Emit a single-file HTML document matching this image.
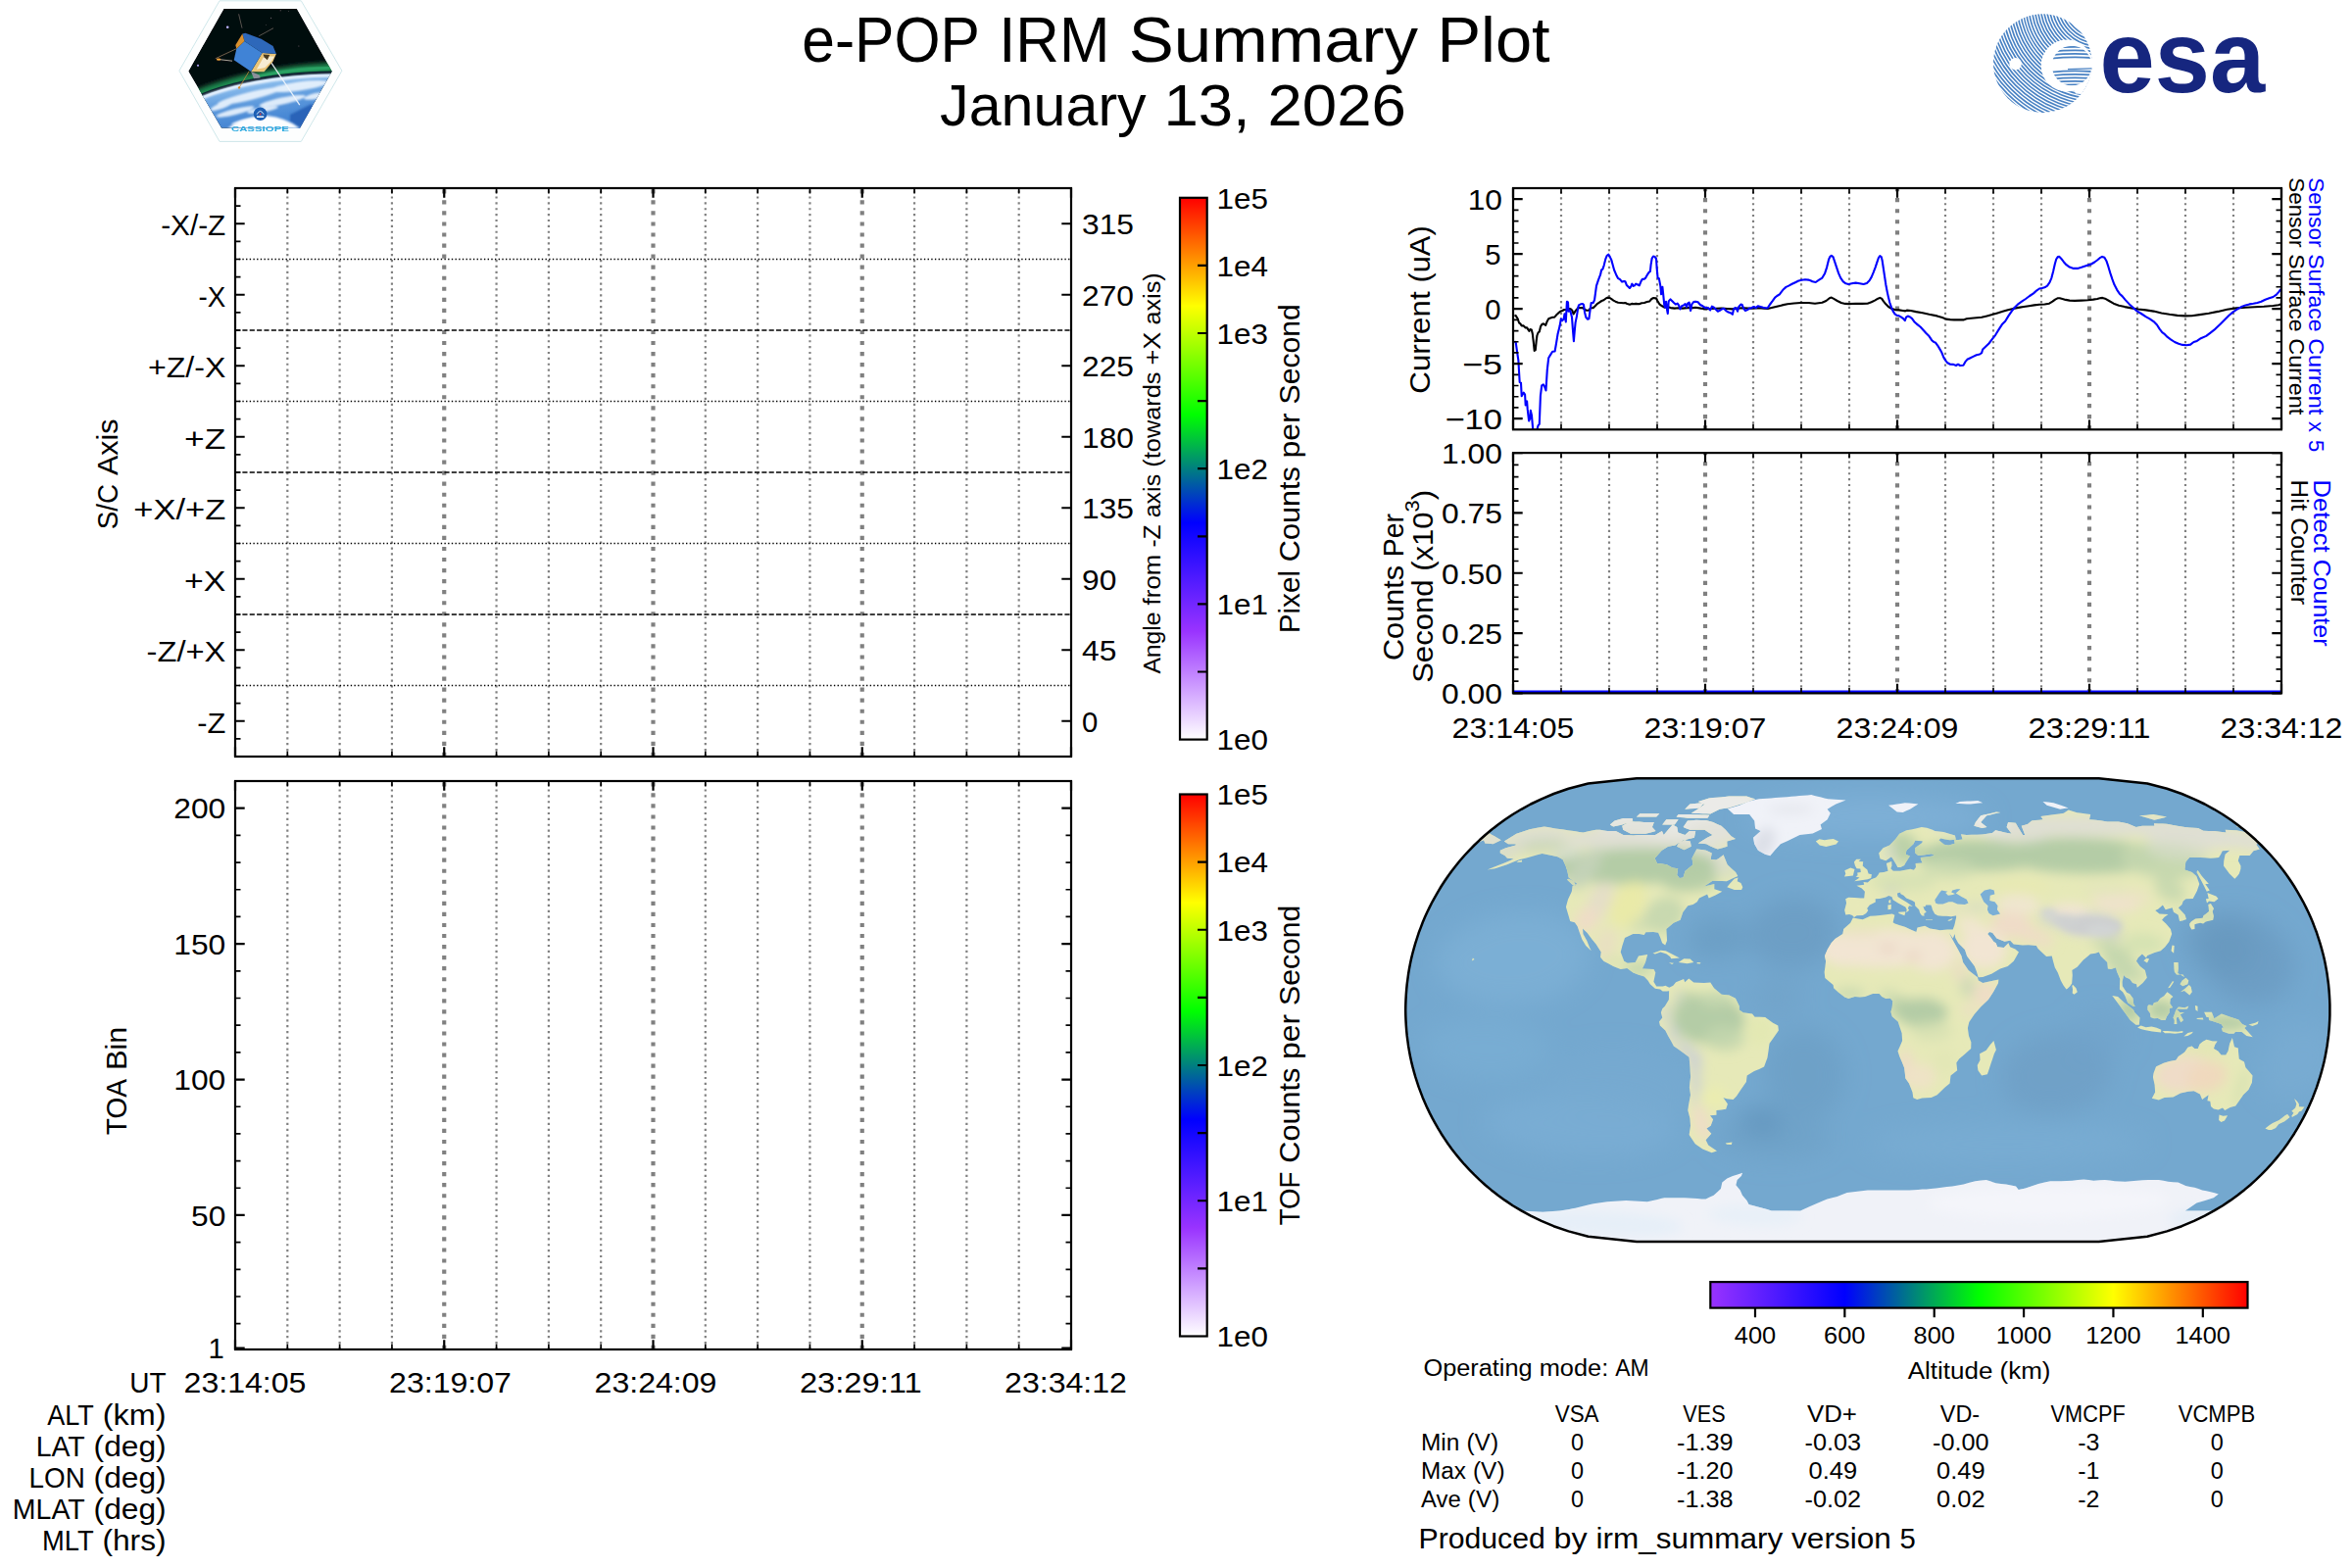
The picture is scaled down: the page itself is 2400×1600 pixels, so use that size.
<!DOCTYPE html>
<html><head><meta charset="utf-8"><title>e-POP IRM Summary Plot</title>
<style>html,body{margin:0;padding:0;background:#fff}svg{display:block}</style></head>
<body>
<svg width="2400" height="1600" viewBox="0 0 2400 1600" font-family="'Liberation Sans', sans-serif">
<rect width="2400" height="1600" fill="#fff"/>
<defs>
<linearGradient id="cm1" x1="0" y1="0" x2="0" y2="1">
<stop offset="0" stop-color="#ff0000"/><stop offset="0.2" stop-color="#ffff00"/><stop offset="0.4" stop-color="#00ff00"/><stop offset="0.6" stop-color="#0000ff"/><stop offset="0.8" stop-color="#9933ff"/><stop offset="1" stop-color="#ffffff"/>
</linearGradient>
<linearGradient id="cm2" x1="0" y1="0" x2="1" y2="0">
<stop offset="0" stop-color="#9933ff"/><stop offset="0.25" stop-color="#0000ff"/><stop offset="0.5" stop-color="#00ff00"/><stop offset="0.75" stop-color="#ffff00"/><stop offset="1" stop-color="#ff0000"/>
</linearGradient>
<clipPath id="mapclip"><path d="M2141.7 1266.9L2191.1 1261.7L2211.2 1256.4L2226.3 1251.2L2238.8 1245.9L2249.7 1240.7L2259.3 1235.4L2268.0 1230.2L2275.9 1224.9L2283.1 1219.7L2289.9 1214.4L2296.1 1209.2L2302.0 1203.9L2307.4 1198.7L2312.6 1193.4L2317.4 1188.2L2322.0 1182.9L2326.2 1177.7L2330.3 1172.4L2334.1 1167.2L2337.7 1161.9L2341.1 1156.7L2344.3 1151.4L2347.3 1146.1L2350.2 1140.9L2352.9 1135.6L2355.4 1130.4L2357.8 1125.1L2360.0 1119.9L2362.0 1114.6L2364.0 1109.4L2365.7 1104.1L2367.4 1098.9L2368.9 1093.6L2370.3 1088.4L2371.6 1083.1L2372.7 1077.9L2373.7 1072.6L2374.6 1067.4L2375.3 1062.1L2376.0 1056.9L2376.5 1051.6L2376.9 1046.4L2377.2 1041.1L2377.4 1035.9L2377.4 1030.6L2377.4 1025.3L2377.2 1020.1L2376.9 1014.8L2376.5 1009.6L2376.0 1004.3L2375.3 999.1L2374.6 993.8L2373.7 988.6L2372.7 983.3L2371.6 978.1L2370.3 972.8L2368.9 967.6L2367.4 962.3L2365.7 957.1L2364.0 951.8L2362.0 946.6L2360.0 941.3L2357.8 936.1L2355.4 930.8L2352.9 925.6L2350.2 920.3L2347.3 915.1L2344.3 909.8L2341.1 904.5L2337.7 899.3L2334.1 894.0L2330.3 888.8L2326.2 883.5L2322.0 878.3L2317.4 873.0L2312.6 867.8L2307.4 862.5L2302.0 857.3L2296.1 852.0L2289.9 846.8L2283.1 841.5L2275.9 836.3L2268.0 831.0L2259.3 825.8L2249.7 820.5L2238.8 815.3L2226.3 810.0L2211.2 804.8L2191.1 799.5L2141.7 794.2L1670.0 794.2L1620.6 799.5L1600.5 804.8L1585.4 810.0L1572.9 815.3L1562.0 820.5L1552.4 825.8L1543.7 831.0L1535.8 836.3L1528.6 841.5L1521.8 846.8L1515.6 852.0L1509.7 857.3L1504.3 862.5L1499.1 867.8L1494.3 873.0L1489.7 878.3L1485.5 883.5L1481.4 888.8L1477.6 894.0L1474.0 899.3L1470.6 904.5L1467.4 909.8L1464.4 915.1L1461.5 920.3L1458.8 925.6L1456.3 930.8L1453.9 936.1L1451.7 941.3L1449.7 946.6L1447.7 951.8L1446.0 957.1L1444.3 962.3L1442.8 967.6L1441.4 972.8L1440.1 978.1L1439.0 983.3L1438.0 988.6L1437.1 993.8L1436.4 999.1L1435.7 1004.3L1435.2 1009.6L1434.8 1014.8L1434.5 1020.1L1434.3 1025.3L1434.2 1030.6L1434.3 1035.9L1434.5 1041.1L1434.8 1046.4L1435.2 1051.6L1435.7 1056.9L1436.4 1062.1L1437.1 1067.4L1438.0 1072.6L1439.0 1077.9L1440.1 1083.1L1441.4 1088.4L1442.8 1093.6L1444.3 1098.9L1446.0 1104.1L1447.7 1109.4L1449.7 1114.6L1451.7 1119.9L1453.9 1125.1L1456.3 1130.4L1458.8 1135.6L1461.5 1140.9L1464.4 1146.1L1467.4 1151.4L1470.6 1156.7L1474.0 1161.9L1477.6 1167.2L1481.4 1172.4L1485.5 1177.7L1489.7 1182.9L1494.3 1188.2L1499.1 1193.4L1504.3 1198.7L1509.7 1203.9L1515.6 1209.2L1521.8 1214.4L1528.6 1219.7L1535.8 1224.9L1543.7 1230.2L1552.4 1235.4L1562.0 1240.7L1572.9 1245.9L1585.4 1251.2L1600.5 1256.4L1620.6 1261.7L1670.0 1266.9Z"/></clipPath>
<clipPath id="landclip"><path d="M1534.8 858.6L1547.3 850.7L1554.1 848.5L1560.8 846.2L1568.3 844.8L1575.7 843.4L1579.5 844.1L1583.4 844.8L1587.2 845.5L1591.4 846.1L1595.6 846.6L1599.8 847.2L1604.0 847.8L1607.8 848.3L1611.6 848.9L1615.5 849.4L1622.0 848.1L1628.5 846.8L1632.8 846.8L1636.5 847.4L1640.2 848.1L1644.5 848.1L1648.8 848.1L1652.6 850.1L1656.5 852.0L1661.7 852.3L1667.0 852.5L1671.7 852.0L1677.1 852.0L1682.5 852.0L1689.0 852.0L1695.9 848.1L1697.7 852.0L1702.1 846.8L1706.7 841.5L1711.3 844.1L1712.3 849.4L1715.8 850.7L1719.4 852.0L1723.8 848.1L1730.2 848.1L1728.9 854.7L1721.4 856.5L1713.1 859.9L1709.5 862.5L1702.2 863.8L1695.7 867.8L1688.6 875.7L1690.9 880.9L1695.9 881.6L1700.8 882.2L1706.6 885.4L1712.2 886.2L1711.2 892.7L1713.7 895.9L1717.5 895.4L1719.6 888.8L1727.6 882.2L1726.5 875.7L1731.3 866.5L1736.1 867.1L1740.9 867.8L1746.7 870.4L1745.6 877.0L1751.2 877.5L1754.1 875.7L1758.6 872.2L1762.6 882.2L1766.8 886.2L1771.1 890.1L1773.3 894.0L1768.6 895.9L1761.9 899.3L1757.1 899.1L1752.4 898.9L1747.6 898.8L1739.0 904.5L1744.1 903.2L1749.3 901.9L1749.3 907.2L1757.3 909.8L1750.4 913.5L1743.7 916.4L1742.1 912.4L1733.9 916.4L1731.8 920.3L1727.6 922.9L1722.3 924.2L1717.3 930.8L1714.6 938.7L1707.7 941.8L1700.3 947.9L1700.7 953.8L1701.1 959.7L1699.2 964.4L1696.1 962.3L1694.3 957.1L1692.1 951.8L1687.1 951.0L1679.4 951.3L1677.7 953.9L1672.7 953.1L1666.4 952.9L1658.0 957.1L1655.4 964.9L1653.7 971.5L1657.2 980.7L1660.8 982.8L1668.7 982.0L1672.0 975.5L1681.2 974.1L1679.0 982.0L1675.8 988.6L1681.7 988.8L1687.5 989.1L1689.3 992.5L1687.4 1001.7L1690.3 1006.4L1696.8 1006.4L1699.4 1005.7L1703.3 1007.8L1703.7 1010.9L1701.0 1011.4L1696.6 1011.4L1694.1 1009.6L1688.9 1008.8L1683.8 1004.3L1681.5 1000.4L1677.8 996.5L1671.4 994.4L1666.4 992.5L1660.3 988.1L1653.7 989.1L1646.2 986.0L1641.3 983.3L1636.4 980.7L1633.1 976.8L1633.8 971.5L1628.7 963.6L1624.5 958.4L1619.5 951.8L1615.0 947.4L1615.4 953.1L1619.2 959.7L1621.8 966.3L1623.7 970.2L1618.2 964.9L1614.3 958.4L1611.9 951.8L1609.7 945.3L1606.9 941.3L1602.2 940.0L1600.3 933.4L1597.9 925.6L1600.0 917.7L1603.8 909.8L1604.7 903.8L1609.6 901.9L1605.9 899.3L1600.7 895.4L1599.3 888.8L1597.6 883.5L1594.6 877.0L1589.4 874.3L1583.5 873.0L1578.5 872.0L1573.6 870.9L1567.8 872.6L1561.9 874.3L1556.4 875.7L1550.8 877.0L1544.3 879.6L1537.8 882.2L1531.7 884.2L1525.6 886.2L1517.7 887.5L1527.5 883.5L1534.0 880.9L1540.6 878.3L1544.5 876.2L1538.0 875.7L1535.5 873.0L1530.8 870.4L1530.8 867.8L1536.5 865.2L1546.7 862.5L1546.7 861.2L1539.0 861.2ZM1740.9 837.1L1744.5 838.0L1748.1 838.9L1752.2 840.9L1756.4 842.8L1760.8 846.8L1763.6 850.1L1766.6 853.3L1771.0 856.0L1762.3 858.6L1762.6 863.8L1757.6 865.2L1752.7 866.5L1748.8 864.9L1744.9 863.3L1741.3 861.2L1737.0 860.8L1732.8 860.4L1742.0 854.7L1747.6 852.0L1743.4 849.4L1739.4 846.8L1734.5 846.8L1729.5 846.8L1724.5 846.8L1721.0 845.5L1717.6 844.1L1722.0 837.6L1726.4 837.2L1730.8 836.8L1735.8 836.9ZM1656.2 846.8L1660.1 848.7L1664.0 850.7L1669.0 850.7L1674.0 850.7L1679.1 850.7L1684.3 849.4L1689.5 848.1L1685.9 844.1L1687.8 838.9L1682.7 838.9L1677.5 838.9L1672.8 838.6L1668.2 838.4L1663.6 838.1L1655.3 842.8ZM1642.8 841.5L1646.2 843.6L1655.4 841.5L1666.2 837.6L1665.6 835.0L1661.0 835.0L1656.4 835.0L1647.6 837.6ZM1725.8 829.7L1729.7 829.9L1733.6 830.0L1737.5 830.2L1741.4 830.3L1745.3 830.5L1754.7 825.8L1759.1 825.1L1763.4 824.5L1769.2 822.7L1775.0 820.9L1780.7 819.2L1785.9 817.2L1791.2 815.3L1788.1 814.4L1785.2 813.5L1782.3 812.6L1778.7 812.6L1775.1 812.6L1771.4 812.6L1767.8 812.6L1764.2 812.6L1760.1 813.0L1756.1 813.4L1752.1 813.7L1748.0 814.1L1743.9 814.5L1738.4 816.2L1732.8 817.9L1736.2 819.2L1739.7 820.5L1734.2 824.5ZM1710.6 833.6L1714.4 834.0L1718.2 834.3L1722.0 834.7L1726.1 834.7L1730.2 834.7L1734.3 834.7L1738.3 834.7L1742.4 834.7L1744.4 831.8L1740.4 831.6L1736.5 831.5L1732.6 831.3L1728.7 831.2L1724.8 831.0L1720.8 831.0L1716.8 831.0L1712.7 831.0ZM1669.9 833.6L1674.0 833.6L1678.0 833.6L1682.1 833.6L1686.2 833.6L1690.2 833.6L1693.3 830.2L1689.3 830.2L1685.3 830.2L1681.3 830.2L1677.3 830.2L1673.3 830.2ZM1696.2 841.5L1700.4 841.5L1704.6 841.5L1708.8 841.5L1712.6 836.3L1708.5 836.3L1704.4 836.3L1700.3 836.3ZM1719.3 825.8L1724.3 825.3L1729.2 824.9L1734.2 824.5L1739.0 819.2L1734.2 819.6L1729.3 820.1L1724.4 820.5ZM1711.1 863.8L1714.8 865.5L1718.5 867.3L1725.7 863.8L1724.8 858.6L1717.7 857.3L1712.4 861.2ZM1762.3 905.3L1769.8 908.0L1777.1 908.0L1778.3 905.3L1776.4 901.1L1772.7 899.3L1773.5 895.4L1769.7 896.7L1764.9 901.9ZM1598.9 897.5L1604.4 902.7L1608.1 903.5L1605.9 899.3L1600.7 896.7ZM1852.8 858.6L1856.8 862.5L1863.3 864.1L1868.5 862.8L1873.6 861.5L1876.0 858.6L1870.8 856.0L1866.3 856.6L1861.8 857.3L1856.5 856.2ZM1703.3 1007.8L1707.3 1005.7L1710.1 1002.2L1718.1 999.1L1719.2 1002.2L1723.3 998.6L1728.3 1002.5L1733.5 1002.8L1738.7 1003.0L1745.3 1002.5L1749.0 1008.3L1756.7 1014.8L1764.5 1015.4L1771.0 1018.8L1774.9 1026.7L1774.8 1030.6L1778.8 1033.2L1788.0 1034.5L1790.6 1037.7L1795.8 1037.8L1801.1 1038.0L1809.0 1043.7L1814.3 1046.4L1814.9 1051.6L1809.3 1059.5L1805.5 1064.7L1804.5 1072.6L1803.5 1079.2L1800.1 1088.4L1795.1 1091.0L1790.0 1093.1L1782.7 1097.6L1781.9 1104.1L1776.3 1112.0L1772.0 1118.6L1768.6 1122.0L1762.2 1121.2L1758.3 1119.9L1762.9 1126.5L1761.2 1131.7L1756.3 1132.4L1751.4 1133.0L1751.5 1137.7L1744.9 1138.3L1748.1 1142.2L1745.7 1148.8L1741.4 1151.4L1746.3 1156.7L1740.6 1163.2L1743.2 1168.5L1752.0 1174.5L1746.6 1176.3L1737.3 1172.4L1729.8 1167.2L1723.6 1158.0L1725.0 1148.8L1724.4 1140.9L1722.3 1133.0L1723.0 1127.8L1724.0 1122.5L1725.0 1117.3L1723.9 1109.4L1724.4 1104.1L1725.1 1098.9L1724.7 1093.6L1724.5 1088.4L1723.6 1078.7L1718.9 1075.2L1713.4 1071.3L1707.9 1067.4L1705.0 1062.1L1702.1 1056.9L1699.3 1051.6L1693.9 1046.4L1693.0 1042.4L1696.3 1038.5L1694.9 1033.2L1696.3 1029.3L1698.9 1026.7L1702.9 1020.1L1703.1 1012.2ZM1861.6 992.0L1862.4 986.4L1863.1 980.7L1861.9 975.5L1864.7 968.9L1868.7 962.3L1872.6 957.9L1880.4 953.1L1881.2 947.9L1888.2 941.8L1890.8 936.6L1895.8 937.4L1900.8 938.2L1908.4 934.7L1913.4 934.4L1918.4 934.0L1924.6 933.3L1930.9 932.6L1933.4 933.7L1931.6 941.3L1933.6 942.6L1938.7 944.2L1943.8 945.8L1949.6 948.4L1955.4 951.0L1956.5 946.6L1964.1 944.7L1969.3 947.4L1974.4 948.3L1979.5 949.2L1987.1 948.4L1992.7 948.4L1994.5 953.1L1992.8 957.6L1988.8 951.8L1991.4 957.1L1994.3 962.3L1997.2 967.6L2001.5 975.5L2003.1 982.0L2008.6 989.9L2017.9 997.2L2018.8 1000.4L2023.3 1003.0L2031.1 1001.2L2039.4 999.6L2039.0 1003.3L2034.0 1012.2L2028.9 1020.1L2021.1 1027.4L2014.6 1035.1L2009.3 1042.9L2007.9 1049.0L2009.0 1056.9L2011.4 1063.4L2011.2 1070.0L2004.5 1076.0L1999.1 1080.5L1996.3 1084.4L1997.2 1092.3L1990.5 1097.6L1989.6 1105.4L1984.7 1109.4L1976.7 1117.3L1970.7 1119.9L1961.3 1120.4L1956.2 1122.0L1952.3 1120.2L1951.5 1114.6L1948.0 1105.4L1944.3 1100.2L1943.8 1094.9L1943.2 1089.7L1940.8 1083.8L1938.3 1077.9L1936.5 1072.6L1938.8 1067.4L1941.1 1062.1L1940.6 1054.2L1938.0 1046.4L1936.7 1042.4L1930.7 1037.2L1929.4 1032.4L1930.7 1028.0L1931.3 1021.4L1928.9 1018.8L1924.2 1019.0L1920.2 1016.9L1917.6 1014.1L1911.1 1014.1L1903.2 1016.9L1898.0 1017.5L1892.8 1016.9L1886.2 1019.0L1882.3 1017.5L1875.8 1012.5L1871.1 1008.3L1870.6 1004.9L1866.7 1001.7L1862.3 998.0ZM2034.4 1062.1L2036.9 1071.3L2034.9 1075.2L2033.2 1080.5L2031.4 1085.7L2029.7 1091.0L2027.9 1096.3L2022.1 1097.6L2018.4 1092.3L2017.7 1087.1L2020.5 1081.8L2020.1 1075.2L2026.7 1071.8L2030.9 1066.1ZM1883.3 933.4L1882.2 928.7L1884.1 921.6L1883.2 917.2L1886.2 915.8L1892.3 916.1L1898.5 916.4L1902.2 916.6L1902.9 909.8L1899.8 906.4L1894.5 903.8L1902.2 902.7L1901.5 900.1L1905.8 900.6L1909.4 897.2L1914.2 895.6L1916.5 892.7L1917.7 890.6L1922.4 890.1L1926.6 888.8L1925.8 884.9L1924.9 880.9L1930.2 879.1L1930.4 883.5L1929.3 886.2L1931.8 888.8L1938.9 888.8L1944.1 887.7L1949.3 886.7L1952.9 887.7L1955.0 884.9L1954.6 880.9L1961.6 880.4L1960.0 877.0L1959.8 874.9L1967.8 874.3L1974.4 873.0L1970.8 871.2L1962.9 872.5L1957.3 873.0L1954.3 870.4L1954.1 865.2L1961.3 859.9L1961.7 858.3L1954.3 857.8L1952.5 861.2L1945.4 867.8L1944.6 871.7L1948.9 873.6L1944.2 880.9L1943.2 883.0L1939.3 884.9L1936.3 885.1L1935.0 882.2L1931.1 875.7L1929.9 874.3L1924.3 878.3L1918.5 876.2L1917.2 870.4L1921.6 865.2L1928.2 862.5L1934.4 856.0L1938.2 850.7L1945.4 847.3L1950.1 846.4L1954.7 845.5L1960.8 844.1L1966.2 844.7L1972.0 846.8L1974.4 848.1L1978.8 848.5L1983.2 848.9L1989.0 850.7L1994.9 852.5L1995.9 856.8L1989.5 857.3L1984.9 856.4L1980.3 855.4L1978.5 857.3L1983.8 861.7L1988.4 862.5L1994.7 860.7L1993.9 857.3L1998.2 856.9L2002.5 856.5L2001.0 851.2L2006.7 852.0L2012.0 851.8L2017.4 851.7L2022.7 851.5L2027.9 850.7L2033.0 849.9L2036.2 847.3L2040.9 848.3L2045.7 849.4L2052.7 850.7L2047.6 844.1L2049.1 838.9L2056.8 839.7L2059.2 844.1L2064.1 852.0L2066.3 852.0L2062.7 842.8L2069.0 841.0L2073.2 837.6L2077.0 837.1L2080.9 836.7L2084.7 836.3L2082.4 833.1L2086.1 832.6L2089.7 832.1L2093.4 831.5L2097.0 831.0L2101.4 830.4L2105.9 829.7L2108.4 828.1L2110.8 826.6L2119.4 829.2L2123.9 829.8L2128.6 830.4L2133.2 831.0L2132.0 836.3L2138.6 836.8L2144.5 837.6L2150.4 838.4L2156.1 838.4L2161.8 838.4L2170.8 840.2L2179.7 844.1L2185.9 842.8L2190.1 842.8L2194.3 842.8L2198.5 842.8L2197.9 840.2L2202.3 840.4L2206.6 840.6L2211.0 840.7L2216.3 841.8L2221.7 842.8L2229.5 844.1L2234.0 844.4L2238.5 844.7L2243.0 844.9L2248.3 847.8L2253.8 848.0L2259.3 848.1L2265.4 848.7L2271.5 849.4L2270.7 846.8L2276.3 847.0L2282.0 847.3L2287.5 848.3L2293.0 849.4L2299.1 854.7L2304.7 859.9L2302.2 861.7L2305.7 866.5L2299.5 868.3L2295.7 873.0L2290.5 873.0L2285.4 873.0L2283.8 878.3L2286.5 883.5L2286.4 886.7L2284.9 891.4L2283.0 894.0L2280.3 896.7L2274.9 891.4L2269.0 883.5L2269.2 878.8L2270.6 871.7L2275.3 867.8L2267.8 868.3L2266.1 871.7L2264.1 875.1L2259.7 875.4L2255.3 875.7L2250.5 875.3L2245.6 874.9L2239.8 874.9L2234.1 874.9L2230.3 879.6L2229.3 887.5L2236.7 890.1L2241.3 894.0L2244.3 901.9L2241.8 909.3L2237.7 916.9L2230.5 917.2L2227.7 919.5L2226.5 922.9L2222.8 926.3L2229.6 933.4L2231.0 937.9L2227.0 939.5L2224.1 940.0L2222.6 933.4L2218.0 930.8L2216.6 926.3L2209.7 928.2L2206.9 923.5L2202.1 927.7L2199.2 929.0L2203.6 932.6L2212.5 932.9L2208.4 936.1L2206.1 938.7L2210.2 942.6L2214.9 947.9L2216.2 953.1L2213.3 961.0L2209.2 966.3L2204.7 970.2L2198.6 972.0L2191.3 974.9L2189.8 977.3L2185.9 973.6L2181.8 977.3L2179.9 980.7L2183.7 986.0L2188.8 989.9L2190.8 997.8L2186.5 1003.0L2180.8 1007.8L2180.1 1004.3L2176.1 1003.0L2173.2 999.1L2169.1 997.2L2167.1 995.1L2165.6 1001.7L2165.8 1006.2L2170.1 1012.7L2173.3 1014.3L2176.6 1018.8L2177.0 1024.0L2178.8 1026.9L2176.5 1026.7L2171.2 1023.2L2168.4 1016.2L2166.1 1012.2L2162.9 1009.6L2163.0 1003.0L2163.3 999.1L2160.0 991.2L2159.1 987.3L2154.1 989.1L2150.9 988.6L2150.3 982.0L2143.6 975.5L2141.8 971.5L2138.1 972.8L2133.0 973.6L2130.2 976.0L2125.9 979.4L2119.6 986.7L2114.4 989.9L2114.8 995.1L2114.2 1003.6L2112.3 1006.2L2109.8 1008.8L2108.5 1009.6L2105.7 1005.7L2102.8 1000.4L2099.8 992.5L2096.8 987.3L2095.0 980.7L2093.7 975.5L2088.1 976.0L2083.8 972.0L2079.6 968.1L2077.9 964.9L2070.1 964.2L2063.8 964.4L2054.7 963.4L2051.2 959.7L2045.5 960.7L2037.5 957.6L2033.1 951.8L2030.0 951.0L2028.1 953.1L2031.0 956.3L2034.5 961.0L2036.6 962.3L2038.2 966.3L2044.7 967.0L2049.4 962.3L2051.1 966.3L2056.4 968.4L2060.0 971.5L2057.1 976.8L2054.8 980.7L2048.7 986.0L2041.0 988.6L2032.1 993.8L2023.2 997.0L2018.7 997.2L2016.9 991.2L2014.9 986.0L2011.0 980.7L2007.1 975.5L2005.0 968.9L1998.2 962.3L1995.3 957.1L1994.5 953.1L1992.7 948.4L1994.4 943.9L1996.2 936.1L1996.1 934.2L1991.1 935.3L1986.1 934.7L1982.3 934.7L1977.3 934.2L1974.2 932.6L1971.9 928.2L1971.2 925.6L1970.3 923.5L1965.3 923.5L1964.2 925.6L1962.4 924.8L1963.6 928.2L1965.8 930.8L1963.4 932.1L1963.5 934.7L1961.0 934.2L1959.1 931.6L1958.2 928.2L1954.2 924.2L1954.0 920.8L1951.4 919.0L1945.2 916.4L1942.6 913.7L1939.3 911.9L1939.3 910.6L1935.9 911.6L1936.5 915.1L1939.5 916.9L1945.4 920.6L1951.8 925.0L1948.0 924.2L1946.9 926.9L1948.2 928.7L1945.8 930.8L1945.1 930.8L1945.7 928.2L1944.3 925.6L1940.5 923.5L1936.8 921.6L1931.7 918.2L1930.4 915.1L1927.2 914.0L1924.3 915.6L1918.1 916.9L1913.7 917.2L1913.8 920.6L1907.8 923.5L1905.1 926.9L1906.3 929.0L1904.1 931.9L1900.8 934.0L1894.6 934.2L1892.0 936.1L1890.1 934.0L1887.1 932.9ZM1518.7 849.4L1521.7 851.4L1525.0 853.3L1528.3 855.3L1531.7 857.3L1523.4 861.2L1519.3 860.8L1515.3 860.4L1514.1 857.3L1507.0 859.9L1512.6 854.7ZM1892.2 899.3L1897.5 898.5L1905.8 897.2L1909.2 896.1L1909.9 892.2L1906.6 891.4L1905.4 887.5L1902.3 884.9L1900.7 883.5L1901.2 879.3L1896.6 879.1L1898.9 876.7L1894.3 876.7L1891.9 879.6L1893.0 883.5L1894.6 886.2L1898.3 886.4L1898.8 890.1L1895.2 890.6L1895.6 893.3L1893.5 894.6L1897.5 895.6ZM1882.0 894.6L1890.9 893.5L1891.7 890.1L1892.5 887.0L1888.3 885.4L1882.3 888.3L1883.3 891.4ZM2236.3 948.4L2239.5 947.9L2239.4 943.2L2241.8 942.6L2245.3 941.8L2248.1 942.6L2250.7 940.5L2254.7 939.5L2258.2 938.7L2258.9 934.7L2257.7 930.0L2259.0 926.9L2255.9 922.1L2253.3 922.9L2253.7 926.1L2254.0 930.0L2249.7 933.4L2248.6 934.0L2247.6 936.8L2240.2 937.4L2236.0 940.3L2234.2 942.6L2234.3 944.7ZM2252.0 921.6L2254.1 919.5L2259.4 920.3L2263.6 916.9L2261.3 914.5L2252.4 911.1L2253.7 916.9L2250.9 917.2ZM2251.8 909.8L2254.8 908.5L2250.3 901.9L2253.9 901.9L2246.8 894.0L2242.6 888.0L2241.5 890.1L2246.5 899.3L2249.2 904.5ZM2215.5 970.2L2218.1 972.8L2218.7 964.9L2216.5 964.4ZM2187.4 980.2L2191.0 982.5L2193.1 978.6L2190.4 977.8ZM2114.3 1005.7L2115.0 1009.6L2114.7 1013.5L2116.5 1014.8L2119.8 1012.2L2118.4 1008.3L2115.3 1004.9ZM2218.5 988.6L2218.2 982.0L2222.6 982.0L2222.9 988.6L2222.2 993.0L2229.1 997.0L2227.5 994.4L2221.0 994.6L2218.9 991.7ZM2225.0 1012.2L2228.9 1010.9L2234.3 1015.6L2236.8 1012.2L2235.7 1007.0L2233.7 1004.9L2229.3 1009.1ZM2224.5 1004.3L2227.2 1006.2L2232.3 1004.3L2233.3 1000.4L2230.5 997.8L2226.8 1000.4ZM2212.2 1008.3L2214.3 1007.8L2218.3 1001.7L2216.9 1001.2ZM2191.4 1026.7L2192.7 1025.3L2196.6 1026.1L2197.9 1023.2L2201.8 1022.2L2204.3 1018.8L2208.2 1016.2L2211.4 1012.2L2213.8 1014.1L2217.4 1016.9L2214.8 1019.3L2214.2 1024.0L2217.1 1028.0L2213.7 1029.3L2213.7 1033.2L2211.0 1037.2L2209.6 1041.1L2205.7 1041.1L2201.8 1039.0L2197.9 1039.3L2194.5 1038.0L2194.0 1034.0L2191.4 1030.6ZM2155.3 1015.9L2161.1 1016.9L2167.8 1023.2L2170.4 1025.3L2177.0 1030.6L2178.3 1033.2L2183.5 1038.5L2182.8 1045.8L2179.4 1045.8L2173.7 1041.1L2169.1 1034.5L2165.2 1029.3L2160.4 1022.7ZM2181.1 1048.5L2184.6 1046.4L2189.7 1048.2L2195.5 1047.4L2200.7 1048.7L2205.3 1050.8L2205.1 1053.4L2196.1 1052.4L2188.3 1051.1L2184.4 1050.0ZM2206.5 1052.1L2211.8 1052.1L2217.0 1052.4L2222.2 1052.7L2227.4 1052.1L2227.3 1053.7L2219.4 1054.8L2214.2 1054.2L2209.0 1054.2ZM2228.4 1057.6L2232.5 1054.0L2237.9 1052.7L2236.4 1054.8L2232.3 1056.9ZM2218.6 1045.0L2221.3 1045.0L2220.9 1038.5L2222.8 1037.7L2225.3 1043.2L2228.0 1041.1L2224.7 1035.3L2228.9 1033.0L2224.2 1033.0L2221.0 1029.8L2222.9 1027.4L2229.4 1028.2L2233.3 1026.4L2232.0 1029.5L2228.1 1029.8L2222.9 1029.5L2220.2 1030.6L2219.5 1033.2L2217.5 1038.5L2218.8 1041.1ZM2239.9 1025.9L2242.5 1026.7L2242.5 1031.9L2240.4 1030.6ZM2241.1 1039.0L2247.7 1038.5L2248.4 1040.6L2242.4 1040.1ZM2249.1 1032.7L2256.9 1032.7L2259.4 1039.3L2266.9 1034.5L2275.2 1037.4L2284.3 1040.6L2288.0 1045.0L2292.6 1047.1L2290.4 1049.0L2298.8 1058.2L2292.4 1056.9L2287.5 1052.9L2281.0 1052.9L2279.5 1054.8L2274.3 1054.8L2267.9 1052.4L2266.9 1049.0L2269.0 1048.5L2266.5 1045.0L2259.3 1042.4L2254.1 1041.1L2253.7 1038.0L2251.6 1038.0ZM2294.5 1045.6L2301.2 1043.7L2304.6 1041.9L2303.7 1045.0L2298.4 1047.1ZM2200.0 1088.4L2197.6 1094.9L2196.9 1098.9L2198.6 1106.8L2199.1 1114.6L2195.8 1120.7L2202.8 1122.5L2208.6 1119.9L2217.5 1119.6L2225.0 1115.4L2233.0 1113.8L2238.7 1113.3L2244.9 1116.5L2247.1 1122.0L2253.6 1117.3L2252.4 1123.3L2255.3 1123.8L2256.0 1129.1L2258.9 1131.4L2263.5 1132.5L2268.0 1130.4L2270.2 1133.0L2275.7 1129.9L2281.2 1128.6L2285.4 1122.5L2289.0 1117.3L2294.4 1112.0L2297.9 1104.7L2298.5 1097.6L2294.5 1092.8L2291.4 1089.2L2290.0 1083.6L2284.8 1080.5L2284.0 1072.6L2283.9 1069.5L2280.0 1068.2L2277.9 1059.0L2275.2 1064.7L2273.6 1072.6L2271.2 1076.6L2266.6 1076.6L2263.2 1072.6L2258.9 1070.0L2260.2 1066.1L2262.6 1062.6L2257.9 1062.6L2251.6 1060.8L2247.5 1062.9L2244.6 1065.5L2242.8 1070.0L2239.4 1070.0L2236.6 1067.4L2232.5 1068.7L2229.3 1073.4L2225.9 1076.0L2222.8 1077.9L2220.4 1081.8L2213.7 1083.1L2207.8 1084.7L2201.4 1087.8ZM2264.5 1137.5L2268.4 1138.8L2273.1 1138.3L2270.0 1143.5L2266.4 1145.1L2264.1 1143.0ZM2341.1 1120.9L2344.0 1123.8L2345.9 1126.5L2345.9 1129.3L2351.5 1129.6L2348.3 1133.8L2346.1 1134.3L2344.3 1137.0L2339.1 1139.8L2338.3 1139.1L2340.5 1135.6L2338.4 1133.8L2342.2 1130.4L2343.4 1126.5ZM2334.1 1137.0L2336.5 1140.1L2331.2 1144.3L2325.3 1146.9L2322.1 1151.1L2317.9 1153.0L2314.9 1153.0L2311.4 1151.4L2315.6 1148.2L2319.1 1146.1L2325.7 1143.0L2331.8 1138.3ZM1686.5 972.8L1694.6 969.7L1699.7 970.2L1707.0 974.1L1713.9 977.6L1705.3 978.3L1704.2 976.2L1700.6 973.6L1694.4 971.5L1689.0 973.4ZM1712.7 982.0L1718.3 978.3L1724.7 978.6L1728.3 982.0L1721.7 983.3ZM1702.9 982.3L1708.0 982.8L1706.1 983.9ZM1731.7 982.0L1735.5 982.3L1734.7 983.6L1731.6 983.3ZM2014.3 842.8L2022.5 844.9L2027.5 844.1L2021.1 838.9L2024.3 835.6L2027.2 832.3L2030.8 831.5L2034.4 830.6L2037.9 829.8L2041.4 828.9L2037.1 828.4L2033.2 829.4L2029.2 830.4L2025.2 831.3L2021.2 832.3L2018.6 835.6L2015.9 838.9ZM2183.0 832.3L2190.7 834.6L2198.3 836.8L2201.6 836.0L2204.7 835.2L2207.9 834.4L2211.0 833.6L2204.2 832.3L2197.5 831.0L2193.9 831.3L2190.3 831.7L2186.7 832.0ZM2282.7 843.6L2286.6 844.1L2284.9 842.8L2281.7 842.8ZM1937.1 930.8L1944.5 930.3L1943.4 934.2L1937.6 932.1ZM1926.5 928.2L1929.7 927.7L1929.9 922.9L1926.4 923.5ZM1927.4 921.6L1929.3 921.6L1929.2 917.7L1927.3 919.0ZM1965.0 937.9L1972.0 938.2L1972.0 938.7L1965.0 938.4ZM1987.2 939.2L1992.6 937.1L1991.4 938.7L1989.0 939.7ZM1547.4 880.1L1553.1 879.6L1553.0 877.8L1549.8 878.3ZM1501.8 980.4L1504.6 979.1L1502.9 977.6ZM1760.6 1166.6L1767.5 1165.6L1766.8 1167.9L1762.0 1167.7Z"/></clipPath>
<clipPath id="iceclip"><path d="M1762.9 825.2L1765.9 828.1L1769.1 831.0L1773.1 831.0L1777.1 831.0L1781.1 831.0L1785.1 831.0L1787.6 834.3L1790.2 837.6L1791.1 845.5L1796.6 848.1L1789.0 854.7L1790.2 861.2L1794.0 867.8L1801.0 871.7L1806.3 873.3L1810.9 867.8L1816.9 861.2L1824.3 858.1L1830.4 855.0L1836.5 852.0L1840.9 851.5L1845.3 851.0L1849.7 850.4L1854.4 848.2L1859.0 846.0L1857.6 841.5L1864.7 836.3L1867.8 829.7L1864.6 825.8L1869.0 823.1L1873.4 820.5L1878.5 818.5L1883.5 816.6L1879.8 816.3L1876.1 816.0L1872.4 815.8L1868.8 815.5L1865.2 815.3L1861.7 814.4L1858.3 813.6L1854.9 812.7L1851.6 811.9L1848.4 811.1L1844.3 811.4L1840.3 811.8L1836.2 812.1L1832.1 812.5L1827.9 812.8L1823.8 813.2L1819.7 813.5L1815.6 813.8L1811.5 814.1L1807.3 814.4L1803.2 814.7L1799.0 815.0L1794.9 815.3L1789.2 816.6L1783.6 817.9L1775.0 821.8L1769.0 823.5ZM1552.4 1235.4L1556.8 1235.7L1561.2 1236.0L1565.5 1236.2L1569.9 1236.5L1574.2 1236.7L1577.7 1236.5L1581.2 1236.2L1584.7 1236.0L1588.2 1235.7L1591.7 1235.4L1594.8 1234.9L1598.0 1234.4L1601.2 1233.9L1604.4 1233.3L1607.6 1232.8L1610.5 1232.0L1613.5 1231.2L1616.5 1230.4L1619.5 1229.7L1622.6 1228.9L1626.1 1228.3L1629.5 1227.8L1633.0 1227.3L1636.5 1226.8L1640.0 1226.2L1643.8 1226.0L1647.6 1225.7L1651.5 1225.5L1655.3 1225.2L1659.2 1224.9L1663.5 1225.2L1667.9 1225.5L1672.2 1225.7L1676.6 1226.0L1680.9 1226.2L1684.3 1225.5L1687.7 1224.7L1691.2 1223.9L1694.7 1223.1L1698.2 1222.3L1702.4 1222.3L1706.5 1222.3L1710.7 1222.3L1714.8 1222.3L1719.0 1222.3L1723.3 1222.6L1727.6 1222.8L1732.0 1223.1L1736.3 1223.4L1740.6 1223.6L1744.6 1221.6L1748.6 1219.7L1752.2 1216.4L1755.9 1213.1L1757.3 1206.5L1762.3 1202.6L1768.0 1200.0L1773.0 1198.4L1778.1 1196.8L1776.9 1200.0L1772.7 1203.9L1771.4 1209.2L1775.7 1214.4L1778.0 1219.7L1782.5 1224.9L1784.5 1228.9L1789.2 1230.2L1793.8 1231.5L1798.5 1232.8L1803.1 1234.1L1807.7 1235.4L1811.6 1235.4L1815.5 1235.4L1819.5 1235.4L1823.4 1235.4L1827.3 1235.4L1832.2 1235.4L1837.1 1235.4L1841.4 1233.5L1845.8 1231.5L1850.4 1229.5L1855.0 1227.6L1859.7 1225.6L1864.5 1223.6L1869.5 1222.3L1874.6 1221.0L1879.6 1219.0L1884.7 1217.1L1888.9 1216.5L1893.1 1216.0L1897.3 1215.5L1901.6 1215.0L1905.8 1214.4L1910.1 1214.4L1914.4 1214.4L1918.7 1214.4L1922.9 1214.4L1927.2 1214.4L1931.5 1214.4L1935.7 1214.4L1940.0 1214.4L1944.3 1214.4L1948.5 1214.4L1952.8 1214.2L1957.1 1213.9L1961.5 1213.6L1965.8 1213.4L1970.1 1213.1L1975.6 1212.5L1981.1 1211.8L1986.7 1211.1L1992.2 1210.5L1997.9 1209.4L2003.6 1208.4L2009.5 1206.8L2015.5 1205.2L2021.2 1204.6L2026.9 1203.9L2031.8 1205.6L2036.6 1207.3L2041.9 1207.9L2047.1 1208.4L2052.1 1209.4L2057.0 1210.5L2059.7 1213.9L2066.8 1212.6L2073.4 1210.2L2080.0 1207.9L2086.1 1206.5L2092.2 1205.2L2097.7 1205.2L2103.2 1205.2L2108.8 1205.0L2114.5 1204.7L2120.3 1204.1L2126.2 1203.4L2131.3 1204.1L2136.4 1204.7L2142.2 1204.3L2147.9 1203.9L2153.0 1204.6L2158.0 1205.2L2163.3 1205.5L2168.6 1205.8L2174.5 1205.2L2180.3 1204.7L2186.1 1204.3L2191.9 1203.9L2197.4 1203.9L2202.9 1203.9L2207.7 1204.8L2212.4 1205.8L2217.5 1206.2L2222.6 1206.5L2226.5 1208.3L2230.3 1210.0L2234.8 1210.9L2239.3 1211.8L2243.3 1213.1L2247.2 1214.4L2251.5 1215.3L2255.8 1216.3L2259.8 1217.3L2263.8 1218.4L2258.8 1222.3L2250.2 1224.9L2241.5 1227.6L2229.8 1235.4L2234.7 1235.4L2239.7 1235.4L2243.6 1235.4L2247.5 1235.4L2251.4 1235.4L2255.4 1235.4L2259.3 1235.4L2249.7 1240.7L2238.8 1245.9L2226.3 1251.2L2211.2 1256.4L2191.1 1261.7L2141.7 1266.9L2139.0 1266.9L2136.4 1266.9L2133.8 1266.9L2131.2 1266.9L2128.5 1266.9L2125.9 1266.9L2123.3 1266.9L2120.7 1266.9L2118.1 1266.9L2115.4 1266.9L2112.8 1266.9L2110.2 1266.9L2107.6 1266.9L2105.0 1266.9L2102.3 1266.9L2099.7 1266.9L2097.1 1266.9L2094.5 1266.9L2091.9 1266.9L2089.2 1266.9L2086.6 1266.9L2084.0 1266.9L2081.4 1266.9L2078.8 1266.9L2076.2 1266.9L2073.5 1266.9L2070.9 1266.9L2068.3 1266.9L2065.7 1266.9L2063.0 1266.9L2060.4 1266.9L2057.8 1266.9L2055.2 1266.9L2052.6 1266.9L2049.9 1266.9L2047.3 1266.9L2044.7 1266.9L2042.1 1266.9L2039.5 1266.9L2036.8 1266.9L2034.2 1266.9L2031.6 1266.9L2029.0 1266.9L2026.4 1266.9L2023.8 1266.9L2021.1 1266.9L2018.5 1266.9L2015.9 1266.9L2013.3 1266.9L2010.6 1266.9L2008.0 1266.9L2005.4 1266.9L2002.8 1266.9L2000.2 1266.9L1997.5 1266.9L1994.9 1266.9L1992.3 1266.9L1989.7 1266.9L1987.1 1266.9L1984.4 1266.9L1981.8 1266.9L1979.2 1266.9L1976.6 1266.9L1974.0 1266.9L1971.3 1266.9L1968.7 1266.9L1966.1 1266.9L1963.5 1266.9L1960.9 1266.9L1958.2 1266.9L1955.6 1266.9L1953.0 1266.9L1950.4 1266.9L1947.8 1266.9L1945.1 1266.9L1942.5 1266.9L1939.9 1266.9L1937.3 1266.9L1934.7 1266.9L1932.0 1266.9L1929.4 1266.9L1926.8 1266.9L1924.2 1266.9L1921.6 1266.9L1918.9 1266.9L1916.3 1266.9L1913.7 1266.9L1911.1 1266.9L1908.5 1266.9L1905.8 1266.9L1903.2 1266.9L1900.6 1266.9L1898.0 1266.9L1895.4 1266.9L1892.8 1266.9L1890.1 1266.9L1887.5 1266.9L1884.9 1266.9L1882.3 1266.9L1879.6 1266.9L1877.0 1266.9L1874.4 1266.9L1871.8 1266.9L1869.2 1266.9L1866.5 1266.9L1863.9 1266.9L1861.3 1266.9L1858.7 1266.9L1856.1 1266.9L1853.4 1266.9L1850.8 1266.9L1848.2 1266.9L1845.6 1266.9L1843.0 1266.9L1840.3 1266.9L1837.7 1266.9L1835.1 1266.9L1832.5 1266.9L1829.9 1266.9L1827.2 1266.9L1824.6 1266.9L1822.0 1266.9L1819.4 1266.9L1816.8 1266.9L1814.1 1266.9L1811.5 1266.9L1808.9 1266.9L1806.3 1266.9L1803.7 1266.9L1801.0 1266.9L1798.4 1266.9L1795.8 1266.9L1793.2 1266.9L1790.6 1266.9L1787.9 1266.9L1785.3 1266.9L1782.7 1266.9L1780.1 1266.9L1777.5 1266.9L1774.8 1266.9L1772.2 1266.9L1769.6 1266.9L1767.0 1266.9L1764.4 1266.9L1761.8 1266.9L1759.1 1266.9L1756.5 1266.9L1753.9 1266.9L1751.3 1266.9L1748.6 1266.9L1746.0 1266.9L1743.4 1266.9L1740.8 1266.9L1738.2 1266.9L1735.5 1266.9L1732.9 1266.9L1730.3 1266.9L1727.7 1266.9L1725.1 1266.9L1722.4 1266.9L1719.8 1266.9L1717.2 1266.9L1714.6 1266.9L1712.0 1266.9L1709.3 1266.9L1706.7 1266.9L1704.1 1266.9L1701.5 1266.9L1698.9 1266.9L1696.2 1266.9L1693.6 1266.9L1691.0 1266.9L1688.4 1266.9L1685.8 1266.9L1683.1 1266.9L1680.5 1266.9L1677.9 1266.9L1675.3 1266.9L1672.7 1266.9L1670.0 1266.9L1620.6 1261.7L1600.5 1256.4L1585.4 1251.2L1572.9 1245.9L1562.0 1240.7ZM1927.0 821.8L1931.3 825.1L1935.7 828.4L1941.7 828.9L1945.4 827.3L1949.0 825.8L1953.3 823.1L1957.4 820.5L1952.9 820.1L1948.3 819.6L1943.8 819.2L1939.6 819.9L1935.5 820.5L1931.3 821.2ZM2088.6 821.8L2095.4 823.8L2102.2 825.8L2106.5 825.1L2110.7 824.5L2103.1 821.8L2095.4 819.2L2090.0 818.5L2084.5 817.9ZM1995.4 820.0L1999.2 820.1L2003.1 820.2L2007.0 820.4L2010.9 820.5L2015.1 820.1L2019.3 819.6L2023.4 819.2L2018.2 817.1L2014.5 817.3L2010.9 817.4L2007.2 817.6L2003.6 817.7L1999.9 817.9Z"/></clipPath>
<filter id="blur6" x="-20%" y="-20%" width="140%" height="140%"><feGaussianBlur stdDeviation="6"/></filter>
<filter id="blur3" x="-20%" y="-20%" width="140%" height="140%"><feGaussianBlur stdDeviation="3"/></filter>
<filter id="blur12" x="-20%" y="-20%" width="140%" height="140%"><feGaussianBlur stdDeviation="12"/></filter>
<clipPath id="hexclip"><polygon points="192.2,72.7 228.3,9.1 303,9.1 338.8,72.7 305.8,131 226,130.6"/></clipPath>
<filter id="lb1" x="-10%" y="-10%" width="120%" height="120%"><feGaussianBlur stdDeviation="1.2"/></filter>
<filter id="lb2" x="-10%" y="-10%" width="120%" height="120%"><feGaussianBlur stdDeviation="2.5"/></filter>
<filter id="lb0" x="-5%" y="-5%" width="110%" height="110%"><feGaussianBlur stdDeviation="0.45"/></filter>
<linearGradient id="earthg" x1="0" y1="0" x2="0.35" y2="1"><stop offset="0" stop-color="#dff0ff"/><stop offset="0.25" stop-color="#8fc0ee"/><stop offset="0.6" stop-color="#5b98dc"/><stop offset="1" stop-color="#3f7fd0"/></linearGradient>
<clipPath id="esadisk"><circle cx="2084.3" cy="64.6" r="50.3"/></clipPath>
<clipPath id="esaglobe"><circle cx="2114.1" cy="67" r="20.3"/></clipPath>
</defs>
<text y="62.5" font-size="64.47"><tspan x="818.3" textLength="181.5" lengthAdjust="spacingAndGlyphs">e-POP</tspan><tspan x="1019.2" textLength="113.2" lengthAdjust="spacingAndGlyphs">IRM</tspan><tspan x="1151.8" textLength="295.3" lengthAdjust="spacingAndGlyphs">Summary</tspan><tspan x="1466.5" textLength="115.2" lengthAdjust="spacingAndGlyphs">Plot</tspan></text>
<text y="127.9" font-size="58.62"><tspan x="959.1" textLength="210.6" lengthAdjust="spacingAndGlyphs">January</tspan><tspan x="1187.4" textLength="88.4" lengthAdjust="spacingAndGlyphs">13,</tspan><tspan x="1293.5" textLength="141.4" lengthAdjust="spacingAndGlyphs">2026</tspan></text>
<path d="M293.31 772V192M346.62 772V192M399.94 772V192M506.56 772V192M559.88 772V192M613.19 772V192M719.81 772V192M773.12 772V192M826.44 772V192M933.06 772V192M986.38 772V192M1039.69 772V192" stroke="#808080" stroke-width="2.2" stroke-dasharray="2.2 3.67" fill="none"/>
<path d="M453.25 772V192M666.50 772V192M879.75 772V192" stroke="#808080" stroke-width="4.17" stroke-dasharray="4.17 6.88" fill="none"/>
<path d="M240 699.50H1093M240 554.50H1093M240 409.50H1093M240 264.50H1093" stroke="#000" stroke-width="1.39" stroke-dasharray="1.39 2.29" fill="none"/>
<path d="M240 627.00H1093M240 482.00H1093M240 337.00H1093" stroke="#000" stroke-width="1.39" stroke-dasharray="5.14 2.22" fill="none"/>
<path d="M240.00 772v-9.7M240.00 192v9.7M453.25 772v-9.7M453.25 192v9.7M666.50 772v-9.7M666.50 192v9.7M879.75 772v-9.7M879.75 192v9.7M1093.00 772v-9.7M1093.00 192v9.7" stroke="#000" stroke-width="2.2" fill="none"/>
<path d="M293.31 772v-5.5M293.31 192v5.5M346.62 772v-5.5M346.62 192v5.5M399.94 772v-5.5M399.94 192v5.5M506.56 772v-5.5M506.56 192v5.5M559.88 772v-5.5M559.88 192v5.5M613.19 772v-5.5M613.19 192v5.5M719.81 772v-5.5M719.81 192v5.5M773.12 772v-5.5M773.12 192v5.5M826.44 772v-5.5M826.44 192v5.5M933.06 772v-5.5M933.06 192v5.5M986.38 772v-5.5M986.38 192v5.5M1039.69 772v-5.5M1039.69 192v5.5" stroke="#000" stroke-width="1.67" fill="none"/>
<path d="M240 735.75h9.7M1093 735.75h-9.7M240 663.25h9.7M1093 663.25h-9.7M240 590.75h9.7M1093 590.75h-9.7M240 518.25h9.7M1093 518.25h-9.7M240 445.75h9.7M1093 445.75h-9.7M240 373.25h9.7M1093 373.25h-9.7M240 300.75h9.7M1093 300.75h-9.7M240 228.25h9.7M1093 228.25h-9.7" stroke="#000" stroke-width="2.2" fill="none"/>
<path d="" stroke="#000" stroke-width="1.67" fill="none"/>
<path d="M240 753.88h5.5M240 717.62h5.5M240 699.50h5.5M240 681.38h5.5M240 645.12h5.5M240 627.00h5.5M240 608.88h5.5M240 572.62h5.5M240 554.50h5.5M240 536.38h5.5M240 500.12h5.5M240 482.00h5.5M240 463.88h5.5M240 427.62h5.5M240 409.50h5.5M240 391.38h5.5M240 355.12h5.5M240 337.00h5.5M240 318.88h5.5M240 282.62h5.5M240 264.50h5.5M240 246.38h5.5M240 210.12h5.5" stroke="#000" stroke-width="1.67" fill="none"/>
<rect x="240" y="192" width="853" height="580" fill="none" stroke="#000" stroke-width="2.2"/>
<text x="201.2" y="747.5" font-size="29.31" textLength="29.1" lengthAdjust="spacingAndGlyphs">-Z</text>
<text x="1104.0" y="746.7" font-size="29.31">0</text>
<text x="149.6" y="675.0" font-size="29.31" textLength="80.7" lengthAdjust="spacingAndGlyphs">-Z/+X</text>
<text x="1104.0" y="674.2" font-size="29.31" textLength="35.3" lengthAdjust="spacingAndGlyphs">45</text>
<text x="188.0" y="602.5" font-size="29.31" textLength="42.3" lengthAdjust="spacingAndGlyphs">+X</text>
<text x="1104.0" y="601.7" font-size="29.31" textLength="35.3" lengthAdjust="spacingAndGlyphs">90</text>
<text x="136.3" y="530.0" font-size="29.31" textLength="94.0" lengthAdjust="spacingAndGlyphs">+X/+Z</text>
<text x="1104.0" y="529.2" font-size="29.31" textLength="53.0" lengthAdjust="spacingAndGlyphs">135</text>
<text x="188.0" y="457.5" font-size="29.31" textLength="42.3" lengthAdjust="spacingAndGlyphs">+Z</text>
<text x="1104.0" y="456.7" font-size="29.31" textLength="53.0" lengthAdjust="spacingAndGlyphs">180</text>
<text x="151.0" y="385.0" font-size="29.31" textLength="79.3" lengthAdjust="spacingAndGlyphs">+Z/-X</text>
<text x="1104.0" y="384.2" font-size="29.31" textLength="53.0" lengthAdjust="spacingAndGlyphs">225</text>
<text x="202.6" y="312.5" font-size="29.31" textLength="27.7" lengthAdjust="spacingAndGlyphs">-X</text>
<text x="1104.0" y="311.7" font-size="29.31" textLength="53.0" lengthAdjust="spacingAndGlyphs">270</text>
<text x="164.2" y="240.0" font-size="29.31" textLength="66.1" lengthAdjust="spacingAndGlyphs">-X/-Z</text>
<text x="1104.0" y="239.2" font-size="29.31" textLength="53.0" lengthAdjust="spacingAndGlyphs">315</text>
<text y="483.8" font-size="29.31" transform="rotate(-90 119.6 483.8)"><tspan x="63.2" textLength="46.4" lengthAdjust="spacingAndGlyphs">S/C</tspan><tspan x="118.4" textLength="57.6" lengthAdjust="spacingAndGlyphs">Axis</tspan></text>
<text y="483.0" font-size="23.44" transform="rotate(-90 1184.0 483.0)"><tspan x="979.4" textLength="63.2" lengthAdjust="spacingAndGlyphs">Angle</tspan><tspan x="1049.6" textLength="51.7" lengthAdjust="spacingAndGlyphs">from</tspan><tspan x="1108.4" textLength="23.2" lengthAdjust="spacingAndGlyphs">-Z</tspan><tspan x="1138.7" textLength="44.5" lengthAdjust="spacingAndGlyphs">axis</tspan><tspan x="1190.3" textLength="97.2" lengthAdjust="spacingAndGlyphs">(towards</tspan><tspan x="1294.6" textLength="33.8" lengthAdjust="spacingAndGlyphs">+X</tspan><tspan x="1335.5" textLength="53.2" lengthAdjust="spacingAndGlyphs">axis)</tspan></text>
<path d="M293.31 1377V797M346.62 1377V797M399.94 1377V797M506.56 1377V797M559.88 1377V797M613.19 1377V797M719.81 1377V797M773.12 1377V797M826.44 1377V797M933.06 1377V797M986.38 1377V797M1039.69 1377V797" stroke="#808080" stroke-width="2.2" stroke-dasharray="2.2 3.67" fill="none"/>
<path d="M453.25 1377V797M666.50 1377V797M879.75 1377V797" stroke="#808080" stroke-width="4.17" stroke-dasharray="4.17 6.88" fill="none"/>
<path d="M240.00 1377v-9.7M240.00 797v9.7M453.25 1377v-9.7M453.25 797v9.7M666.50 1377v-9.7M666.50 797v9.7M879.75 1377v-9.7M879.75 797v9.7M1093.00 1377v-9.7M1093.00 797v9.7" stroke="#000" stroke-width="2.2" fill="none"/>
<path d="M293.31 1377v-5.5M293.31 797v5.5M346.62 1377v-5.5M346.62 797v5.5M399.94 1377v-5.5M399.94 797v5.5M506.56 1377v-5.5M506.56 797v5.5M559.88 1377v-5.5M559.88 797v5.5M613.19 1377v-5.5M613.19 797v5.5M719.81 1377v-5.5M719.81 797v5.5M773.12 1377v-5.5M773.12 797v5.5M826.44 1377v-5.5M826.44 797v5.5M933.06 1377v-5.5M933.06 797v5.5M986.38 1377v-5.5M986.38 797v5.5M1039.69 1377v-5.5M1039.69 797v5.5" stroke="#000" stroke-width="1.67" fill="none"/>
<path d="M240 1375.62h9.7M1093 1375.62h-9.7M240 1239.96h9.7M1093 1239.96h-9.7M240 1101.53h9.7M1093 1101.53h-9.7M240 963.11h9.7M1093 963.11h-9.7M240 824.68h9.7M1093 824.68h-9.7" stroke="#000" stroke-width="2.2" fill="none"/>
<path d="M240 1350.70h5.5M1093 1350.70h-5.5M240 1323.01h5.5M1093 1323.01h-5.5M240 1295.33h5.5M1093 1295.33h-5.5M240 1267.64h5.5M1093 1267.64h-5.5M240 1212.27h5.5M1093 1212.27h-5.5M240 1184.59h5.5M1093 1184.59h-5.5M240 1156.90h5.5M1093 1156.90h-5.5M240 1129.22h5.5M1093 1129.22h-5.5M240 1073.85h5.5M1093 1073.85h-5.5M240 1046.16h5.5M1093 1046.16h-5.5M240 1018.48h5.5M1093 1018.48h-5.5M240 990.79h5.5M1093 990.79h-5.5M240 935.42h5.5M1093 935.42h-5.5M240 907.74h5.5M1093 907.74h-5.5M240 880.05h5.5M1093 880.05h-5.5M240 852.37h5.5M1093 852.37h-5.5" stroke="#000" stroke-width="1.67" fill="none"/>
<rect x="240" y="797" width="853" height="580" fill="none" stroke="#000" stroke-width="2.2"/>
<text x="212.6" y="1386.2" font-size="29.31">1</text>
<text x="195.0" y="1250.6" font-size="29.31" textLength="35.3" lengthAdjust="spacingAndGlyphs">50</text>
<text x="177.3" y="1112.2" font-size="29.31" textLength="53.0" lengthAdjust="spacingAndGlyphs">100</text>
<text x="177.3" y="973.7" font-size="29.31" textLength="53.0" lengthAdjust="spacingAndGlyphs">150</text>
<text x="177.3" y="835.3" font-size="29.31" textLength="53.0" lengthAdjust="spacingAndGlyphs">200</text>
<text y="1103.0" font-size="29.31" transform="rotate(-90 129.1 1103.0)"><tspan x="73.8" textLength="57.4" lengthAdjust="spacingAndGlyphs">TOA</tspan><tspan x="140.0" textLength="44.4" lengthAdjust="spacingAndGlyphs">Bin</tspan></text>
<text x="187.6" y="1421.1" font-size="29.31" textLength="124.8" lengthAdjust="spacingAndGlyphs">23:14:05</text>
<text x="397.1" y="1421.1" font-size="29.31" textLength="124.8" lengthAdjust="spacingAndGlyphs">23:19:07</text>
<text x="606.6" y="1421.1" font-size="29.31" textLength="124.8" lengthAdjust="spacingAndGlyphs">23:24:09</text>
<text x="815.9" y="1421.1" font-size="29.31" textLength="124.8" lengthAdjust="spacingAndGlyphs">23:29:11</text>
<text x="1025.1" y="1421.1" font-size="29.31" textLength="124.8" lengthAdjust="spacingAndGlyphs">23:34:12</text>
<text x="132.3" y="1421.1" font-size="29.31" textLength="37.3" lengthAdjust="spacingAndGlyphs">UT</text>
<text y="1453.8" font-size="29.31"><tspan x="48.3" textLength="47.6" lengthAdjust="spacingAndGlyphs">ALT</tspan><tspan x="104.8" textLength="64.8" lengthAdjust="spacingAndGlyphs">(km)</tspan></text>
<text y="1485.8" font-size="29.31"><tspan x="36.8" textLength="49.9" lengthAdjust="spacingAndGlyphs">LAT</tspan><tspan x="95.6" textLength="74.0" lengthAdjust="spacingAndGlyphs">(deg)</tspan></text>
<text y="1517.7" font-size="29.31"><tspan x="29.6" textLength="57.1" lengthAdjust="spacingAndGlyphs">LON</tspan><tspan x="95.6" textLength="74.0" lengthAdjust="spacingAndGlyphs">(deg)</tspan></text>
<text y="1549.7" font-size="29.31"><tspan x="12.8" textLength="73.9" lengthAdjust="spacingAndGlyphs">MLAT</tspan><tspan x="95.6" textLength="74.0" lengthAdjust="spacingAndGlyphs">(deg)</tspan></text>
<text y="1581.5" font-size="29.31"><tspan x="43.0" textLength="52.6" lengthAdjust="spacingAndGlyphs">MLT</tspan><tspan x="104.4" textLength="65.2" lengthAdjust="spacingAndGlyphs">(hrs)</tspan></text>
<rect x="1204" y="201.8" width="27.700000000000045" height="552.8" fill="url(#cm1)"/>
<path d="M1231.7 270.90h-9.7M1231.7 340.00h-9.7M1231.7 409.10h-9.7M1231.7 478.20h-9.7M1231.7 547.30h-9.7M1231.7 616.40h-9.7M1231.7 685.50h-9.7" stroke="#000" stroke-width="2.2" fill="none"/>
<rect x="1204" y="201.8" width="27.700000000000045" height="552.8" fill="none" stroke="#000" stroke-width="2.2"/>
<text x="1241.5" y="212.5" font-size="29.31" textLength="52.4" lengthAdjust="spacingAndGlyphs">1e5</text>
<text x="1241.5" y="281.6" font-size="29.31" textLength="52.4" lengthAdjust="spacingAndGlyphs">1e4</text>
<text x="1241.5" y="350.7" font-size="29.31" textLength="52.4" lengthAdjust="spacingAndGlyphs">1e3</text>
<text x="1241.5" y="488.9" font-size="29.31" textLength="52.4" lengthAdjust="spacingAndGlyphs">1e2</text>
<text x="1241.5" y="627.1" font-size="29.31" textLength="52.4" lengthAdjust="spacingAndGlyphs">1e1</text>
<text x="1241.5" y="765.3" font-size="29.31" textLength="52.4" lengthAdjust="spacingAndGlyphs">1e0</text>
<text y="478.2" font-size="29.31" transform="rotate(-90 1326.0 478.2)"><tspan x="1157.9" textLength="64.3" lengthAdjust="spacingAndGlyphs">Pixel</tspan><tspan x="1231.0" textLength="97.0" lengthAdjust="spacingAndGlyphs">Counts</tspan><tspan x="1336.8" textLength="46.1" lengthAdjust="spacingAndGlyphs">per</tspan><tspan x="1391.8" textLength="102.2" lengthAdjust="spacingAndGlyphs">Second</tspan></text>
<rect x="1204" y="810.5" width="27.700000000000045" height="553.0" fill="url(#cm1)"/>
<path d="M1231.7 879.62h-9.7M1231.7 948.75h-9.7M1231.7 1017.88h-9.7M1231.7 1087.00h-9.7M1231.7 1156.12h-9.7M1231.7 1225.25h-9.7M1231.7 1294.38h-9.7" stroke="#000" stroke-width="2.2" fill="none"/>
<rect x="1204" y="810.5" width="27.700000000000045" height="553.0" fill="none" stroke="#000" stroke-width="2.2"/>
<text x="1241.5" y="821.2" font-size="29.31" textLength="52.4" lengthAdjust="spacingAndGlyphs">1e5</text>
<text x="1241.5" y="890.4" font-size="29.31" textLength="52.4" lengthAdjust="spacingAndGlyphs">1e4</text>
<text x="1241.5" y="959.5" font-size="29.31" textLength="52.4" lengthAdjust="spacingAndGlyphs">1e3</text>
<text x="1241.5" y="1097.7" font-size="29.31" textLength="52.4" lengthAdjust="spacingAndGlyphs">1e2</text>
<text x="1241.5" y="1236.0" font-size="29.31" textLength="52.4" lengthAdjust="spacingAndGlyphs">1e1</text>
<text x="1241.5" y="1374.2" font-size="29.31" textLength="52.4" lengthAdjust="spacingAndGlyphs">1e0</text>
<text y="1087.0" font-size="29.31" transform="rotate(-90 1326.0 1087.0)"><tspan x="1162.7" textLength="54.8" lengthAdjust="spacingAndGlyphs">TOF</tspan><tspan x="1226.3" textLength="97.0" lengthAdjust="spacingAndGlyphs">Counts</tspan><tspan x="1332.1" textLength="46.1" lengthAdjust="spacingAndGlyphs">per</tspan><tspan x="1387.1" textLength="102.2" lengthAdjust="spacingAndGlyphs">Second</tspan></text>
<path d="M1593.00 438.3V192M1642.00 438.3V192M1691.00 438.3V192M1789.00 438.3V192M1838.00 438.3V192M1887.00 438.3V192M1985.00 438.3V192M2034.00 438.3V192M2083.00 438.3V192M2181.00 438.3V192M2230.00 438.3V192M2279.00 438.3V192" stroke="#808080" stroke-width="2.2" stroke-dasharray="2.2 3.67" fill="none"/>
<path d="M1740.00 438.3V192M1936.00 438.3V192M2132.00 438.3V192" stroke="#808080" stroke-width="4.17" stroke-dasharray="4.17 6.88" fill="none"/>
<clipPath id="clipC"><rect x="1544" y="192" width="784" height="246.3"/></clipPath>
<g clip-path="url(#clipC)" fill="none" stroke-width="2.1" stroke-linejoin="round">
<path d="M1545.4 321.7L1546.7 322.1L1548.7 325.3L1550.0 329.3L1551.4 330.4L1552.7 332.4L1554.7 332.4L1556.7 334.4L1558.1 334.2L1559.4 336.4L1560.4 337.8L1561.4 336.0L1562.8 336.4L1563.8 340.5L1564.8 349.2L1565.7 357.9L1566.8 357.2L1567.7 347.8L1568.4 342.5L1569.5 339.5L1570.8 338.4L1572.1 333.1L1573.5 330.7L1575.1 330.4L1577.2 331.8L1578.8 327.7L1580.2 325.3L1582.2 324.4L1584.2 323.7L1586.2 323.7L1588.2 321.3L1590.2 319.4L1592.2 317.7L1594.2 317.0L1596.2 316.0L1598.9 315.7L1600.9 315.0L1602.9 315.4L1604.3 316.8L1605.6 320.4L1606.9 318.4L1608.3 316.4L1610.3 314.3L1613.0 314.1L1615.0 314.1L1617.0 315.7L1619.0 316.8L1621.0 316.8L1623.0 314.3L1625.7 314.1L1627.7 312.3L1629.7 310.1L1632.4 308.3L1634.4 307.0L1636.4 306.3L1638.4 304.7L1640.4 303.6L1642.4 303.9L1644.4 305.2L1646.4 306.6L1648.4 307.7L1651.1 308.7L1653.8 309.0L1656.5 309.3L1658.5 309.0L1660.5 310.1L1662.9 310.7L1665.2 309.9L1667.2 310.3L1669.2 309.9L1672.5 310.3L1675.2 309.3L1677.9 309.0L1680.6 308.1L1683.3 307.4L1685.3 305.0L1687.3 304.0L1689.3 304.4L1690.0 304.3L1691.3 307.0L1693.3 310.3L1696.0 312.3L1698.7 313.7L1702.0 313.3L1704.7 314.1L1708.7 314.6L1712.8 314.3L1716.8 314.6L1722.1 314.1L1727.5 314.1L1730.2 313.8L1735.5 314.6L1740.9 315.2L1746.2 315.0L1751.6 314.8L1756.9 314.6L1762.3 315.0L1767.7 315.4L1773.0 314.6L1778.4 314.3L1783.7 314.6L1789.1 314.8L1794.4 314.3L1799.8 314.8L1803.8 315.0L1807.8 314.1L1813.2 312.7L1818.5 311.4L1823.9 310.3L1830.6 309.5L1837.3 309.0L1844.0 309.0L1845.4 309.0L1852.0 309.7L1859.4 308.7L1863.4 307.0L1866.8 304.3L1868.8 303.6L1870.8 304.7L1874.8 307.0L1878.8 309.0L1882.8 309.9L1886.9 310.1L1893.6 309.7L1900.2 309.9L1905.6 309.7L1909.6 308.3L1913.0 306.6L1916.3 304.7L1918.3 303.9L1920.1 304.7L1921.9 307.4L1924.3 310.3L1927.0 313.0L1930.4 315.0L1933.7 316.1L1937.7 316.4L1941.8 317.0L1944.2 317.4L1945.8 316.6L1949.8 317.0L1955.1 318.1L1961.8 319.3L1968.5 320.8L1976.6 322.4L1981.9 324.0L1985.9 325.6L1990.0 326.1L1994.0 326.4L1998.0 326.4L2003.4 326.4L2006.7 325.3L2011.4 324.8L2016.8 324.3L2022.1 323.7L2027.5 322.4L2032.8 321.0L2038.2 319.4L2043.6 317.8L2048.9 316.2L2054.3 314.9L2059.6 313.9L2065.0 313.0L2070.3 312.2L2075.7 311.4L2081.0 310.7L2086.4 310.5L2091.1 309.7L2094.4 307.7L2097.1 305.6L2099.5 304.3L2101.8 304.2L2104.5 305.0L2107.8 305.9L2111.8 306.6L2117.2 306.9L2123.9 306.6L2130.6 306.2L2135.9 305.6L2140.0 305.0L2142.7 304.3L2145.4 303.9L2148.0 304.7L2152.1 307.0L2156.7 309.7L2162.1 311.7L2168.1 313.1L2174.8 314.4L2181.5 315.5L2189.6 316.4L2197.6 317.6L2205.6 319.5L2213.7 320.8L2221.7 321.9L2229.8 322.4L2236.5 322.2L2244.5 321.1L2253.9 319.8L2263.2 317.9L2272.6 315.7L2282.0 314.4L2291.4 313.7L2300.8 313.3L2310.1 312.8L2319.5 312.0L2324.9 311.2L2327.3 310.4" stroke="#000"/>
<path d="M1545.4 348.5L1546.7 349.2L1548.0 358.5L1549.4 367.9L1550.0 378.6L1550.7 390.0L1552.0 390.7L1552.7 404.1L1554.7 400.7L1556.1 402.7L1556.7 413.4L1558.1 409.4L1558.7 417.4L1560.1 429.5L1561.4 426.8L1561.8 418.8L1563.0 424.1L1564.1 436.9L1564.5 441.5M1568.1 441.5L1568.8 436.9L1569.5 434.2L1570.8 432.8L1571.9 404.1L1573.2 393.3L1574.8 392.3L1576.1 394.7L1577.5 398.4L1578.8 377.3L1580.2 365.2L1582.2 361.9L1584.2 358.8L1586.6 358.5L1588.2 349.2L1589.5 341.1L1591.5 333.1L1592.9 325.3L1594.2 327.1L1595.6 325.7L1596.5 320.4L1597.8 328.4L1598.9 307.7L1600.0 308.3L1600.5 317.7L1602.3 317.0L1604.0 323.7L1604.9 335.8L1605.9 348.1L1606.7 338.4L1607.6 329.1L1609.0 322.4L1610.3 313.7L1611.0 311.4L1613.0 310.3L1615.0 310.1L1616.0 311.0L1617.0 318.4L1618.3 323.7L1620.1 325.7L1621.4 325.3L1622.3 318.4L1623.7 309.0L1625.7 309.0L1627.0 306.3L1629.0 291.6L1631.0 285.6L1633.1 280.2L1634.1 275.5L1635.3 274.9L1636.7 270.8L1638.4 264.1L1639.7 260.8L1641.4 259.7L1642.8 262.1L1644.4 265.5L1645.8 270.8L1647.1 275.5L1649.1 280.2L1650.9 283.8L1653.1 285.2L1655.1 287.6L1657.2 286.9L1658.5 287.3L1659.8 290.9L1661.2 292.3L1662.9 294.0L1664.2 292.3L1665.3 289.6L1666.7 291.9L1668.0 291.3L1669.2 289.6L1671.2 290.5L1672.8 291.3L1674.6 286.9L1675.9 284.9L1677.9 284.6L1679.2 283.6L1681.3 279.8L1682.6 277.9L1683.9 276.9L1684.6 270.2L1685.7 263.5L1687.0 261.5L1688.6 261.9L1690.0 264.1L1690.0 263.5L1690.7 274.2L1691.6 283.6L1692.9 284.2L1694.3 291.6L1695.1 300.3L1696.4 292.9L1697.4 302.3L1698.3 311.7L1699.1 313.7L1700.0 307.7L1701.0 315.7L1701.8 320.0L1702.7 307.4L1704.5 305.4L1706.1 307.0L1708.1 309.0L1709.8 310.6L1711.7 309.7L1713.0 311.4L1714.4 315.4L1716.1 312.3L1718.1 311.4L1719.7 310.1L1721.1 313.3L1722.1 309.7L1723.7 308.7L1725.1 317.0L1726.4 310.3L1728.2 308.1L1730.2 307.7L1732.6 308.3L1734.9 311.0L1737.5 312.3L1740.2 314.3L1742.9 314.1L1745.2 316.4L1746.9 312.7L1748.9 313.7L1750.9 315.7L1752.9 317.7L1754.9 316.8L1756.9 315.4L1759.0 314.8L1761.0 316.8L1763.6 318.6L1766.3 319.4L1767.9 320.8L1769.0 315.7L1770.3 314.1L1771.7 314.6L1773.0 317.7L1774.3 313.0L1776.4 310.6L1777.7 311.0L1779.0 314.3L1781.0 317.0L1783.1 316.1L1785.1 314.6L1787.1 314.3L1789.7 313.0L1791.8 314.1L1793.8 312.3L1796.4 313.0L1799.1 313.7L1801.8 314.3L1803.8 314.1L1805.8 311.0L1808.5 307.4L1811.2 303.6L1813.2 302.0L1815.9 300.3L1817.9 297.6L1819.9 295.2L1822.5 292.9L1825.2 291.6L1828.6 289.8L1831.9 288.2L1835.3 286.5L1838.6 285.7L1842.0 285.3L1845.3 285.6L1848.0 286.5L1849.4 287.3L1852.7 288.0L1856.1 285.6L1859.4 283.6L1862.1 278.9L1864.1 272.8L1866.1 264.8L1867.4 261.9L1868.8 260.8L1870.5 262.1L1872.1 266.8L1874.1 272.8L1876.1 278.9L1878.2 283.6L1880.8 287.3L1883.5 289.3L1886.2 290.0L1889.5 289.3L1893.6 288.6L1897.6 289.2L1901.6 290.0L1904.9 288.9L1907.6 286.2L1909.6 282.9L1911.6 278.2L1913.6 272.8L1915.6 266.8L1917.0 262.8L1918.3 261.2L1919.7 262.1L1920.7 266.1L1921.9 274.2L1923.0 281.5L1924.3 290.2L1925.7 297.6L1927.0 303.6L1928.4 309.0L1930.0 313.7L1931.7 317.7L1933.5 320.4L1935.3 321.7L1937.5 322.1L1939.7 323.3L1941.8 324.8L1943.8 327.1L1945.1 323.7L1946.8 322.6L1949.1 323.5L1951.1 325.1L1953.8 328.8L1956.5 331.1L1959.8 333.8L1962.5 336.8L1965.2 339.8L1968.5 343.1L1971.2 347.2L1973.2 348.9L1975.2 349.8L1977.2 352.5L1979.2 355.9L1981.3 359.6L1983.3 364.6L1985.3 367.9L1987.3 370.3L1990.0 371.7L1993.3 371.9L1996.0 373.0L1998.0 371.7L2000.0 373.0L2003.4 372.7L2005.4 369.2L2007.4 366.8L2010.1 365.5L2013.4 363.9L2016.8 362.3L2020.1 361.5L2022.1 360.1L2023.2 356.5L2026.1 353.8L2029.5 350.5L2032.8 346.2L2036.2 341.8L2039.5 336.4L2042.9 331.1L2046.2 327.7L2049.6 322.1L2052.9 317.3L2056.3 313.3L2059.6 310.1L2063.0 307.7L2067.0 305.0L2071.0 302.0L2075.0 299.4L2078.4 296.3L2081.0 294.5L2083.7 294.0L2086.4 293.3L2089.1 291.6L2091.5 288.2L2093.4 283.6L2095.1 276.9L2096.8 269.5L2098.2 264.5L2099.8 262.1L2101.4 261.9L2103.1 263.7L2105.8 267.2L2108.5 270.2L2111.8 272.6L2115.9 273.9L2119.9 273.9L2123.9 272.8L2129.2 271.1L2133.9 269.5L2137.3 267.5L2140.0 265.5L2142.7 263.2L2145.1 261.9L2147.4 262.8L2149.4 266.2L2151.4 272.2L2153.4 278.9L2155.4 284.9L2157.4 290.3L2160.1 295.6L2162.8 299.7L2165.5 302.1L2168.8 306.1L2172.8 310.4L2176.8 314.1L2180.9 317.7L2184.9 320.0L2189.6 323.1L2193.6 325.4L2197.6 328.1L2201.0 331.5L2203.6 335.6L2206.3 339.2L2209.0 341.2L2211.7 343.9L2215.0 346.3L2219.0 349.0L2223.1 350.8L2227.1 351.9L2231.1 352.2L2235.1 351.6L2238.5 349.0L2241.8 347.9L2245.8 345.2L2251.2 342.9L2255.2 339.8L2260.6 335.6L2265.9 330.5L2270.6 325.8L2274.6 321.8L2278.6 318.4L2282.7 315.7L2286.7 313.3L2291.4 311.4L2295.4 310.4L2299.4 309.8L2303.4 309.0L2307.4 307.7L2311.5 305.7L2315.5 304.3L2319.5 303.0L2322.9 300.7L2325.5 297.6L2327.3 295.0" stroke="#0000ff"/>
</g>
<path d="M1544.00 438.3v-9.7M1544.00 192v9.7M1740.00 438.3v-9.7M1740.00 192v9.7M1936.00 438.3v-9.7M1936.00 192v9.7M2132.00 438.3v-9.7M2132.00 192v9.7M2328.00 438.3v-9.7M2328.00 192v9.7" stroke="#000" stroke-width="2.2" fill="none"/>
<path d="M1593.00 438.3v-5.5M1593.00 192v5.5M1642.00 438.3v-5.5M1642.00 192v5.5M1691.00 438.3v-5.5M1691.00 192v5.5M1789.00 438.3v-5.5M1789.00 192v5.5M1838.00 438.3v-5.5M1838.00 192v5.5M1887.00 438.3v-5.5M1887.00 192v5.5M1985.00 438.3v-5.5M1985.00 192v5.5M2034.00 438.3v-5.5M2034.00 192v5.5M2083.00 438.3v-5.5M2083.00 192v5.5M2181.00 438.3v-5.5M2181.00 192v5.5M2230.00 438.3v-5.5M2230.00 192v5.5M2279.00 438.3v-5.5M2279.00 192v5.5" stroke="#000" stroke-width="1.67" fill="none"/>
<path d="M1544 427.10h9.7M2328 427.10h-9.7M1544 371.13h9.7M2328 371.13h-9.7M1544 315.15h9.7M2328 315.15h-9.7M1544 259.17h9.7M2328 259.17h-9.7M1544 203.20h9.7M2328 203.20h-9.7" stroke="#000" stroke-width="2.2" fill="none"/>
<path d="M1544 415.91h5.5M2328 415.91h-5.5M1544 404.71h5.5M2328 404.71h-5.5M1544 393.52h5.5M2328 393.52h-5.5M1544 382.32h5.5M2328 382.32h-5.5M1544 359.93h5.5M2328 359.93h-5.5M1544 348.74h5.5M2328 348.74h-5.5M1544 337.54h5.5M2328 337.54h-5.5M1544 326.35h5.5M2328 326.35h-5.5M1544 303.95h5.5M2328 303.95h-5.5M1544 292.76h5.5M2328 292.76h-5.5M1544 281.56h5.5M2328 281.56h-5.5M1544 270.37h5.5M2328 270.37h-5.5M1544 247.98h5.5M2328 247.98h-5.5M1544 236.78h5.5M2328 236.78h-5.5M1544 225.59h5.5M2328 225.59h-5.5M1544 214.39h5.5M2328 214.39h-5.5" stroke="#000" stroke-width="1.67" fill="none"/>
<rect x="1544" y="192" width="784" height="246.3" fill="none" stroke="#000" stroke-width="2.2"/>
<text x="1474.4" y="437.8" font-size="29.31" textLength="58.6" lengthAdjust="spacingAndGlyphs">−10</text>
<text x="1492.0" y="381.9" font-size="29.31" textLength="41.0" lengthAdjust="spacingAndGlyphs">−5</text>
<text x="1515.3" y="325.9" font-size="29.31">0</text>
<text x="1515.3" y="269.9" font-size="29.31">5</text>
<text x="1497.7" y="213.9" font-size="29.31" textLength="35.3" lengthAdjust="spacingAndGlyphs">10</text>
<text y="316.0" font-size="29.31" transform="rotate(-90 1459.3 316.0)"><tspan x="1373.6" textLength="104.3" lengthAdjust="spacingAndGlyphs">Current</tspan><tspan x="1486.7" textLength="58.3" lengthAdjust="spacingAndGlyphs">(uA)</tspan></text>
<text y="181.2" font-size="21.98" transform="rotate(90 2336.3 181.2)"><tspan x="2336.3" textLength="71.4" lengthAdjust="spacingAndGlyphs">Sensor</tspan><tspan x="2414.3" textLength="79.4" lengthAdjust="spacingAndGlyphs">Surface</tspan><tspan x="2500.3" textLength="78.2" lengthAdjust="spacingAndGlyphs">Current</tspan></text>
<text y="181.2" font-size="21.98" fill="#0000ff" transform="rotate(90 2356.4 181.2)"><tspan x="2356.4" textLength="71.4" lengthAdjust="spacingAndGlyphs">Sensor</tspan><tspan x="2434.4" textLength="79.4" lengthAdjust="spacingAndGlyphs">Surface</tspan><tspan x="2520.4" textLength="78.2" lengthAdjust="spacingAndGlyphs">Current</tspan><tspan x="2605.3">x</tspan><tspan x="2624.2">5</tspan></text>
<path d="M1593.00 707.4V462.1M1642.00 707.4V462.1M1691.00 707.4V462.1M1789.00 707.4V462.1M1838.00 707.4V462.1M1887.00 707.4V462.1M1985.00 707.4V462.1M2034.00 707.4V462.1M2083.00 707.4V462.1M2181.00 707.4V462.1M2230.00 707.4V462.1M2279.00 707.4V462.1" stroke="#808080" stroke-width="2.2" stroke-dasharray="2.2 3.67" fill="none"/>
<path d="M1740.00 707.4V462.1M1936.00 707.4V462.1M2132.00 707.4V462.1" stroke="#808080" stroke-width="4.17" stroke-dasharray="4.17 6.88" fill="none"/>
<path d="M1544 705.8H2328" stroke="#0000ff" stroke-width="2.8" fill="none"/>
<path d="M1544.00 707.4v-9.7M1544.00 462.1v9.7M1740.00 707.4v-9.7M1740.00 462.1v9.7M1936.00 707.4v-9.7M1936.00 462.1v9.7M2132.00 707.4v-9.7M2132.00 462.1v9.7M2328.00 707.4v-9.7M2328.00 462.1v9.7" stroke="#000" stroke-width="2.2" fill="none"/>
<path d="M1593.00 707.4v-5.5M1593.00 462.1v5.5M1642.00 707.4v-5.5M1642.00 462.1v5.5M1691.00 707.4v-5.5M1691.00 462.1v5.5M1789.00 707.4v-5.5M1789.00 462.1v5.5M1838.00 707.4v-5.5M1838.00 462.1v5.5M1887.00 707.4v-5.5M1887.00 462.1v5.5M1985.00 707.4v-5.5M1985.00 462.1v5.5M2034.00 707.4v-5.5M2034.00 462.1v5.5M2083.00 707.4v-5.5M2083.00 462.1v5.5M2181.00 707.4v-5.5M2181.00 462.1v5.5M2230.00 707.4v-5.5M2230.00 462.1v5.5M2279.00 707.4v-5.5M2279.00 462.1v5.5" stroke="#000" stroke-width="1.67" fill="none"/>
<path d="M1544 707.40h9.7M2328 707.40h-9.7M1544 646.08h9.7M2328 646.08h-9.7M1544 584.75h9.7M2328 584.75h-9.7M1544 523.42h9.7M2328 523.42h-9.7M1544 462.10h9.7M2328 462.10h-9.7" stroke="#000" stroke-width="2.2" fill="none"/>
<path d="M1544 695.13h5.5M2328 695.13h-5.5M1544 682.87h5.5M2328 682.87h-5.5M1544 670.61h5.5M2328 670.61h-5.5M1544 658.34h5.5M2328 658.34h-5.5M1544 633.81h5.5M2328 633.81h-5.5M1544 621.54h5.5M2328 621.54h-5.5M1544 609.28h5.5M2328 609.28h-5.5M1544 597.01h5.5M2328 597.01h-5.5M1544 572.49h5.5M2328 572.49h-5.5M1544 560.22h5.5M2328 560.22h-5.5M1544 547.96h5.5M2328 547.96h-5.5M1544 535.69h5.5M2328 535.69h-5.5M1544 511.16h5.5M2328 511.16h-5.5M1544 498.89h5.5M2328 498.89h-5.5M1544 486.63h5.5M2328 486.63h-5.5M1544 474.37h5.5M2328 474.37h-5.5" stroke="#000" stroke-width="1.67" fill="none"/>
<rect x="1544" y="462.1" width="784" height="245.29999999999995" fill="none" stroke="#000" stroke-width="2.2"/>
<text x="1471.1" y="718.1" font-size="29.31" textLength="61.9" lengthAdjust="spacingAndGlyphs">0.00</text>
<text x="1471.1" y="656.8" font-size="29.31" textLength="61.9" lengthAdjust="spacingAndGlyphs">0.25</text>
<text x="1471.1" y="595.5" font-size="29.31" textLength="61.9" lengthAdjust="spacingAndGlyphs">0.50</text>
<text x="1471.1" y="534.2" font-size="29.31" textLength="61.9" lengthAdjust="spacingAndGlyphs">0.75</text>
<text x="1471.1" y="472.8" font-size="29.31" textLength="61.9" lengthAdjust="spacingAndGlyphs">1.00</text>
<text y="599.0" font-size="29.31" transform="rotate(-90 1431.6 599.0)"><tspan x="1356.6" textLength="97.0" lengthAdjust="spacingAndGlyphs">Counts</tspan><tspan x="1462.4" textLength="44.3" lengthAdjust="spacingAndGlyphs">Per</tspan></text>
<text x="1462" y="598.4" font-size="29.31" text-anchor="middle" transform="rotate(-90 1462 598.4)" textLength="196.9" lengthAdjust="spacingAndGlyphs">Second (x10<tspan font-size="20.52" dy="-13.5">3</tspan><tspan dy="13.5">)</tspan></text>
<text y="489.5" font-size="23.44" transform="rotate(90 2337.9 489.5)"><tspan x="2337.9" textLength="31.6" lengthAdjust="spacingAndGlyphs">Hit</tspan><tspan x="2376.6" textLength="88.8" lengthAdjust="spacingAndGlyphs">Counter</tspan></text>
<text y="489.5" font-size="23.44" fill="#0000ff" transform="rotate(90 2360.6 489.5)"><tspan x="2360.6" textLength="74.1" lengthAdjust="spacingAndGlyphs">Detect</tspan><tspan x="2441.8" textLength="88.8" lengthAdjust="spacingAndGlyphs">Counter</tspan></text>
<text x="1481.6" y="752.6" font-size="29.31" textLength="124.8" lengthAdjust="spacingAndGlyphs">23:14:05</text>
<text x="1677.6" y="752.6" font-size="29.31" textLength="124.8" lengthAdjust="spacingAndGlyphs">23:19:07</text>
<text x="1873.6" y="752.6" font-size="29.31" textLength="124.8" lengthAdjust="spacingAndGlyphs">23:24:09</text>
<text x="2069.6" y="752.6" font-size="29.31" textLength="124.8" lengthAdjust="spacingAndGlyphs">23:29:11</text>
<text x="2265.6" y="752.6" font-size="29.31" textLength="124.8" lengthAdjust="spacingAndGlyphs">23:34:12</text>
<g clip-path="url(#mapclip)">
<path d="M2141.7 1266.9L2191.1 1261.7L2211.2 1256.4L2226.3 1251.2L2238.8 1245.9L2249.7 1240.7L2259.3 1235.4L2268.0 1230.2L2275.9 1224.9L2283.1 1219.7L2289.9 1214.4L2296.1 1209.2L2302.0 1203.9L2307.4 1198.7L2312.6 1193.4L2317.4 1188.2L2322.0 1182.9L2326.2 1177.7L2330.3 1172.4L2334.1 1167.2L2337.7 1161.9L2341.1 1156.7L2344.3 1151.4L2347.3 1146.1L2350.2 1140.9L2352.9 1135.6L2355.4 1130.4L2357.8 1125.1L2360.0 1119.9L2362.0 1114.6L2364.0 1109.4L2365.7 1104.1L2367.4 1098.9L2368.9 1093.6L2370.3 1088.4L2371.6 1083.1L2372.7 1077.9L2373.7 1072.6L2374.6 1067.4L2375.3 1062.1L2376.0 1056.9L2376.5 1051.6L2376.9 1046.4L2377.2 1041.1L2377.4 1035.9L2377.4 1030.6L2377.4 1025.3L2377.2 1020.1L2376.9 1014.8L2376.5 1009.6L2376.0 1004.3L2375.3 999.1L2374.6 993.8L2373.7 988.6L2372.7 983.3L2371.6 978.1L2370.3 972.8L2368.9 967.6L2367.4 962.3L2365.7 957.1L2364.0 951.8L2362.0 946.6L2360.0 941.3L2357.8 936.1L2355.4 930.8L2352.9 925.6L2350.2 920.3L2347.3 915.1L2344.3 909.8L2341.1 904.5L2337.7 899.3L2334.1 894.0L2330.3 888.8L2326.2 883.5L2322.0 878.3L2317.4 873.0L2312.6 867.8L2307.4 862.5L2302.0 857.3L2296.1 852.0L2289.9 846.8L2283.1 841.5L2275.9 836.3L2268.0 831.0L2259.3 825.8L2249.7 820.5L2238.8 815.3L2226.3 810.0L2211.2 804.8L2191.1 799.5L2141.7 794.2L1670.0 794.2L1620.6 799.5L1600.5 804.8L1585.4 810.0L1572.9 815.3L1562.0 820.5L1552.4 825.8L1543.7 831.0L1535.8 836.3L1528.6 841.5L1521.8 846.8L1515.6 852.0L1509.7 857.3L1504.3 862.5L1499.1 867.8L1494.3 873.0L1489.7 878.3L1485.5 883.5L1481.4 888.8L1477.6 894.0L1474.0 899.3L1470.6 904.5L1467.4 909.8L1464.4 915.1L1461.5 920.3L1458.8 925.6L1456.3 930.8L1453.9 936.1L1451.7 941.3L1449.7 946.6L1447.7 951.8L1446.0 957.1L1444.3 962.3L1442.8 967.6L1441.4 972.8L1440.1 978.1L1439.0 983.3L1438.0 988.6L1437.1 993.8L1436.4 999.1L1435.7 1004.3L1435.2 1009.6L1434.8 1014.8L1434.5 1020.1L1434.3 1025.3L1434.2 1030.6L1434.3 1035.9L1434.5 1041.1L1434.8 1046.4L1435.2 1051.6L1435.7 1056.9L1436.4 1062.1L1437.1 1067.4L1438.0 1072.6L1439.0 1077.9L1440.1 1083.1L1441.4 1088.4L1442.8 1093.6L1444.3 1098.9L1446.0 1104.1L1447.7 1109.4L1449.7 1114.6L1451.7 1119.9L1453.9 1125.1L1456.3 1130.4L1458.8 1135.6L1461.5 1140.9L1464.4 1146.1L1467.4 1151.4L1470.6 1156.7L1474.0 1161.9L1477.6 1167.2L1481.4 1172.4L1485.5 1177.7L1489.7 1182.9L1494.3 1188.2L1499.1 1193.4L1504.3 1198.7L1509.7 1203.9L1515.6 1209.2L1521.8 1214.4L1528.6 1219.7L1535.8 1224.9L1543.7 1230.2L1552.4 1235.4L1562.0 1240.7L1572.9 1245.9L1585.4 1251.2L1600.5 1256.4L1620.6 1261.7L1670.0 1266.9Z" fill="#74a8cf"/>
<g filter="url(#blur12)">
<path d="M1621.3 978.1L1621.3 969.9L1619.2 961.9L1615.1 954.4L1609.0 947.7L1601.1 941.9L1591.7 937.1L1580.9 933.7L1569.0 931.5L1556.2 930.8L1542.9 931.5L1529.5 933.7L1516.3 937.1L1503.8 941.9L1492.4 947.7L1482.6 954.4L1474.7 961.9L1469.1 969.9L1466.0 978.1L1465.6 986.3L1467.8 994.2L1472.6 1001.7L1479.8 1008.5L1489.0 1014.3L1500.0 1019.0L1512.3 1022.5L1525.5 1024.6L1539.1 1025.3L1552.8 1024.6L1566.0 1022.5L1578.5 1019.0L1590.0 1014.3L1599.9 1008.5L1608.2 1001.7L1614.7 994.2L1619.0 986.3Z" fill="#7db0d6" fill-opacity="0.8"/>
<path d="M1875.3 951.8L1874.8 945.4L1872.9 939.2L1869.8 933.4L1865.5 928.2L1860.2 923.7L1854.0 920.0L1847.2 917.3L1839.9 915.6L1832.3 915.1L1824.5 915.6L1816.9 917.3L1809.6 920.0L1802.8 923.7L1796.8 928.2L1791.7 933.4L1787.7 939.2L1785.0 945.4L1783.7 951.8L1783.8 958.2L1785.4 964.4L1788.4 970.2L1792.7 975.4L1798.2 980.0L1804.7 983.7L1812.0 986.4L1819.8 988.0L1827.9 988.6L1836.0 988.0L1843.9 986.4L1851.4 983.7L1858.1 980.0L1864.0 975.4L1868.7 970.2L1872.3 964.4L1874.5 958.2Z" fill="#6b9cc3" fill-opacity="0.8"/>
<path d="M1882.7 1096.3L1882.0 1088.0L1880.0 1080.1L1876.9 1072.6L1872.6 1065.9L1867.4 1060.0L1861.4 1055.3L1854.8 1051.8L1847.7 1049.7L1840.4 1049.0L1833.2 1049.7L1826.2 1051.8L1819.6 1055.3L1813.8 1060.0L1808.8 1065.9L1804.9 1072.6L1802.1 1080.1L1800.7 1088.0L1800.5 1096.3L1801.7 1104.5L1804.2 1112.4L1807.8 1119.9L1812.4 1126.6L1817.9 1132.5L1824.0 1137.2L1830.6 1140.7L1837.4 1142.8L1844.3 1143.5L1851.1 1142.8L1857.6 1140.7L1863.7 1137.2L1869.2 1132.5L1873.9 1126.6L1877.7 1119.9L1880.5 1112.4L1882.2 1104.5Z" fill="#6b9cc3" fill-opacity="0.6"/>
<path d="M2155.0 1096.3L2155.2 1089.0L2153.5 1081.9L2150.0 1075.2L2144.9 1069.2L2138.2 1064.1L2130.3 1059.9L2121.4 1056.8L2111.8 1054.9L2101.9 1054.2L2091.8 1054.9L2082.1 1056.8L2072.9 1059.9L2064.5 1064.1L2057.2 1069.2L2051.1 1075.2L2046.5 1081.9L2043.4 1089.0L2042.0 1096.3L2042.2 1103.5L2044.0 1110.6L2047.3 1117.3L2052.1 1123.3L2058.1 1128.4L2065.3 1132.6L2073.4 1135.7L2082.2 1137.6L2091.6 1138.3L2101.2 1137.6L2110.8 1135.7L2120.1 1132.6L2128.9 1128.4L2136.9 1123.3L2143.7 1117.3L2149.1 1110.6L2152.9 1103.5Z" fill="#6d9ec5" fill-opacity="0.7"/>
<path d="M2340.5 978.1L2337.9 969.9L2333.7 961.9L2328.1 954.4L2321.3 947.7L2313.7 941.9L2305.5 937.1L2297.0 933.7L2288.6 931.5L2280.5 930.8L2272.9 931.5L2266.1 933.7L2260.2 937.1L2255.3 941.9L2251.4 947.7L2248.6 954.4L2247.0 961.9L2246.6 969.9L2247.4 978.1L2249.3 986.3L2252.5 994.2L2256.7 1001.7L2261.9 1008.5L2268.1 1014.3L2275.0 1019.0L2282.6 1022.5L2290.6 1024.6L2298.8 1025.3L2307.0 1024.6L2314.9 1022.5L2322.2 1019.0L2328.7 1014.3L2334.0 1008.5L2338.1 1001.7L2340.6 994.2L2341.4 986.3Z" fill="#6b9bc2" fill-opacity="0.8"/>
<path d="M1710.3 1148.8L1707.4 1143.3L1701.7 1138.0L1693.3 1133.0L1682.3 1128.5L1669.0 1124.6L1653.9 1121.5L1637.4 1119.2L1620.1 1117.7L1602.4 1117.3L1585.0 1117.7L1568.4 1119.2L1553.2 1121.5L1539.8 1124.6L1528.9 1128.5L1520.7 1133.0L1515.5 1138.0L1513.5 1143.3L1514.7 1148.8L1519.1 1154.2L1526.4 1159.6L1536.4 1164.5L1548.6 1169.0L1562.6 1172.9L1577.9 1176.1L1594.1 1178.4L1610.6 1179.8L1627.0 1180.3L1642.9 1179.8L1657.9 1178.4L1671.6 1176.1L1683.7 1172.9L1693.9 1169.0L1701.9 1164.5L1707.4 1159.6L1710.3 1154.2Z" fill="#7aaed4" fill-opacity="0.8"/>
<path d="M2191.4 1167.2L2190.9 1163.5L2185.9 1160.0L2176.6 1156.7L2163.2 1153.7L2146.1 1151.1L2125.8 1149.0L2103.0 1147.4L2078.5 1146.5L2053.0 1146.1L2027.4 1146.5L2002.5 1147.4L1979.2 1149.0L1958.1 1151.1L1939.9 1153.7L1925.3 1156.7L1914.6 1160.0L1908.0 1163.5L1905.8 1167.2L1908.0 1170.8L1914.4 1174.3L1924.6 1177.7L1938.4 1180.7L1955.4 1183.3L1974.9 1185.4L1996.4 1186.9L2019.3 1187.8L2043.0 1188.2L2067.0 1187.8L2090.5 1186.9L2112.9 1185.4L2133.6 1183.3L2151.9 1180.7L2167.3 1177.7L2179.3 1174.3L2187.4 1170.8Z" fill="#79add3" fill-opacity="0.8"/>
<path d="M1580.6 1070.0L1579.1 1064.5L1575.6 1059.2L1570.4 1054.2L1563.6 1049.7L1555.3 1045.9L1545.8 1042.7L1535.4 1040.4L1524.3 1039.0L1513.0 1038.5L1501.6 1039.0L1490.6 1040.4L1480.4 1042.7L1471.2 1045.9L1463.4 1049.7L1457.3 1054.2L1453.0 1059.2L1450.7 1064.5L1450.6 1070.0L1452.5 1075.5L1456.5 1080.8L1462.3 1085.7L1469.8 1090.2L1478.8 1094.1L1488.7 1097.3L1499.5 1099.6L1510.7 1101.0L1521.9 1101.5L1532.9 1101.0L1543.3 1099.6L1552.9 1097.3L1561.4 1094.1L1568.6 1090.2L1574.2 1085.7L1578.2 1080.8L1580.3 1075.5Z" fill="#7bafd5" fill-opacity="0.6"/>
<path d="M2384.5 1083.1L2385.4 1076.3L2384.9 1069.6L2383.0 1063.4L2379.8 1057.8L2375.5 1052.9L2370.2 1049.0L2364.2 1046.1L2357.7 1044.3L2350.9 1043.7L2344.1 1044.3L2337.3 1046.1L2331.0 1049.0L2325.0 1052.9L2319.8 1057.8L2315.2 1063.4L2311.5 1069.6L2308.7 1076.3L2306.9 1083.1L2306.0 1090.0L2306.2 1096.6L2307.4 1102.8L2309.6 1108.4L2312.7 1113.3L2316.8 1117.2L2321.7 1120.1L2327.4 1121.9L2333.7 1122.5L2340.5 1121.9L2347.6 1120.1L2354.7 1117.2L2361.6 1113.3L2368.1 1108.4L2373.8 1102.8L2378.6 1096.6L2382.2 1090.0Z" fill="#7aaed4" fill-opacity="0.6"/>
<path d="M2027.9 833.6L2024.2 830.0L2016.9 826.5L2006.5 823.1L1993.5 820.1L1978.2 817.5L1961.4 815.4L1943.5 813.9L1924.8 813.0L1905.8 812.6L1886.9 813.0L1868.2 813.9L1850.3 815.4L1833.5 817.5L1818.2 820.1L1805.2 823.1L1794.8 826.5L1787.5 830.0L1783.8 833.6L1783.9 837.3L1788.0 840.8L1795.9 844.1L1807.7 847.1L1822.8 849.7L1840.8 851.8L1861.2 853.4L1883.1 854.3L1905.8 854.7L1928.6 854.3L1950.5 853.4L1970.9 851.8L1988.9 849.7L2004.0 847.1L2015.8 844.1L2023.7 840.8L2027.8 837.3Z" fill="#7fb2d8" fill-opacity="0.8"/>
<path d="M1869.9 1161.9L1868.7 1158.3L1865.8 1154.7L1861.2 1151.4L1854.9 1148.4L1847.1 1145.8L1838.2 1143.7L1828.3 1142.2L1817.9 1141.2L1807.1 1140.9L1796.4 1141.2L1786.2 1142.2L1776.7 1143.7L1768.3 1145.8L1761.2 1148.4L1755.7 1151.4L1751.9 1154.7L1750.0 1158.3L1749.9 1161.9L1751.7 1165.6L1755.3 1169.1L1760.5 1172.4L1767.1 1175.4L1775.0 1178.0L1783.8 1180.1L1793.3 1181.6L1803.3 1182.6L1813.4 1182.9L1823.4 1182.6L1833.0 1181.6L1841.9 1180.1L1850.0 1178.0L1857.0 1175.4L1862.6 1172.4L1866.7 1169.1L1869.2 1165.6Z" fill="#6d9ec5" fill-opacity="0.6"/>
<path d="M1819.7 1143.5L1819.1 1141.2L1817.9 1139.0L1816.1 1137.0L1813.6 1135.1L1810.7 1133.5L1807.4 1132.2L1803.7 1131.2L1799.9 1130.6L1796.0 1130.4L1792.1 1130.6L1788.4 1131.2L1784.9 1132.2L1781.9 1133.5L1779.4 1135.1L1777.4 1137.0L1776.1 1139.0L1775.4 1141.2L1775.4 1143.5L1776.1 1145.8L1777.5 1148.0L1779.5 1150.1L1782.0 1152.0L1784.9 1153.6L1788.3 1154.9L1791.9 1155.9L1795.6 1156.5L1799.5 1156.7L1803.2 1156.5L1806.8 1155.9L1810.1 1154.9L1813.0 1153.6L1815.5 1152.0L1817.5 1150.1L1818.9 1148.0L1819.6 1145.8Z" fill="#6395bd" fill-opacity="0.9"/>
<path d="M1783.2 957.1L1783.1 953.4L1782.0 949.9L1780.1 946.6L1777.4 943.6L1774.0 941.0L1769.9 938.9L1765.3 937.3L1760.4 936.4L1755.2 936.1L1749.9 936.4L1744.7 937.3L1739.7 938.9L1735.1 941.0L1730.9 943.6L1727.4 946.6L1724.7 949.9L1722.8 953.4L1721.9 957.1L1721.9 960.7L1722.9 964.3L1724.8 967.6L1727.5 970.6L1731.1 973.2L1735.3 975.3L1740.1 976.8L1745.2 977.8L1750.6 978.1L1756.0 977.8L1761.3 976.8L1766.3 975.3L1770.9 973.2L1774.9 970.6L1778.2 967.6L1780.8 964.3L1782.4 960.7Z" fill="#6a9bc2" fill-opacity="0.7"/>
<path d="M1840.4 1017.5L1840.0 1013.8L1838.9 1010.3L1837.0 1007.0L1834.4 1004.0L1831.3 1001.4L1827.6 999.3L1823.5 997.7L1819.1 996.8L1814.6 996.5L1810.1 996.8L1805.7 997.7L1801.5 999.3L1797.7 1001.4L1794.4 1004.0L1791.7 1007.0L1789.7 1010.3L1788.5 1013.8L1788.0 1017.5L1788.4 1021.1L1789.5 1024.7L1791.5 1028.0L1794.1 1031.0L1797.3 1033.6L1801.1 1035.7L1805.2 1037.2L1809.6 1038.2L1814.2 1038.5L1818.7 1038.2L1823.1 1037.2L1827.3 1035.7L1831.0 1033.6L1834.2 1031.0L1836.8 1028.0L1838.8 1024.7L1840.0 1021.1Z" fill="#6fa1c8" fill-opacity="0.6"/>
<path d="M2301.4 964.9L2299.4 959.5L2296.3 954.2L2292.2 949.2L2287.2 944.7L2281.6 940.8L2275.5 937.7L2269.1 935.3L2262.7 933.9L2256.4 933.4L2250.5 933.9L2245.1 935.3L2240.3 937.7L2236.2 940.8L2233.0 944.7L2230.6 949.2L2229.3 954.2L2228.9 959.5L2229.5 964.9L2231.1 970.4L2233.6 975.7L2237.1 980.7L2241.4 985.2L2246.4 989.1L2252.0 992.2L2258.0 994.6L2264.3 996.0L2270.7 996.5L2277.0 996.0L2283.0 994.6L2288.4 992.2L2293.2 989.1L2297.1 985.2L2299.9 980.7L2301.6 975.7L2302.1 970.4Z" fill="#6898bf" fill-opacity="0.7"/>
<path d="M2172.3 1056.9L2172.0 1052.3L2170.8 1047.9L2168.7 1043.7L2165.6 1040.0L2161.8 1036.7L2157.4 1034.1L2152.4 1032.2L2147.1 1031.0L2141.7 1030.6L2136.2 1031.0L2130.9 1032.2L2125.9 1034.1L2121.4 1036.7L2117.5 1040.0L2114.3 1043.7L2111.8 1047.9L2110.3 1052.3L2109.6 1056.9L2109.8 1061.4L2111.0 1065.8L2113.0 1070.0L2115.8 1073.7L2119.3 1077.0L2123.5 1079.6L2128.3 1081.5L2133.4 1082.7L2138.7 1083.1L2144.1 1082.7L2149.5 1081.5L2154.6 1079.6L2159.4 1077.0L2163.6 1073.7L2167.0 1070.0L2169.7 1065.8L2171.5 1061.4Z" fill="#70a2c9" fill-opacity="0.5"/>
<path d="M1727.7 1109.4L1725.6 1102.5L1721.4 1095.9L1715.0 1089.7L1706.7 1084.1L1696.6 1079.2L1685.2 1075.3L1672.6 1072.4L1659.3 1070.6L1645.7 1070.0L1632.2 1070.6L1619.2 1072.4L1607.3 1075.3L1596.7 1079.2L1587.8 1084.1L1581.0 1089.7L1576.5 1095.9L1574.5 1102.5L1575.0 1109.4L1578.0 1116.2L1583.3 1122.9L1590.8 1129.1L1600.1 1134.7L1610.9 1139.6L1622.8 1143.5L1635.5 1146.4L1648.5 1148.2L1661.4 1148.8L1674.0 1148.2L1685.8 1146.4L1696.7 1143.5L1706.3 1139.6L1714.4 1134.7L1720.7 1129.1L1725.2 1122.9L1727.5 1116.2Z" fill="#78acd2" fill-opacity="0.5"/>
</g>
<path d="M1534.8 858.6L1547.3 850.7L1554.1 848.5L1560.8 846.2L1568.3 844.8L1575.7 843.4L1579.5 844.1L1583.4 844.8L1587.2 845.5L1591.4 846.1L1595.6 846.6L1599.8 847.2L1604.0 847.8L1607.8 848.3L1611.6 848.9L1615.5 849.4L1622.0 848.1L1628.5 846.8L1632.8 846.8L1636.5 847.4L1640.2 848.1L1644.5 848.1L1648.8 848.1L1652.6 850.1L1656.5 852.0L1661.7 852.3L1667.0 852.5L1671.7 852.0L1677.1 852.0L1682.5 852.0L1689.0 852.0L1695.9 848.1L1697.7 852.0L1702.1 846.8L1706.7 841.5L1711.3 844.1L1712.3 849.4L1715.8 850.7L1719.4 852.0L1723.8 848.1L1730.2 848.1L1728.9 854.7L1721.4 856.5L1713.1 859.9L1709.5 862.5L1702.2 863.8L1695.7 867.8L1688.6 875.7L1690.9 880.9L1695.9 881.6L1700.8 882.2L1706.6 885.4L1712.2 886.2L1711.2 892.7L1713.7 895.9L1717.5 895.4L1719.6 888.8L1727.6 882.2L1726.5 875.7L1731.3 866.5L1736.1 867.1L1740.9 867.8L1746.7 870.4L1745.6 877.0L1751.2 877.5L1754.1 875.7L1758.6 872.2L1762.6 882.2L1766.8 886.2L1771.1 890.1L1773.3 894.0L1768.6 895.9L1761.9 899.3L1757.1 899.1L1752.4 898.9L1747.6 898.8L1739.0 904.5L1744.1 903.2L1749.3 901.9L1749.3 907.2L1757.3 909.8L1750.4 913.5L1743.7 916.4L1742.1 912.4L1733.9 916.4L1731.8 920.3L1727.6 922.9L1722.3 924.2L1717.3 930.8L1714.6 938.7L1707.7 941.8L1700.3 947.9L1700.7 953.8L1701.1 959.7L1699.2 964.4L1696.1 962.3L1694.3 957.1L1692.1 951.8L1687.1 951.0L1679.4 951.3L1677.7 953.9L1672.7 953.1L1666.4 952.9L1658.0 957.1L1655.4 964.9L1653.7 971.5L1657.2 980.7L1660.8 982.8L1668.7 982.0L1672.0 975.5L1681.2 974.1L1679.0 982.0L1675.8 988.6L1681.7 988.8L1687.5 989.1L1689.3 992.5L1687.4 1001.7L1690.3 1006.4L1696.8 1006.4L1699.4 1005.7L1703.3 1007.8L1703.7 1010.9L1701.0 1011.4L1696.6 1011.4L1694.1 1009.6L1688.9 1008.8L1683.8 1004.3L1681.5 1000.4L1677.8 996.5L1671.4 994.4L1666.4 992.5L1660.3 988.1L1653.7 989.1L1646.2 986.0L1641.3 983.3L1636.4 980.7L1633.1 976.8L1633.8 971.5L1628.7 963.6L1624.5 958.4L1619.5 951.8L1615.0 947.4L1615.4 953.1L1619.2 959.7L1621.8 966.3L1623.7 970.2L1618.2 964.9L1614.3 958.4L1611.9 951.8L1609.7 945.3L1606.9 941.3L1602.2 940.0L1600.3 933.4L1597.9 925.6L1600.0 917.7L1603.8 909.8L1604.7 903.8L1609.6 901.9L1605.9 899.3L1600.7 895.4L1599.3 888.8L1597.6 883.5L1594.6 877.0L1589.4 874.3L1583.5 873.0L1578.5 872.0L1573.6 870.9L1567.8 872.6L1561.9 874.3L1556.4 875.7L1550.8 877.0L1544.3 879.6L1537.8 882.2L1531.7 884.2L1525.6 886.2L1517.7 887.5L1527.5 883.5L1534.0 880.9L1540.6 878.3L1544.5 876.2L1538.0 875.7L1535.5 873.0L1530.8 870.4L1530.8 867.8L1536.5 865.2L1546.7 862.5L1546.7 861.2L1539.0 861.2ZM1740.9 837.1L1744.5 838.0L1748.1 838.9L1752.2 840.9L1756.4 842.8L1760.8 846.8L1763.6 850.1L1766.6 853.3L1771.0 856.0L1762.3 858.6L1762.6 863.8L1757.6 865.2L1752.7 866.5L1748.8 864.9L1744.9 863.3L1741.3 861.2L1737.0 860.8L1732.8 860.4L1742.0 854.7L1747.6 852.0L1743.4 849.4L1739.4 846.8L1734.5 846.8L1729.5 846.8L1724.5 846.8L1721.0 845.5L1717.6 844.1L1722.0 837.6L1726.4 837.2L1730.8 836.8L1735.8 836.9ZM1656.2 846.8L1660.1 848.7L1664.0 850.7L1669.0 850.7L1674.0 850.7L1679.1 850.7L1684.3 849.4L1689.5 848.1L1685.9 844.1L1687.8 838.9L1682.7 838.9L1677.5 838.9L1672.8 838.6L1668.2 838.4L1663.6 838.1L1655.3 842.8ZM1642.8 841.5L1646.2 843.6L1655.4 841.5L1666.2 837.6L1665.6 835.0L1661.0 835.0L1656.4 835.0L1647.6 837.6ZM1725.8 829.7L1729.7 829.9L1733.6 830.0L1737.5 830.2L1741.4 830.3L1745.3 830.5L1754.7 825.8L1759.1 825.1L1763.4 824.5L1769.2 822.7L1775.0 820.9L1780.7 819.2L1785.9 817.2L1791.2 815.3L1788.1 814.4L1785.2 813.5L1782.3 812.6L1778.7 812.6L1775.1 812.6L1771.4 812.6L1767.8 812.6L1764.2 812.6L1760.1 813.0L1756.1 813.4L1752.1 813.7L1748.0 814.1L1743.9 814.5L1738.4 816.2L1732.8 817.9L1736.2 819.2L1739.7 820.5L1734.2 824.5ZM1710.6 833.6L1714.4 834.0L1718.2 834.3L1722.0 834.7L1726.1 834.7L1730.2 834.7L1734.3 834.7L1738.3 834.7L1742.4 834.7L1744.4 831.8L1740.4 831.6L1736.5 831.5L1732.6 831.3L1728.7 831.2L1724.8 831.0L1720.8 831.0L1716.8 831.0L1712.7 831.0ZM1669.9 833.6L1674.0 833.6L1678.0 833.6L1682.1 833.6L1686.2 833.6L1690.2 833.6L1693.3 830.2L1689.3 830.2L1685.3 830.2L1681.3 830.2L1677.3 830.2L1673.3 830.2ZM1696.2 841.5L1700.4 841.5L1704.6 841.5L1708.8 841.5L1712.6 836.3L1708.5 836.3L1704.4 836.3L1700.3 836.3ZM1719.3 825.8L1724.3 825.3L1729.2 824.9L1734.2 824.5L1739.0 819.2L1734.2 819.6L1729.3 820.1L1724.4 820.5ZM1711.1 863.8L1714.8 865.5L1718.5 867.3L1725.7 863.8L1724.8 858.6L1717.7 857.3L1712.4 861.2ZM1762.3 905.3L1769.8 908.0L1777.1 908.0L1778.3 905.3L1776.4 901.1L1772.7 899.3L1773.5 895.4L1769.7 896.7L1764.9 901.9ZM1598.9 897.5L1604.4 902.7L1608.1 903.5L1605.9 899.3L1600.7 896.7ZM1852.8 858.6L1856.8 862.5L1863.3 864.1L1868.5 862.8L1873.6 861.5L1876.0 858.6L1870.8 856.0L1866.3 856.6L1861.8 857.3L1856.5 856.2ZM1703.3 1007.8L1707.3 1005.7L1710.1 1002.2L1718.1 999.1L1719.2 1002.2L1723.3 998.6L1728.3 1002.5L1733.5 1002.8L1738.7 1003.0L1745.3 1002.5L1749.0 1008.3L1756.7 1014.8L1764.5 1015.4L1771.0 1018.8L1774.9 1026.7L1774.8 1030.6L1778.8 1033.2L1788.0 1034.5L1790.6 1037.7L1795.8 1037.8L1801.1 1038.0L1809.0 1043.7L1814.3 1046.4L1814.9 1051.6L1809.3 1059.5L1805.5 1064.7L1804.5 1072.6L1803.5 1079.2L1800.1 1088.4L1795.1 1091.0L1790.0 1093.1L1782.7 1097.6L1781.9 1104.1L1776.3 1112.0L1772.0 1118.6L1768.6 1122.0L1762.2 1121.2L1758.3 1119.9L1762.9 1126.5L1761.2 1131.7L1756.3 1132.4L1751.4 1133.0L1751.5 1137.7L1744.9 1138.3L1748.1 1142.2L1745.7 1148.8L1741.4 1151.4L1746.3 1156.7L1740.6 1163.2L1743.2 1168.5L1752.0 1174.5L1746.6 1176.3L1737.3 1172.4L1729.8 1167.2L1723.6 1158.0L1725.0 1148.8L1724.4 1140.9L1722.3 1133.0L1723.0 1127.8L1724.0 1122.5L1725.0 1117.3L1723.9 1109.4L1724.4 1104.1L1725.1 1098.9L1724.7 1093.6L1724.5 1088.4L1723.6 1078.7L1718.9 1075.2L1713.4 1071.3L1707.9 1067.4L1705.0 1062.1L1702.1 1056.9L1699.3 1051.6L1693.9 1046.4L1693.0 1042.4L1696.3 1038.5L1694.9 1033.2L1696.3 1029.3L1698.9 1026.7L1702.9 1020.1L1703.1 1012.2ZM1861.6 992.0L1862.4 986.4L1863.1 980.7L1861.9 975.5L1864.7 968.9L1868.7 962.3L1872.6 957.9L1880.4 953.1L1881.2 947.9L1888.2 941.8L1890.8 936.6L1895.8 937.4L1900.8 938.2L1908.4 934.7L1913.4 934.4L1918.4 934.0L1924.6 933.3L1930.9 932.6L1933.4 933.7L1931.6 941.3L1933.6 942.6L1938.7 944.2L1943.8 945.8L1949.6 948.4L1955.4 951.0L1956.5 946.6L1964.1 944.7L1969.3 947.4L1974.4 948.3L1979.5 949.2L1987.1 948.4L1992.7 948.4L1994.5 953.1L1992.8 957.6L1988.8 951.8L1991.4 957.1L1994.3 962.3L1997.2 967.6L2001.5 975.5L2003.1 982.0L2008.6 989.9L2017.9 997.2L2018.8 1000.4L2023.3 1003.0L2031.1 1001.2L2039.4 999.6L2039.0 1003.3L2034.0 1012.2L2028.9 1020.1L2021.1 1027.4L2014.6 1035.1L2009.3 1042.9L2007.9 1049.0L2009.0 1056.9L2011.4 1063.4L2011.2 1070.0L2004.5 1076.0L1999.1 1080.5L1996.3 1084.4L1997.2 1092.3L1990.5 1097.6L1989.6 1105.4L1984.7 1109.4L1976.7 1117.3L1970.7 1119.9L1961.3 1120.4L1956.2 1122.0L1952.3 1120.2L1951.5 1114.6L1948.0 1105.4L1944.3 1100.2L1943.8 1094.9L1943.2 1089.7L1940.8 1083.8L1938.3 1077.9L1936.5 1072.6L1938.8 1067.4L1941.1 1062.1L1940.6 1054.2L1938.0 1046.4L1936.7 1042.4L1930.7 1037.2L1929.4 1032.4L1930.7 1028.0L1931.3 1021.4L1928.9 1018.8L1924.2 1019.0L1920.2 1016.9L1917.6 1014.1L1911.1 1014.1L1903.2 1016.9L1898.0 1017.5L1892.8 1016.9L1886.2 1019.0L1882.3 1017.5L1875.8 1012.5L1871.1 1008.3L1870.6 1004.9L1866.7 1001.7L1862.3 998.0ZM2034.4 1062.1L2036.9 1071.3L2034.9 1075.2L2033.2 1080.5L2031.4 1085.7L2029.7 1091.0L2027.9 1096.3L2022.1 1097.6L2018.4 1092.3L2017.7 1087.1L2020.5 1081.8L2020.1 1075.2L2026.7 1071.8L2030.9 1066.1ZM1883.3 933.4L1882.2 928.7L1884.1 921.6L1883.2 917.2L1886.2 915.8L1892.3 916.1L1898.5 916.4L1902.2 916.6L1902.9 909.8L1899.8 906.4L1894.5 903.8L1902.2 902.7L1901.5 900.1L1905.8 900.6L1909.4 897.2L1914.2 895.6L1916.5 892.7L1917.7 890.6L1922.4 890.1L1926.6 888.8L1925.8 884.9L1924.9 880.9L1930.2 879.1L1930.4 883.5L1929.3 886.2L1931.8 888.8L1938.9 888.8L1944.1 887.7L1949.3 886.7L1952.9 887.7L1955.0 884.9L1954.6 880.9L1961.6 880.4L1960.0 877.0L1959.8 874.9L1967.8 874.3L1974.4 873.0L1970.8 871.2L1962.9 872.5L1957.3 873.0L1954.3 870.4L1954.1 865.2L1961.3 859.9L1961.7 858.3L1954.3 857.8L1952.5 861.2L1945.4 867.8L1944.6 871.7L1948.9 873.6L1944.2 880.9L1943.2 883.0L1939.3 884.9L1936.3 885.1L1935.0 882.2L1931.1 875.7L1929.9 874.3L1924.3 878.3L1918.5 876.2L1917.2 870.4L1921.6 865.2L1928.2 862.5L1934.4 856.0L1938.2 850.7L1945.4 847.3L1950.1 846.4L1954.7 845.5L1960.8 844.1L1966.2 844.7L1972.0 846.8L1974.4 848.1L1978.8 848.5L1983.2 848.9L1989.0 850.7L1994.9 852.5L1995.9 856.8L1989.5 857.3L1984.9 856.4L1980.3 855.4L1978.5 857.3L1983.8 861.7L1988.4 862.5L1994.7 860.7L1993.9 857.3L1998.2 856.9L2002.5 856.5L2001.0 851.2L2006.7 852.0L2012.0 851.8L2017.4 851.7L2022.7 851.5L2027.9 850.7L2033.0 849.9L2036.2 847.3L2040.9 848.3L2045.7 849.4L2052.7 850.7L2047.6 844.1L2049.1 838.9L2056.8 839.7L2059.2 844.1L2064.1 852.0L2066.3 852.0L2062.7 842.8L2069.0 841.0L2073.2 837.6L2077.0 837.1L2080.9 836.7L2084.7 836.3L2082.4 833.1L2086.1 832.6L2089.7 832.1L2093.4 831.5L2097.0 831.0L2101.4 830.4L2105.9 829.7L2108.4 828.1L2110.8 826.6L2119.4 829.2L2123.9 829.8L2128.6 830.4L2133.2 831.0L2132.0 836.3L2138.6 836.8L2144.5 837.6L2150.4 838.4L2156.1 838.4L2161.8 838.4L2170.8 840.2L2179.7 844.1L2185.9 842.8L2190.1 842.8L2194.3 842.8L2198.5 842.8L2197.9 840.2L2202.3 840.4L2206.6 840.6L2211.0 840.7L2216.3 841.8L2221.7 842.8L2229.5 844.1L2234.0 844.4L2238.5 844.7L2243.0 844.9L2248.3 847.8L2253.8 848.0L2259.3 848.1L2265.4 848.7L2271.5 849.4L2270.7 846.8L2276.3 847.0L2282.0 847.3L2287.5 848.3L2293.0 849.4L2299.1 854.7L2304.7 859.9L2302.2 861.7L2305.7 866.5L2299.5 868.3L2295.7 873.0L2290.5 873.0L2285.4 873.0L2283.8 878.3L2286.5 883.5L2286.4 886.7L2284.9 891.4L2283.0 894.0L2280.3 896.7L2274.9 891.4L2269.0 883.5L2269.2 878.8L2270.6 871.7L2275.3 867.8L2267.8 868.3L2266.1 871.7L2264.1 875.1L2259.7 875.4L2255.3 875.7L2250.5 875.3L2245.6 874.9L2239.8 874.9L2234.1 874.9L2230.3 879.6L2229.3 887.5L2236.7 890.1L2241.3 894.0L2244.3 901.9L2241.8 909.3L2237.7 916.9L2230.5 917.2L2227.7 919.5L2226.5 922.9L2222.8 926.3L2229.6 933.4L2231.0 937.9L2227.0 939.5L2224.1 940.0L2222.6 933.4L2218.0 930.8L2216.6 926.3L2209.7 928.2L2206.9 923.5L2202.1 927.7L2199.2 929.0L2203.6 932.6L2212.5 932.9L2208.4 936.1L2206.1 938.7L2210.2 942.6L2214.9 947.9L2216.2 953.1L2213.3 961.0L2209.2 966.3L2204.7 970.2L2198.6 972.0L2191.3 974.9L2189.8 977.3L2185.9 973.6L2181.8 977.3L2179.9 980.7L2183.7 986.0L2188.8 989.9L2190.8 997.8L2186.5 1003.0L2180.8 1007.8L2180.1 1004.3L2176.1 1003.0L2173.2 999.1L2169.1 997.2L2167.1 995.1L2165.6 1001.7L2165.8 1006.2L2170.1 1012.7L2173.3 1014.3L2176.6 1018.8L2177.0 1024.0L2178.8 1026.9L2176.5 1026.7L2171.2 1023.2L2168.4 1016.2L2166.1 1012.2L2162.9 1009.6L2163.0 1003.0L2163.3 999.1L2160.0 991.2L2159.1 987.3L2154.1 989.1L2150.9 988.6L2150.3 982.0L2143.6 975.5L2141.8 971.5L2138.1 972.8L2133.0 973.6L2130.2 976.0L2125.9 979.4L2119.6 986.7L2114.4 989.9L2114.8 995.1L2114.2 1003.6L2112.3 1006.2L2109.8 1008.8L2108.5 1009.6L2105.7 1005.7L2102.8 1000.4L2099.8 992.5L2096.8 987.3L2095.0 980.7L2093.7 975.5L2088.1 976.0L2083.8 972.0L2079.6 968.1L2077.9 964.9L2070.1 964.2L2063.8 964.4L2054.7 963.4L2051.2 959.7L2045.5 960.7L2037.5 957.6L2033.1 951.8L2030.0 951.0L2028.1 953.1L2031.0 956.3L2034.5 961.0L2036.6 962.3L2038.2 966.3L2044.7 967.0L2049.4 962.3L2051.1 966.3L2056.4 968.4L2060.0 971.5L2057.1 976.8L2054.8 980.7L2048.7 986.0L2041.0 988.6L2032.1 993.8L2023.2 997.0L2018.7 997.2L2016.9 991.2L2014.9 986.0L2011.0 980.7L2007.1 975.5L2005.0 968.9L1998.2 962.3L1995.3 957.1L1994.5 953.1L1992.7 948.4L1994.4 943.9L1996.2 936.1L1996.1 934.2L1991.1 935.3L1986.1 934.7L1982.3 934.7L1977.3 934.2L1974.2 932.6L1971.9 928.2L1971.2 925.6L1970.3 923.5L1965.3 923.5L1964.2 925.6L1962.4 924.8L1963.6 928.2L1965.8 930.8L1963.4 932.1L1963.5 934.7L1961.0 934.2L1959.1 931.6L1958.2 928.2L1954.2 924.2L1954.0 920.8L1951.4 919.0L1945.2 916.4L1942.6 913.7L1939.3 911.9L1939.3 910.6L1935.9 911.6L1936.5 915.1L1939.5 916.9L1945.4 920.6L1951.8 925.0L1948.0 924.2L1946.9 926.9L1948.2 928.7L1945.8 930.8L1945.1 930.8L1945.7 928.2L1944.3 925.6L1940.5 923.5L1936.8 921.6L1931.7 918.2L1930.4 915.1L1927.2 914.0L1924.3 915.6L1918.1 916.9L1913.7 917.2L1913.8 920.6L1907.8 923.5L1905.1 926.9L1906.3 929.0L1904.1 931.9L1900.8 934.0L1894.6 934.2L1892.0 936.1L1890.1 934.0L1887.1 932.9ZM1518.7 849.4L1521.7 851.4L1525.0 853.3L1528.3 855.3L1531.7 857.3L1523.4 861.2L1519.3 860.8L1515.3 860.4L1514.1 857.3L1507.0 859.9L1512.6 854.7ZM1892.2 899.3L1897.5 898.5L1905.8 897.2L1909.2 896.1L1909.9 892.2L1906.6 891.4L1905.4 887.5L1902.3 884.9L1900.7 883.5L1901.2 879.3L1896.6 879.1L1898.9 876.7L1894.3 876.7L1891.9 879.6L1893.0 883.5L1894.6 886.2L1898.3 886.4L1898.8 890.1L1895.2 890.6L1895.6 893.3L1893.5 894.6L1897.5 895.6ZM1882.0 894.6L1890.9 893.5L1891.7 890.1L1892.5 887.0L1888.3 885.4L1882.3 888.3L1883.3 891.4ZM2236.3 948.4L2239.5 947.9L2239.4 943.2L2241.8 942.6L2245.3 941.8L2248.1 942.6L2250.7 940.5L2254.7 939.5L2258.2 938.7L2258.9 934.7L2257.7 930.0L2259.0 926.9L2255.9 922.1L2253.3 922.9L2253.7 926.1L2254.0 930.0L2249.7 933.4L2248.6 934.0L2247.6 936.8L2240.2 937.4L2236.0 940.3L2234.2 942.6L2234.3 944.7ZM2252.0 921.6L2254.1 919.5L2259.4 920.3L2263.6 916.9L2261.3 914.5L2252.4 911.1L2253.7 916.9L2250.9 917.2ZM2251.8 909.8L2254.8 908.5L2250.3 901.9L2253.9 901.9L2246.8 894.0L2242.6 888.0L2241.5 890.1L2246.5 899.3L2249.2 904.5ZM2215.5 970.2L2218.1 972.8L2218.7 964.9L2216.5 964.4ZM2187.4 980.2L2191.0 982.5L2193.1 978.6L2190.4 977.8ZM2114.3 1005.7L2115.0 1009.6L2114.7 1013.5L2116.5 1014.8L2119.8 1012.2L2118.4 1008.3L2115.3 1004.9ZM2218.5 988.6L2218.2 982.0L2222.6 982.0L2222.9 988.6L2222.2 993.0L2229.1 997.0L2227.5 994.4L2221.0 994.6L2218.9 991.7ZM2225.0 1012.2L2228.9 1010.9L2234.3 1015.6L2236.8 1012.2L2235.7 1007.0L2233.7 1004.9L2229.3 1009.1ZM2224.5 1004.3L2227.2 1006.2L2232.3 1004.3L2233.3 1000.4L2230.5 997.8L2226.8 1000.4ZM2212.2 1008.3L2214.3 1007.8L2218.3 1001.7L2216.9 1001.2ZM2191.4 1026.7L2192.7 1025.3L2196.6 1026.1L2197.9 1023.2L2201.8 1022.2L2204.3 1018.8L2208.2 1016.2L2211.4 1012.2L2213.8 1014.1L2217.4 1016.9L2214.8 1019.3L2214.2 1024.0L2217.1 1028.0L2213.7 1029.3L2213.7 1033.2L2211.0 1037.2L2209.6 1041.1L2205.7 1041.1L2201.8 1039.0L2197.9 1039.3L2194.5 1038.0L2194.0 1034.0L2191.4 1030.6ZM2155.3 1015.9L2161.1 1016.9L2167.8 1023.2L2170.4 1025.3L2177.0 1030.6L2178.3 1033.2L2183.5 1038.5L2182.8 1045.8L2179.4 1045.8L2173.7 1041.1L2169.1 1034.5L2165.2 1029.3L2160.4 1022.7ZM2181.1 1048.5L2184.6 1046.4L2189.7 1048.2L2195.5 1047.4L2200.7 1048.7L2205.3 1050.8L2205.1 1053.4L2196.1 1052.4L2188.3 1051.1L2184.4 1050.0ZM2206.5 1052.1L2211.8 1052.1L2217.0 1052.4L2222.2 1052.7L2227.4 1052.1L2227.3 1053.7L2219.4 1054.8L2214.2 1054.2L2209.0 1054.2ZM2228.4 1057.6L2232.5 1054.0L2237.9 1052.7L2236.4 1054.8L2232.3 1056.9ZM2218.6 1045.0L2221.3 1045.0L2220.9 1038.5L2222.8 1037.7L2225.3 1043.2L2228.0 1041.1L2224.7 1035.3L2228.9 1033.0L2224.2 1033.0L2221.0 1029.8L2222.9 1027.4L2229.4 1028.2L2233.3 1026.4L2232.0 1029.5L2228.1 1029.8L2222.9 1029.5L2220.2 1030.6L2219.5 1033.2L2217.5 1038.5L2218.8 1041.1ZM2239.9 1025.9L2242.5 1026.7L2242.5 1031.9L2240.4 1030.6ZM2241.1 1039.0L2247.7 1038.5L2248.4 1040.6L2242.4 1040.1ZM2249.1 1032.7L2256.9 1032.7L2259.4 1039.3L2266.9 1034.5L2275.2 1037.4L2284.3 1040.6L2288.0 1045.0L2292.6 1047.1L2290.4 1049.0L2298.8 1058.2L2292.4 1056.9L2287.5 1052.9L2281.0 1052.9L2279.5 1054.8L2274.3 1054.8L2267.9 1052.4L2266.9 1049.0L2269.0 1048.5L2266.5 1045.0L2259.3 1042.4L2254.1 1041.1L2253.7 1038.0L2251.6 1038.0ZM2294.5 1045.6L2301.2 1043.7L2304.6 1041.9L2303.7 1045.0L2298.4 1047.1ZM2200.0 1088.4L2197.6 1094.9L2196.9 1098.9L2198.6 1106.8L2199.1 1114.6L2195.8 1120.7L2202.8 1122.5L2208.6 1119.9L2217.5 1119.6L2225.0 1115.4L2233.0 1113.8L2238.7 1113.3L2244.9 1116.5L2247.1 1122.0L2253.6 1117.3L2252.4 1123.3L2255.3 1123.8L2256.0 1129.1L2258.9 1131.4L2263.5 1132.5L2268.0 1130.4L2270.2 1133.0L2275.7 1129.9L2281.2 1128.6L2285.4 1122.5L2289.0 1117.3L2294.4 1112.0L2297.9 1104.7L2298.5 1097.6L2294.5 1092.8L2291.4 1089.2L2290.0 1083.6L2284.8 1080.5L2284.0 1072.6L2283.9 1069.5L2280.0 1068.2L2277.9 1059.0L2275.2 1064.7L2273.6 1072.6L2271.2 1076.6L2266.6 1076.6L2263.2 1072.6L2258.9 1070.0L2260.2 1066.1L2262.6 1062.6L2257.9 1062.6L2251.6 1060.8L2247.5 1062.9L2244.6 1065.5L2242.8 1070.0L2239.4 1070.0L2236.6 1067.4L2232.5 1068.7L2229.3 1073.4L2225.9 1076.0L2222.8 1077.9L2220.4 1081.8L2213.7 1083.1L2207.8 1084.7L2201.4 1087.8ZM2264.5 1137.5L2268.4 1138.8L2273.1 1138.3L2270.0 1143.5L2266.4 1145.1L2264.1 1143.0ZM2341.1 1120.9L2344.0 1123.8L2345.9 1126.5L2345.9 1129.3L2351.5 1129.6L2348.3 1133.8L2346.1 1134.3L2344.3 1137.0L2339.1 1139.8L2338.3 1139.1L2340.5 1135.6L2338.4 1133.8L2342.2 1130.4L2343.4 1126.5ZM2334.1 1137.0L2336.5 1140.1L2331.2 1144.3L2325.3 1146.9L2322.1 1151.1L2317.9 1153.0L2314.9 1153.0L2311.4 1151.4L2315.6 1148.2L2319.1 1146.1L2325.7 1143.0L2331.8 1138.3ZM1686.5 972.8L1694.6 969.7L1699.7 970.2L1707.0 974.1L1713.9 977.6L1705.3 978.3L1704.2 976.2L1700.6 973.6L1694.4 971.5L1689.0 973.4ZM1712.7 982.0L1718.3 978.3L1724.7 978.6L1728.3 982.0L1721.7 983.3ZM1702.9 982.3L1708.0 982.8L1706.1 983.9ZM1731.7 982.0L1735.5 982.3L1734.7 983.6L1731.6 983.3ZM2014.3 842.8L2022.5 844.9L2027.5 844.1L2021.1 838.9L2024.3 835.6L2027.2 832.3L2030.8 831.5L2034.4 830.6L2037.9 829.8L2041.4 828.9L2037.1 828.4L2033.2 829.4L2029.2 830.4L2025.2 831.3L2021.2 832.3L2018.6 835.6L2015.9 838.9ZM2183.0 832.3L2190.7 834.6L2198.3 836.8L2201.6 836.0L2204.7 835.2L2207.9 834.4L2211.0 833.6L2204.2 832.3L2197.5 831.0L2193.9 831.3L2190.3 831.7L2186.7 832.0ZM2282.7 843.6L2286.6 844.1L2284.9 842.8L2281.7 842.8ZM1937.1 930.8L1944.5 930.3L1943.4 934.2L1937.6 932.1ZM1926.5 928.2L1929.7 927.7L1929.9 922.9L1926.4 923.5ZM1927.4 921.6L1929.3 921.6L1929.2 917.7L1927.3 919.0ZM1965.0 937.9L1972.0 938.2L1972.0 938.7L1965.0 938.4ZM1987.2 939.2L1992.6 937.1L1991.4 938.7L1989.0 939.7ZM1547.4 880.1L1553.1 879.6L1553.0 877.8L1549.8 878.3ZM1501.8 980.4L1504.6 979.1L1502.9 977.6ZM1760.6 1166.6L1767.5 1165.6L1766.8 1167.9L1762.0 1167.7Z" fill="#e6e9b8"/>
<path d="M1762.9 825.2L1765.9 828.1L1769.1 831.0L1773.1 831.0L1777.1 831.0L1781.1 831.0L1785.1 831.0L1787.6 834.3L1790.2 837.6L1791.1 845.5L1796.6 848.1L1789.0 854.7L1790.2 861.2L1794.0 867.8L1801.0 871.7L1806.3 873.3L1810.9 867.8L1816.9 861.2L1824.3 858.1L1830.4 855.0L1836.5 852.0L1840.9 851.5L1845.3 851.0L1849.7 850.4L1854.4 848.2L1859.0 846.0L1857.6 841.5L1864.7 836.3L1867.8 829.7L1864.6 825.8L1869.0 823.1L1873.4 820.5L1878.5 818.5L1883.5 816.6L1879.8 816.3L1876.1 816.0L1872.4 815.8L1868.8 815.5L1865.2 815.3L1861.7 814.4L1858.3 813.6L1854.9 812.7L1851.6 811.9L1848.4 811.1L1844.3 811.4L1840.3 811.8L1836.2 812.1L1832.1 812.5L1827.9 812.8L1823.8 813.2L1819.7 813.5L1815.6 813.8L1811.5 814.1L1807.3 814.4L1803.2 814.7L1799.0 815.0L1794.9 815.3L1789.2 816.6L1783.6 817.9L1775.0 821.8L1769.0 823.5ZM1552.4 1235.4L1556.8 1235.7L1561.2 1236.0L1565.5 1236.2L1569.9 1236.5L1574.2 1236.7L1577.7 1236.5L1581.2 1236.2L1584.7 1236.0L1588.2 1235.7L1591.7 1235.4L1594.8 1234.9L1598.0 1234.4L1601.2 1233.9L1604.4 1233.3L1607.6 1232.8L1610.5 1232.0L1613.5 1231.2L1616.5 1230.4L1619.5 1229.7L1622.6 1228.9L1626.1 1228.3L1629.5 1227.8L1633.0 1227.3L1636.5 1226.8L1640.0 1226.2L1643.8 1226.0L1647.6 1225.7L1651.5 1225.5L1655.3 1225.2L1659.2 1224.9L1663.5 1225.2L1667.9 1225.5L1672.2 1225.7L1676.6 1226.0L1680.9 1226.2L1684.3 1225.5L1687.7 1224.7L1691.2 1223.9L1694.7 1223.1L1698.2 1222.3L1702.4 1222.3L1706.5 1222.3L1710.7 1222.3L1714.8 1222.3L1719.0 1222.3L1723.3 1222.6L1727.6 1222.8L1732.0 1223.1L1736.3 1223.4L1740.6 1223.6L1744.6 1221.6L1748.6 1219.7L1752.2 1216.4L1755.9 1213.1L1757.3 1206.5L1762.3 1202.6L1768.0 1200.0L1773.0 1198.4L1778.1 1196.8L1776.9 1200.0L1772.7 1203.9L1771.4 1209.2L1775.7 1214.4L1778.0 1219.7L1782.5 1224.9L1784.5 1228.9L1789.2 1230.2L1793.8 1231.5L1798.5 1232.8L1803.1 1234.1L1807.7 1235.4L1811.6 1235.4L1815.5 1235.4L1819.5 1235.4L1823.4 1235.4L1827.3 1235.4L1832.2 1235.4L1837.1 1235.4L1841.4 1233.5L1845.8 1231.5L1850.4 1229.5L1855.0 1227.6L1859.7 1225.6L1864.5 1223.6L1869.5 1222.3L1874.6 1221.0L1879.6 1219.0L1884.7 1217.1L1888.9 1216.5L1893.1 1216.0L1897.3 1215.5L1901.6 1215.0L1905.8 1214.4L1910.1 1214.4L1914.4 1214.4L1918.7 1214.4L1922.9 1214.4L1927.2 1214.4L1931.5 1214.4L1935.7 1214.4L1940.0 1214.4L1944.3 1214.4L1948.5 1214.4L1952.8 1214.2L1957.1 1213.9L1961.5 1213.6L1965.8 1213.4L1970.1 1213.1L1975.6 1212.5L1981.1 1211.8L1986.7 1211.1L1992.2 1210.5L1997.9 1209.4L2003.6 1208.4L2009.5 1206.8L2015.5 1205.2L2021.2 1204.6L2026.9 1203.9L2031.8 1205.6L2036.6 1207.3L2041.9 1207.9L2047.1 1208.4L2052.1 1209.4L2057.0 1210.5L2059.7 1213.9L2066.8 1212.6L2073.4 1210.2L2080.0 1207.9L2086.1 1206.5L2092.2 1205.2L2097.7 1205.2L2103.2 1205.2L2108.8 1205.0L2114.5 1204.7L2120.3 1204.1L2126.2 1203.4L2131.3 1204.1L2136.4 1204.7L2142.2 1204.3L2147.9 1203.9L2153.0 1204.6L2158.0 1205.2L2163.3 1205.5L2168.6 1205.8L2174.5 1205.2L2180.3 1204.7L2186.1 1204.3L2191.9 1203.9L2197.4 1203.9L2202.9 1203.9L2207.7 1204.8L2212.4 1205.8L2217.5 1206.2L2222.6 1206.5L2226.5 1208.3L2230.3 1210.0L2234.8 1210.9L2239.3 1211.8L2243.3 1213.1L2247.2 1214.4L2251.5 1215.3L2255.8 1216.3L2259.8 1217.3L2263.8 1218.4L2258.8 1222.3L2250.2 1224.9L2241.5 1227.6L2229.8 1235.4L2234.7 1235.4L2239.7 1235.4L2243.6 1235.4L2247.5 1235.4L2251.4 1235.4L2255.4 1235.4L2259.3 1235.4L2249.7 1240.7L2238.8 1245.9L2226.3 1251.2L2211.2 1256.4L2191.1 1261.7L2141.7 1266.9L2139.0 1266.9L2136.4 1266.9L2133.8 1266.9L2131.2 1266.9L2128.5 1266.9L2125.9 1266.9L2123.3 1266.9L2120.7 1266.9L2118.1 1266.9L2115.4 1266.9L2112.8 1266.9L2110.2 1266.9L2107.6 1266.9L2105.0 1266.9L2102.3 1266.9L2099.7 1266.9L2097.1 1266.9L2094.5 1266.9L2091.9 1266.9L2089.2 1266.9L2086.6 1266.9L2084.0 1266.9L2081.4 1266.9L2078.8 1266.9L2076.2 1266.9L2073.5 1266.9L2070.9 1266.9L2068.3 1266.9L2065.7 1266.9L2063.0 1266.9L2060.4 1266.9L2057.8 1266.9L2055.2 1266.9L2052.6 1266.9L2049.9 1266.9L2047.3 1266.9L2044.7 1266.9L2042.1 1266.9L2039.5 1266.9L2036.8 1266.9L2034.2 1266.9L2031.6 1266.9L2029.0 1266.9L2026.4 1266.9L2023.8 1266.9L2021.1 1266.9L2018.5 1266.9L2015.9 1266.9L2013.3 1266.9L2010.6 1266.9L2008.0 1266.9L2005.4 1266.9L2002.8 1266.9L2000.2 1266.9L1997.5 1266.9L1994.9 1266.9L1992.3 1266.9L1989.7 1266.9L1987.1 1266.9L1984.4 1266.9L1981.8 1266.9L1979.2 1266.9L1976.6 1266.9L1974.0 1266.9L1971.3 1266.9L1968.7 1266.9L1966.1 1266.9L1963.5 1266.9L1960.9 1266.9L1958.2 1266.9L1955.6 1266.9L1953.0 1266.9L1950.4 1266.9L1947.8 1266.9L1945.1 1266.9L1942.5 1266.9L1939.9 1266.9L1937.3 1266.9L1934.7 1266.9L1932.0 1266.9L1929.4 1266.9L1926.8 1266.9L1924.2 1266.9L1921.6 1266.9L1918.9 1266.9L1916.3 1266.9L1913.7 1266.9L1911.1 1266.9L1908.5 1266.9L1905.8 1266.9L1903.2 1266.9L1900.6 1266.9L1898.0 1266.9L1895.4 1266.9L1892.8 1266.9L1890.1 1266.9L1887.5 1266.9L1884.9 1266.9L1882.3 1266.9L1879.6 1266.9L1877.0 1266.9L1874.4 1266.9L1871.8 1266.9L1869.2 1266.9L1866.5 1266.9L1863.9 1266.9L1861.3 1266.9L1858.7 1266.9L1856.1 1266.9L1853.4 1266.9L1850.8 1266.9L1848.2 1266.9L1845.6 1266.9L1843.0 1266.9L1840.3 1266.9L1837.7 1266.9L1835.1 1266.9L1832.5 1266.9L1829.9 1266.9L1827.2 1266.9L1824.6 1266.9L1822.0 1266.9L1819.4 1266.9L1816.8 1266.9L1814.1 1266.9L1811.5 1266.9L1808.9 1266.9L1806.3 1266.9L1803.7 1266.9L1801.0 1266.9L1798.4 1266.9L1795.8 1266.9L1793.2 1266.9L1790.6 1266.9L1787.9 1266.9L1785.3 1266.9L1782.7 1266.9L1780.1 1266.9L1777.5 1266.9L1774.8 1266.9L1772.2 1266.9L1769.6 1266.9L1767.0 1266.9L1764.4 1266.9L1761.8 1266.9L1759.1 1266.9L1756.5 1266.9L1753.9 1266.9L1751.3 1266.9L1748.6 1266.9L1746.0 1266.9L1743.4 1266.9L1740.8 1266.9L1738.2 1266.9L1735.5 1266.9L1732.9 1266.9L1730.3 1266.9L1727.7 1266.9L1725.1 1266.9L1722.4 1266.9L1719.8 1266.9L1717.2 1266.9L1714.6 1266.9L1712.0 1266.9L1709.3 1266.9L1706.7 1266.9L1704.1 1266.9L1701.5 1266.9L1698.9 1266.9L1696.2 1266.9L1693.6 1266.9L1691.0 1266.9L1688.4 1266.9L1685.8 1266.9L1683.1 1266.9L1680.5 1266.9L1677.9 1266.9L1675.3 1266.9L1672.7 1266.9L1670.0 1266.9L1620.6 1261.7L1600.5 1256.4L1585.4 1251.2L1572.9 1245.9L1562.0 1240.7ZM1927.0 821.8L1931.3 825.1L1935.7 828.4L1941.7 828.9L1945.4 827.3L1949.0 825.8L1953.3 823.1L1957.4 820.5L1952.9 820.1L1948.3 819.6L1943.8 819.2L1939.6 819.9L1935.5 820.5L1931.3 821.2ZM2088.6 821.8L2095.4 823.8L2102.2 825.8L2106.5 825.1L2110.7 824.5L2103.1 821.8L2095.4 819.2L2090.0 818.5L2084.5 817.9ZM1995.4 820.0L1999.2 820.1L2003.1 820.2L2007.0 820.4L2010.9 820.5L2015.1 820.1L2019.3 819.6L2023.4 819.2L2018.2 817.1L2014.5 817.3L2010.9 817.4L2007.2 817.6L2003.6 817.7L1999.9 817.9Z" fill="#f0f2f8"/>
<g clip-path="url(#landclip)"><g filter="url(#blur6)">
<path d="M1779.1 854.7L1778.6 852.4L1775.3 850.2L1769.5 848.1L1761.4 846.2L1751.2 844.6L1739.3 843.3L1725.9 842.3L1711.4 841.7L1696.2 841.5L1680.8 841.7L1665.5 842.3L1650.7 843.3L1636.8 844.6L1624.4 846.2L1613.7 848.1L1605.1 850.2L1599.0 852.4L1595.6 854.7L1595.1 856.9L1597.4 859.1L1602.6 861.2L1610.6 863.1L1621.0 864.7L1633.6 866.0L1647.9 867.0L1663.5 867.6L1679.9 867.8L1696.5 867.6L1712.7 867.0L1728.1 866.0L1742.1 864.7L1754.3 863.1L1764.4 861.2L1772.0 859.1L1776.9 856.9Z" fill="#dfdfd3" fill-opacity="1"/>
<path d="M1601.3 850.7L1602.1 849.3L1602.0 848.0L1601.0 846.8L1599.2 845.6L1596.5 844.7L1593.1 843.9L1589.0 843.3L1584.5 843.0L1579.5 842.8L1574.2 843.0L1568.8 843.3L1563.5 843.9L1558.4 844.7L1553.6 845.6L1549.3 846.8L1545.7 848.0L1542.8 849.3L1540.9 850.7L1539.8 852.1L1539.8 853.4L1540.7 854.7L1542.7 855.8L1545.5 856.7L1549.1 857.5L1553.4 858.1L1558.3 858.5L1563.5 858.6L1569.0 858.5L1574.5 858.1L1579.9 857.5L1585.0 856.7L1589.7 855.8L1593.7 854.7L1597.1 853.4L1599.6 852.1Z" fill="#dfdfd3" fill-opacity="1"/>
<path d="M1598.0 862.5L1598.6 861.2L1598.5 859.8L1597.5 858.6L1595.8 857.5L1593.4 856.5L1590.3 855.7L1586.7 855.1L1582.6 854.8L1578.2 854.7L1573.5 854.8L1568.7 855.1L1564.0 855.7L1559.5 856.5L1555.3 857.5L1551.6 858.6L1548.5 859.8L1546.1 861.2L1544.4 862.5L1543.6 863.9L1543.6 865.2L1544.5 866.5L1546.3 867.6L1548.8 868.6L1552.1 869.4L1555.9 869.9L1560.2 870.3L1564.9 870.4L1569.7 870.3L1574.6 869.9L1579.3 869.4L1583.8 868.6L1587.8 867.6L1591.4 866.5L1594.3 865.2L1596.5 863.9Z" fill="#ccd7bd" fill-opacity="0.9"/>
<path d="M1752.7 873.0L1753.0 871.2L1752.8 869.4L1752.0 867.8L1750.8 866.3L1749.0 865.0L1746.9 863.9L1744.4 863.2L1741.6 862.7L1738.5 862.5L1735.4 862.7L1732.1 863.2L1729.0 863.9L1726.0 865.0L1723.2 866.3L1720.7 867.8L1718.7 869.4L1717.1 871.2L1716.1 873.0L1715.6 874.9L1715.7 876.6L1716.5 878.3L1717.7 879.8L1719.6 881.1L1721.8 882.1L1724.5 882.9L1727.5 883.4L1730.7 883.5L1734.0 883.4L1737.3 882.9L1740.5 882.1L1743.5 881.1L1746.2 879.8L1748.5 878.3L1750.4 876.6L1751.8 874.9Z" fill="#dfdfd3" fill-opacity="0.8"/>
<path d="M1800.5 828.4L1801.5 823.8L1800.4 819.4L1797.4 815.3L1792.7 811.5L1786.5 808.3L1779.2 805.6L1770.6 803.7L1760.8 802.5L1749.5 802.1L1736.7 802.5L1722.5 803.7L1707.3 805.6L1691.8 808.3L1676.8 811.5L1662.8 815.3L1650.6 819.4L1640.7 823.8L1633.5 828.4L1629.3 832.9L1628.3 837.4L1630.5 841.5L1635.9 845.3L1644.1 848.5L1655.0 851.1L1668.0 853.1L1682.6 854.3L1698.3 854.7L1714.5 854.3L1730.5 853.1L1745.8 851.1L1760.0 848.5L1772.5 845.3L1783.0 841.5L1791.2 837.4L1797.1 832.9Z" fill="#e8e8e4" fill-opacity="1"/>
<path d="M1791.2 820.5L1792.2 818.2L1792.1 816.0L1790.9 813.9L1788.8 812.1L1785.9 810.5L1782.1 809.1L1777.6 808.2L1772.4 807.6L1766.6 807.4L1760.3 807.6L1753.6 808.2L1746.8 809.1L1739.9 810.5L1733.4 812.1L1727.4 813.9L1722.2 816.0L1717.9 818.2L1714.8 820.5L1713.0 822.8L1712.6 825.0L1713.5 827.1L1715.8 829.0L1719.4 830.6L1724.1 831.9L1729.8 832.8L1736.2 833.4L1743.1 833.6L1750.3 833.4L1757.5 832.8L1764.5 831.9L1771.0 830.6L1776.9 829.0L1782.0 827.1L1786.1 825.0L1789.2 822.8Z" fill="#ebebe8" fill-opacity="1"/>
<path d="M1770.3 849.4L1770.9 847.1L1770.7 844.9L1769.8 842.8L1768.2 841.0L1765.9 839.3L1763.1 838.0L1759.7 837.1L1755.8 836.5L1751.7 836.3L1747.3 836.5L1742.7 837.1L1738.2 838.0L1733.8 839.3L1729.7 841.0L1726.0 842.8L1722.9 844.9L1720.4 847.1L1718.7 849.4L1717.8 851.7L1717.8 853.9L1718.6 856.0L1720.3 857.8L1722.8 859.5L1725.9 860.8L1729.7 861.7L1734.0 862.3L1738.5 862.5L1743.3 862.3L1748.0 861.7L1752.6 860.8L1756.9 859.5L1760.8 857.8L1764.2 856.0L1766.9 853.9L1769.0 851.7Z" fill="#e2e2da" fill-opacity="1"/>
<path d="M1536.1 857.3L1537.7 855.5L1538.8 853.7L1539.3 852.0L1539.2 850.5L1538.5 849.2L1537.3 848.2L1535.5 847.4L1533.1 846.9L1530.4 846.8L1527.2 846.9L1523.8 847.4L1520.1 848.2L1516.4 849.2L1512.7 850.5L1509.2 852.0L1506.0 853.7L1503.2 855.5L1500.9 857.3L1499.2 859.1L1498.1 860.9L1497.7 862.5L1498.0 864.0L1498.9 865.3L1500.5 866.4L1502.6 867.1L1505.2 867.6L1508.2 867.8L1511.5 867.6L1514.9 867.1L1518.5 866.4L1522.0 865.3L1525.4 864.0L1528.6 862.5L1531.5 860.9L1534.1 859.1Z" fill="#dfdfd3" fill-opacity="1"/>
<path d="M1553.4 867.8L1555.1 865.5L1556.3 863.3L1557.2 861.2L1557.5 859.3L1557.4 857.7L1556.8 856.4L1555.6 855.4L1554.0 854.9L1551.9 854.7L1549.5 854.9L1546.7 855.4L1543.6 856.4L1540.4 857.7L1537.2 859.3L1534.1 861.2L1531.1 863.3L1528.5 865.5L1526.2 867.8L1524.5 870.1L1523.2 872.3L1522.5 874.3L1522.4 876.2L1522.8 877.8L1523.8 879.2L1525.2 880.1L1527.1 880.7L1529.4 880.9L1532.0 880.7L1534.7 880.1L1537.7 879.2L1540.6 877.8L1543.5 876.2L1546.3 874.3L1548.9 872.3L1551.3 870.1Z" fill="#d9dccb" fill-opacity="0.9"/>
<path d="M1764.1 880.9L1764.5 878.6L1764.4 876.4L1763.8 874.3L1762.8 872.5L1761.4 870.9L1759.5 869.5L1757.3 868.6L1754.9 868.0L1752.2 867.8L1749.4 868.0L1746.5 868.6L1743.6 869.5L1740.9 870.9L1738.3 872.5L1736.0 874.3L1734.1 876.4L1732.6 878.6L1731.6 880.9L1731.0 883.2L1731.1 885.4L1731.6 887.5L1732.7 889.4L1734.2 891.0L1736.2 892.3L1738.6 893.3L1741.2 893.8L1744.1 894.0L1747.0 893.8L1750.0 893.3L1752.8 892.3L1755.5 891.0L1758.0 889.4L1760.1 887.5L1761.9 885.4L1763.2 883.2Z" fill="#dfdfd3" fill-opacity="0.9"/>
<path d="M1773.8 888.8L1774.0 887.4L1773.9 886.1L1773.5 884.9L1772.8 883.7L1771.9 882.8L1770.8 882.0L1769.5 881.4L1768.0 881.0L1766.4 880.9L1764.8 881.0L1763.1 881.4L1761.5 882.0L1759.9 882.8L1758.5 883.7L1757.3 884.9L1756.2 886.1L1755.4 887.4L1754.9 888.8L1754.7 890.2L1754.8 891.5L1755.2 892.7L1755.9 893.9L1756.8 894.8L1758.0 895.6L1759.3 896.2L1760.9 896.5L1762.5 896.7L1764.2 896.5L1765.9 896.2L1767.5 895.6L1769.0 894.8L1770.4 893.9L1771.6 892.7L1772.6 891.5L1773.3 890.2Z" fill="#d5dcc4" fill-opacity="0.8"/>
<path d="M1702.8 844.1L1703.3 842.8L1702.9 841.5L1701.7 840.2L1699.6 839.1L1696.8 838.1L1693.3 837.3L1689.2 836.7L1684.6 836.4L1679.7 836.3L1674.6 836.4L1669.5 836.7L1664.4 837.3L1659.5 838.1L1655.0 839.1L1651.1 840.2L1647.8 841.5L1645.3 842.8L1643.6 844.1L1642.8 845.5L1643.1 846.8L1644.2 848.1L1646.3 849.2L1649.3 850.2L1653.0 851.0L1657.3 851.5L1662.2 851.9L1667.4 852.0L1672.7 851.9L1678.1 851.5L1683.2 851.0L1688.1 850.2L1692.4 849.2L1696.2 848.1L1699.2 846.8L1701.4 845.5Z" fill="#e2e2da" fill-opacity="1"/>
<path d="M2313.0 857.3L2310.6 855.5L2307.6 853.7L2304.1 852.0L2300.1 850.5L2295.9 849.2L2291.6 848.2L2287.3 847.4L2283.1 846.9L2279.2 846.8L2275.7 846.9L2272.6 847.4L2270.2 848.2L2268.3 849.2L2267.0 850.5L2266.5 852.0L2266.6 853.7L2267.5 855.5L2269.0 857.3L2271.1 859.1L2273.8 860.9L2277.0 862.5L2280.6 864.0L2284.5 865.3L2288.7 866.4L2293.0 867.1L2297.2 867.6L2301.3 867.8L2305.1 867.6L2308.4 867.1L2311.2 866.4L2313.4 865.3L2314.9 864.0L2315.6 862.5L2315.5 860.9L2314.6 859.1Z" fill="#dfdfd3" fill-opacity="1"/>
<path d="M1751.7 883.5L1751.4 880.3L1748.6 877.3L1743.5 874.3L1736.2 871.7L1727.0 869.5L1716.1 867.6L1703.9 866.3L1690.7 865.4L1676.8 865.2L1662.6 865.4L1648.5 866.3L1634.8 867.6L1622.0 869.5L1610.4 871.7L1600.5 874.3L1592.5 877.3L1586.8 880.3L1583.5 883.5L1582.9 886.7L1585.0 889.8L1589.7 892.7L1596.9 895.4L1606.4 897.6L1617.9 899.5L1630.9 900.8L1645.2 901.6L1660.1 901.9L1675.3 901.6L1690.2 900.8L1704.3 899.5L1717.1 897.6L1728.4 895.4L1737.7 892.7L1744.8 889.8L1749.5 886.7Z" fill="#b4cca6" fill-opacity="1"/>
<path d="M1752.9 896.7L1753.1 894.4L1752.3 892.2L1750.8 890.1L1748.5 888.2L1745.5 886.6L1741.8 885.3L1737.7 884.3L1733.2 883.7L1728.4 883.5L1723.4 883.7L1718.5 884.3L1713.7 885.3L1709.2 886.6L1705.2 888.2L1701.7 890.1L1698.8 892.2L1696.8 894.4L1695.6 896.7L1695.3 898.9L1695.9 901.2L1697.3 903.2L1699.7 905.1L1702.8 906.7L1706.6 908.0L1710.9 909.0L1715.7 909.6L1720.7 909.8L1725.8 909.6L1730.9 909.0L1735.7 908.0L1740.2 906.7L1744.2 905.1L1747.5 903.2L1750.1 901.2L1751.9 898.9Z" fill="#b4cca6" fill-opacity="0.9"/>
<path d="M1631.3 886.2L1632.9 882.5L1634.2 879.0L1635.0 875.7L1635.3 872.7L1635.2 870.1L1634.6 868.0L1633.4 866.4L1631.8 865.5L1629.7 865.2L1627.1 865.5L1624.2 866.4L1621.0 868.0L1617.7 870.1L1614.3 872.7L1611.1 875.7L1608.1 879.0L1605.4 882.5L1603.1 886.2L1601.3 889.8L1600.1 893.3L1599.5 896.7L1599.5 899.7L1600.1 902.3L1601.2 904.4L1602.9 905.9L1604.9 906.9L1607.3 907.2L1610.0 906.9L1612.8 905.9L1615.8 904.4L1618.7 902.3L1621.6 899.7L1624.4 896.7L1626.9 893.3L1629.3 889.8Z" fill="#c4d3b9" fill-opacity="0.9"/>
<path d="M1612.6 870.4L1613.3 869.0L1613.6 867.7L1613.5 866.5L1612.9 865.3L1611.9 864.4L1610.6 863.6L1608.9 863.0L1606.9 862.6L1604.7 862.5L1602.2 862.6L1599.7 863.0L1597.2 863.6L1594.6 864.4L1592.2 865.3L1590.0 866.5L1588.1 867.7L1586.5 869.0L1585.3 870.4L1584.6 871.8L1584.2 873.1L1584.4 874.3L1585.0 875.5L1586.1 876.4L1587.5 877.2L1589.3 877.8L1591.4 878.2L1593.8 878.3L1596.3 878.2L1598.8 877.8L1601.4 877.2L1603.8 876.4L1606.1 875.5L1608.2 874.3L1610.0 873.1L1611.5 871.8Z" fill="#d5dccf" fill-opacity="0.8"/>
<path d="M1644.2 920.3L1645.1 916.7L1645.8 913.1L1646.0 909.8L1645.9 906.8L1645.3 904.2L1644.4 902.1L1643.1 900.6L1641.5 899.6L1639.5 899.3L1637.3 899.6L1634.9 900.6L1632.4 902.1L1629.8 904.2L1627.3 906.8L1624.9 909.8L1622.8 913.1L1620.9 916.7L1619.5 920.3L1618.5 924.0L1617.9 927.5L1617.8 930.8L1618.2 933.8L1619.0 936.4L1620.2 938.5L1621.8 940.0L1623.7 941.0L1625.8 941.3L1628.1 941.0L1630.4 940.0L1632.8 938.5L1635.2 936.4L1637.4 933.8L1639.4 930.8L1641.3 927.5L1642.9 924.0Z" fill="#e4ddc9" fill-opacity="0.9"/>
<path d="M1631.5 938.7L1631.9 936.4L1631.9 934.2L1631.6 932.1L1630.9 930.2L1629.8 928.6L1628.4 927.3L1626.7 926.3L1624.8 925.8L1622.7 925.6L1620.5 925.8L1618.2 926.3L1616.0 927.3L1613.8 928.6L1611.7 930.2L1609.9 932.1L1608.4 934.2L1607.2 936.4L1606.3 938.7L1605.9 941.0L1605.9 943.2L1606.3 945.3L1607.1 947.1L1608.3 948.7L1609.8 950.1L1611.5 951.0L1613.5 951.6L1615.7 951.8L1618.0 951.6L1620.2 951.0L1622.5 950.1L1624.6 948.7L1626.5 947.1L1628.2 945.3L1629.6 943.2L1630.7 941.0Z" fill="#efdcc8" fill-opacity="0.9"/>
<path d="M1678.0 922.9L1678.9 918.8L1679.2 914.8L1679.1 911.1L1678.4 907.7L1677.2 904.8L1675.6 902.5L1673.6 900.7L1671.1 899.7L1668.3 899.3L1665.3 899.7L1662.1 900.7L1658.7 902.5L1655.5 904.8L1652.3 907.7L1649.5 911.1L1647.0 914.8L1644.9 918.8L1643.4 922.9L1642.4 927.0L1642.1 931.0L1642.4 934.7L1643.3 938.1L1644.8 941.0L1646.8 943.4L1649.2 945.1L1651.9 946.2L1654.9 946.6L1658.1 946.2L1661.3 945.1L1664.5 943.4L1667.5 941.0L1670.3 938.1L1672.8 934.7L1675.0 931.0L1676.7 927.0Z" fill="#eaeaa6" fill-opacity="0.9"/>
<path d="M1718.0 933.4L1718.3 930.2L1718.1 927.1L1717.2 924.2L1715.8 921.6L1713.9 919.4L1711.5 917.5L1708.7 916.2L1705.6 915.3L1702.3 915.1L1698.8 915.3L1695.3 916.2L1691.8 917.5L1688.5 919.4L1685.5 921.6L1682.8 924.2L1680.7 927.1L1679.0 930.2L1678.0 933.4L1677.6 936.6L1677.8 939.7L1678.7 942.6L1680.2 945.3L1682.3 947.5L1684.9 949.4L1687.8 950.7L1691.1 951.5L1694.6 951.8L1698.2 951.5L1701.7 950.7L1705.2 949.4L1708.4 947.5L1711.2 945.3L1713.7 942.6L1715.7 939.7L1717.1 936.6Z" fill="#c3d6ae" fill-opacity="0.85"/>
<path d="M1683.3 943.9L1683.4 942.6L1683.2 941.2L1682.7 940.0L1682.0 938.9L1680.9 937.9L1679.7 937.1L1678.2 936.5L1676.6 936.2L1674.9 936.1L1673.1 936.2L1671.3 936.5L1669.6 937.1L1668.0 937.9L1666.5 938.9L1665.3 940.0L1664.3 941.2L1663.5 942.6L1663.1 943.9L1663.0 945.3L1663.1 946.6L1663.6 947.9L1664.4 949.0L1665.5 950.0L1666.8 950.8L1668.3 951.3L1670.0 951.7L1671.7 951.8L1673.5 951.7L1675.3 951.3L1677.0 950.8L1678.6 950.0L1680.0 949.0L1681.2 947.9L1682.2 946.6L1682.9 945.3Z" fill="#c3d6ae" fill-opacity="0.5"/>
<path d="M1649.4 962.3L1649.7 959.6L1649.8 956.9L1649.5 954.4L1648.9 952.2L1648.0 950.3L1646.9 948.7L1645.5 947.5L1644.0 946.8L1642.3 946.6L1640.5 946.8L1638.6 947.5L1636.7 948.7L1634.9 950.3L1633.3 952.2L1631.8 954.4L1630.6 956.9L1629.6 959.6L1628.9 962.3L1628.6 965.1L1628.6 967.7L1629.0 970.2L1629.7 972.4L1630.6 974.4L1631.9 976.0L1633.4 977.1L1635.0 977.8L1636.8 978.1L1638.6 977.8L1640.4 977.1L1642.2 976.0L1643.9 974.4L1645.5 972.4L1646.8 970.2L1648.0 967.7L1648.8 965.1Z" fill="#e9dfc2" fill-opacity="0.9"/>
<path d="M1687.5 988.6L1687.4 987.2L1686.8 985.9L1685.8 984.6L1684.3 983.5L1682.5 982.5L1680.4 981.8L1678.0 981.2L1675.4 980.8L1672.7 980.7L1670.0 980.8L1667.3 981.2L1664.8 981.8L1662.5 982.5L1660.5 983.5L1658.8 984.6L1657.5 985.9L1656.7 987.2L1656.3 988.6L1656.4 990.0L1657.0 991.3L1658.1 992.5L1659.5 993.6L1661.4 994.6L1663.5 995.4L1666.0 996.0L1668.6 996.3L1671.3 996.5L1674.0 996.3L1676.7 996.0L1679.2 995.4L1681.5 994.6L1683.5 993.6L1685.1 992.5L1686.4 991.3L1687.2 990.0Z" fill="#c3d6ae" fill-opacity="0.9"/>
<path d="M1657.2 980.7L1657.1 979.8L1656.8 978.9L1656.1 978.1L1655.1 977.3L1654.0 976.7L1652.5 976.2L1651.0 975.8L1649.3 975.5L1647.5 975.5L1645.7 975.5L1643.9 975.8L1642.2 976.2L1640.7 976.7L1639.3 977.3L1638.2 978.1L1637.3 978.9L1636.7 979.8L1636.4 980.7L1636.5 981.6L1636.8 982.5L1637.5 983.3L1638.5 984.1L1639.7 984.7L1641.1 985.3L1642.7 985.6L1644.4 985.9L1646.2 986.0L1648.0 985.9L1649.8 985.6L1651.5 985.3L1653.0 984.7L1654.4 984.1L1655.5 983.3L1656.3 982.5L1656.9 981.6Z" fill="#d5dfb2" fill-opacity="0.7"/>
<path d="M1780.2 1041.1L1779.6 1037.0L1777.9 1033.0L1775.2 1029.3L1771.5 1025.9L1767.0 1023.0L1761.8 1020.6L1756.0 1018.9L1749.9 1017.8L1743.5 1017.5L1737.2 1017.8L1731.0 1018.9L1725.2 1020.6L1719.9 1023.0L1715.3 1025.9L1711.6 1029.3L1708.9 1033.0L1707.3 1037.0L1706.8 1041.1L1707.5 1045.2L1709.2 1049.2L1712.1 1052.9L1715.9 1056.3L1720.5 1059.2L1725.8 1061.6L1731.7 1063.3L1737.9 1064.4L1744.3 1064.7L1750.6 1064.4L1756.7 1063.3L1762.4 1061.6L1767.5 1059.2L1771.9 1056.3L1775.5 1052.9L1778.1 1049.2L1779.7 1045.2Z" fill="#b4cca6" fill-opacity="1"/>
<path d="M1780.6 1059.5L1780.2 1057.2L1779.2 1055.0L1777.6 1052.9L1775.4 1051.0L1772.8 1049.4L1769.8 1048.1L1766.5 1047.1L1762.9 1046.6L1759.3 1046.4L1755.7 1046.6L1752.2 1047.1L1748.9 1048.1L1745.9 1049.4L1743.4 1051.0L1741.3 1052.9L1739.9 1055.0L1739.0 1057.2L1738.8 1059.5L1739.2 1061.8L1740.3 1064.0L1741.9 1066.1L1744.1 1067.9L1746.8 1069.5L1749.8 1070.9L1753.1 1071.8L1756.7 1072.4L1760.3 1072.6L1763.9 1072.4L1767.4 1071.8L1770.6 1070.9L1773.5 1069.5L1776.0 1067.9L1778.0 1066.1L1779.5 1064.0L1780.3 1061.8Z" fill="#c3d6ae" fill-opacity="0.8"/>
<path d="M1769.7 1020.1L1769.4 1018.7L1768.5 1017.4L1766.9 1016.2L1764.9 1015.0L1762.3 1014.1L1759.3 1013.3L1756.0 1012.7L1752.5 1012.3L1748.9 1012.2L1745.3 1012.3L1741.7 1012.7L1738.4 1013.3L1735.4 1014.1L1732.8 1015.0L1730.7 1016.2L1729.1 1017.4L1728.1 1018.7L1727.8 1020.1L1728.1 1021.5L1729.0 1022.8L1730.5 1024.0L1732.6 1025.2L1735.2 1026.1L1738.2 1026.9L1741.5 1027.5L1745.0 1027.9L1748.7 1028.0L1752.3 1027.9L1755.8 1027.5L1759.1 1026.9L1762.1 1026.1L1764.7 1025.2L1766.8 1024.0L1768.4 1022.8L1769.3 1021.5Z" fill="#c3d6ae" fill-opacity="0.9"/>
<path d="M1738.2 1025.3L1738.0 1023.1L1737.3 1020.9L1736.2 1018.8L1734.6 1016.9L1732.7 1015.3L1730.5 1014.0L1728.1 1013.0L1725.4 1012.4L1722.7 1012.2L1720.0 1012.4L1717.3 1013.0L1714.8 1014.0L1712.5 1015.3L1710.6 1016.9L1709.0 1018.8L1707.8 1020.9L1707.0 1023.1L1706.8 1025.3L1707.0 1027.6L1707.7 1029.8L1708.8 1031.9L1710.4 1033.8L1712.4 1035.4L1714.6 1036.7L1717.1 1037.7L1719.8 1038.3L1722.5 1038.5L1725.2 1038.3L1727.9 1037.7L1730.3 1036.7L1732.6 1035.4L1734.5 1033.8L1736.1 1031.9L1737.2 1029.8L1737.9 1027.6Z" fill="#b4cca6" fill-opacity="0.8"/>
<path d="M1809.1 1051.6L1808.9 1048.9L1808.2 1046.2L1807.2 1043.7L1805.9 1041.5L1804.3 1039.5L1802.4 1038.0L1800.3 1036.8L1798.1 1036.1L1795.8 1035.9L1793.6 1036.1L1791.3 1036.8L1789.3 1038.0L1787.4 1039.5L1785.8 1041.5L1784.6 1043.7L1783.6 1046.2L1783.1 1048.9L1783.0 1051.6L1783.2 1054.3L1783.9 1057.0L1784.9 1059.5L1786.3 1061.7L1788.0 1063.7L1789.9 1065.3L1792.0 1066.4L1794.2 1067.1L1796.5 1067.4L1798.7 1067.1L1800.9 1066.4L1802.9 1065.3L1804.7 1063.7L1806.3 1061.7L1807.5 1059.5L1808.4 1057.0L1809.0 1054.3Z" fill="#e2e8b2" fill-opacity="0.8"/>
<path d="M1704.1 1035.9L1704.1 1034.0L1703.9 1032.3L1703.6 1030.6L1703.2 1029.1L1702.7 1027.8L1702.2 1026.8L1701.5 1026.0L1700.9 1025.5L1700.2 1025.3L1699.5 1025.5L1698.9 1026.0L1698.2 1026.8L1697.7 1027.8L1697.2 1029.1L1696.8 1030.6L1696.5 1032.3L1696.3 1034.0L1696.3 1035.9L1696.4 1037.7L1696.6 1039.4L1696.9 1041.1L1697.3 1042.6L1697.8 1043.9L1698.4 1044.9L1699.0 1045.7L1699.7 1046.2L1700.4 1046.4L1701.1 1046.2L1701.7 1045.7L1702.3 1044.9L1702.9 1043.9L1703.3 1042.6L1703.7 1041.1L1703.9 1039.4L1704.1 1037.7Z" fill="#ccd0d3" fill-opacity="0.9"/>
<path d="M1712.5 1055.5L1712.4 1053.7L1712.1 1052.0L1711.6 1050.3L1711.0 1048.8L1710.3 1047.5L1709.6 1046.5L1708.7 1045.7L1707.8 1045.2L1706.9 1045.0L1706.0 1045.2L1705.1 1045.7L1704.3 1046.5L1703.6 1047.5L1703.0 1048.8L1702.5 1050.3L1702.2 1052.0L1702.1 1053.7L1702.1 1055.5L1702.2 1057.4L1702.6 1059.1L1703.0 1060.8L1703.6 1062.3L1704.4 1063.6L1705.2 1064.6L1706.0 1065.4L1706.9 1065.9L1707.9 1066.1L1708.8 1065.9L1709.6 1065.4L1710.4 1064.6L1711.1 1063.6L1711.6 1062.3L1712.1 1060.8L1712.4 1059.1L1712.5 1057.4Z" fill="#ccd0d3" fill-opacity="0.9"/>
<path d="M1725.0 1070.0L1724.8 1068.6L1724.5 1067.3L1723.9 1066.1L1723.2 1064.9L1722.3 1064.0L1721.4 1063.2L1720.3 1062.6L1719.2 1062.2L1718.1 1062.1L1716.9 1062.2L1715.8 1062.6L1714.9 1063.2L1714.0 1064.0L1713.2 1064.9L1712.6 1066.1L1712.2 1067.3L1712.0 1068.6L1712.0 1070.0L1712.2 1071.4L1712.6 1072.7L1713.2 1073.9L1713.9 1075.1L1714.8 1076.0L1715.8 1076.8L1716.9 1077.4L1718.0 1077.8L1719.1 1077.9L1720.2 1077.8L1721.3 1077.4L1722.3 1076.8L1723.1 1076.0L1723.9 1075.1L1724.4 1073.9L1724.8 1072.7L1725.0 1071.4Z" fill="#ccd0d3" fill-opacity="1"/>
<path d="M1736.4 1083.1L1736.1 1080.8L1735.6 1078.6L1735.0 1076.6L1734.2 1074.7L1733.3 1073.1L1732.3 1071.8L1731.2 1070.8L1730.1 1070.2L1728.9 1070.0L1727.8 1070.2L1726.8 1070.8L1725.8 1071.8L1725.0 1073.1L1724.3 1074.7L1723.8 1076.6L1723.5 1078.6L1723.3 1080.8L1723.4 1083.1L1723.8 1085.4L1724.3 1087.6L1724.9 1089.7L1725.8 1091.6L1726.7 1093.2L1727.8 1094.5L1728.9 1095.5L1730.1 1096.1L1731.2 1096.3L1732.3 1096.1L1733.3 1095.5L1734.2 1094.5L1735.0 1093.2L1735.6 1091.6L1736.1 1089.7L1736.4 1087.6L1736.5 1085.4Z" fill="#ccd0d3" fill-opacity="1"/>
<path d="M1735.9 1104.1L1735.6 1101.9L1735.1 1099.6L1734.5 1097.6L1733.8 1095.7L1733.0 1094.1L1732.1 1092.8L1731.2 1091.8L1730.3 1091.2L1729.4 1091.0L1728.5 1091.2L1727.7 1091.8L1727.0 1092.8L1726.4 1094.1L1725.9 1095.7L1725.6 1097.6L1725.5 1099.6L1725.5 1101.9L1725.7 1104.1L1726.1 1106.4L1726.6 1108.6L1727.3 1110.7L1728.1 1112.6L1728.9 1114.2L1729.8 1115.5L1730.8 1116.5L1731.7 1117.1L1732.6 1117.3L1733.5 1117.1L1734.2 1116.5L1734.9 1115.5L1735.4 1114.2L1735.8 1112.6L1736.1 1110.7L1736.2 1108.6L1736.1 1106.4Z" fill="#ccd0d3" fill-opacity="0.9"/>
<path d="M1733.4 1122.5L1733.0 1120.2L1732.5 1118.0L1731.9 1115.9L1731.3 1114.1L1730.6 1112.5L1729.8 1111.1L1729.1 1110.2L1728.4 1109.6L1727.7 1109.4L1727.1 1109.6L1726.5 1110.2L1726.0 1111.1L1725.7 1112.5L1725.4 1114.1L1725.3 1115.9L1725.4 1118.0L1725.6 1120.2L1725.9 1122.5L1726.3 1124.8L1726.9 1127.0L1727.5 1129.1L1728.3 1131.0L1729.0 1132.6L1729.8 1133.9L1730.6 1134.9L1731.3 1135.4L1732.0 1135.6L1732.6 1135.4L1733.1 1134.9L1733.5 1133.9L1733.8 1132.6L1734.0 1131.0L1734.0 1129.1L1734.0 1127.0L1733.8 1124.8Z" fill="#d8d8cc" fill-opacity="0.9"/>
<path d="M1716.0 1017.5L1716.0 1015.6L1715.9 1013.9L1715.7 1012.2L1715.3 1010.7L1714.9 1009.4L1714.4 1008.4L1713.8 1007.6L1713.1 1007.1L1712.5 1007.0L1711.8 1007.1L1711.1 1007.6L1710.4 1008.4L1709.8 1009.4L1709.3 1010.7L1708.9 1012.2L1708.5 1013.9L1708.3 1015.6L1708.2 1017.5L1708.2 1019.3L1708.4 1021.1L1708.6 1022.7L1709.0 1024.2L1709.5 1025.5L1710.0 1026.6L1710.6 1027.3L1711.3 1027.8L1712.0 1028.0L1712.7 1027.8L1713.3 1027.3L1713.9 1026.6L1714.5 1025.5L1715.0 1024.2L1715.4 1022.7L1715.7 1021.1L1715.9 1019.3Z" fill="#d3d8c8" fill-opacity="0.8"/>
<path d="M1744.0 1146.1L1743.2 1143.0L1742.3 1139.9L1741.2 1137.0L1740.0 1134.3L1738.6 1132.1L1737.2 1130.2L1735.8 1128.9L1734.4 1128.0L1733.1 1127.8L1731.8 1128.0L1730.7 1128.9L1729.7 1130.2L1729.0 1132.1L1728.5 1134.3L1728.3 1137.0L1728.3 1139.9L1728.7 1143.0L1729.3 1146.1L1730.1 1149.3L1731.1 1152.4L1732.4 1155.3L1733.8 1158.0L1735.2 1160.2L1736.7 1162.1L1738.2 1163.4L1739.7 1164.3L1741.0 1164.5L1742.2 1164.3L1743.1 1163.4L1743.9 1162.1L1744.5 1160.2L1744.9 1158.0L1745.0 1155.3L1744.9 1152.4L1744.5 1149.3Z" fill="#efdcc8" fill-opacity="1"/>
<path d="M1762.0 1119.9L1761.6 1118.1L1760.8 1116.3L1759.7 1114.6L1758.2 1113.1L1756.5 1111.8L1754.6 1110.8L1752.5 1110.0L1750.3 1109.5L1748.1 1109.4L1745.9 1109.5L1743.8 1110.0L1741.9 1110.8L1740.2 1111.8L1738.8 1113.1L1737.7 1114.6L1737.0 1116.3L1736.7 1118.1L1736.8 1119.9L1737.3 1121.7L1738.1 1123.5L1739.3 1125.1L1740.8 1126.6L1742.6 1127.9L1744.5 1129.0L1746.6 1129.8L1748.8 1130.2L1751.0 1130.4L1753.1 1130.2L1755.2 1129.8L1757.0 1129.0L1758.7 1127.9L1760.0 1126.6L1761.1 1125.1L1761.8 1123.5L1762.1 1121.7Z" fill="#ecedae" fill-opacity="0.8"/>
<path d="M1985.6 967.6L1984.4 964.2L1981.2 960.8L1976.2 957.7L1969.4 954.9L1961.1 952.5L1951.6 950.5L1941.1 949.1L1930.0 948.2L1918.5 947.9L1907.1 948.2L1896.0 949.1L1885.5 950.5L1876.0 952.5L1867.8 954.9L1861.1 957.7L1856.1 960.8L1853.0 964.2L1851.8 967.6L1852.7 971.0L1855.7 974.3L1860.5 977.4L1867.2 980.2L1875.5 982.7L1885.1 984.6L1895.7 986.1L1907.1 987.0L1918.8 987.3L1930.6 987.0L1941.9 986.1L1952.6 984.6L1962.1 982.7L1970.4 980.2L1977.0 977.4L1981.9 974.3L1984.7 971.0Z" fill="#f2e5d3" fill-opacity="1"/>
<path d="M1996.0 970.2L1995.4 966.6L1994.1 963.0L1992.0 959.7L1989.3 956.7L1986.0 954.1L1982.2 952.0L1978.1 950.5L1973.8 949.5L1969.3 949.2L1965.0 949.5L1960.7 950.5L1956.8 952.0L1953.2 954.1L1950.1 956.7L1947.7 959.7L1945.9 963.0L1944.8 966.6L1944.5 970.2L1945.0 973.8L1946.2 977.4L1948.2 980.7L1950.8 983.7L1954.1 986.3L1957.8 988.4L1962.0 989.9L1966.4 990.9L1970.9 991.2L1975.4 990.9L1979.8 989.9L1983.8 988.4L1987.5 986.3L1990.6 983.7L1993.0 980.7L1994.8 977.4L1995.8 973.8Z" fill="#f2e5d3" fill-opacity="1"/>
<path d="M1911.0 972.8L1910.6 970.5L1909.4 968.3L1907.5 966.3L1905.0 964.4L1901.8 962.8L1898.2 961.5L1894.1 960.5L1889.8 959.9L1885.4 959.7L1880.9 959.9L1876.6 960.5L1872.5 961.5L1868.8 962.8L1865.6 964.4L1863.0 966.3L1861.1 968.3L1859.9 970.5L1859.4 972.8L1859.7 975.1L1860.9 977.3L1862.7 979.4L1865.3 981.3L1868.4 982.9L1872.1 984.2L1876.2 985.2L1880.6 985.8L1885.1 986.0L1889.6 985.8L1894.0 985.2L1898.1 984.2L1901.8 982.9L1905.0 981.3L1907.6 979.4L1909.5 977.3L1910.6 975.1Z" fill="#f2e5d3" fill-opacity="1"/>
<path d="M1936.7 967.6L1936.5 966.7L1936.1 965.8L1935.3 964.9L1934.3 964.2L1933.0 963.5L1931.5 963.0L1929.9 962.6L1928.1 962.4L1926.4 962.3L1924.6 962.4L1922.9 962.6L1921.2 963.0L1919.8 963.5L1918.5 964.2L1917.5 964.9L1916.7 965.8L1916.3 966.7L1916.1 967.6L1916.3 968.5L1916.8 969.4L1917.5 970.2L1918.6 970.9L1919.8 971.6L1921.3 972.1L1923.0 972.5L1924.7 972.7L1926.5 972.8L1928.3 972.7L1930.0 972.5L1931.6 972.1L1933.1 971.6L1934.4 970.9L1935.4 970.2L1936.1 969.4L1936.6 968.5Z" fill="#ead6c4" fill-opacity="0.8"/>
<path d="M1960.1 975.5L1960.0 974.5L1959.6 973.7L1959.0 972.8L1958.2 972.1L1957.2 971.4L1956.1 970.9L1954.9 970.5L1953.6 970.3L1952.2 970.2L1950.9 970.3L1949.6 970.5L1948.4 970.9L1947.3 971.4L1946.3 972.1L1945.6 972.8L1945.0 973.7L1944.7 974.5L1944.6 975.5L1944.7 976.4L1945.1 977.2L1945.7 978.1L1946.5 978.8L1947.5 979.5L1948.6 980.0L1949.8 980.4L1951.1 980.6L1952.5 980.7L1953.8 980.6L1955.1 980.4L1956.3 980.0L1957.4 979.5L1958.4 978.8L1959.1 978.1L1959.7 977.2L1960.0 976.4Z" fill="#e8d3c0" fill-opacity="0.8"/>
<path d="M1918.6 951.8L1918.3 950.9L1917.3 950.0L1915.8 949.2L1913.8 948.4L1911.3 947.8L1908.4 947.3L1905.2 946.9L1901.8 946.6L1898.2 946.6L1894.7 946.6L1891.3 946.9L1888.1 947.3L1885.2 947.8L1882.7 948.4L1880.6 949.2L1879.1 950.0L1878.2 950.9L1877.9 951.8L1878.1 952.7L1879.0 953.6L1880.5 954.4L1882.6 955.2L1885.1 955.8L1888.0 956.4L1891.2 956.8L1894.6 957.0L1898.2 957.1L1901.7 957.0L1905.2 956.8L1908.4 956.4L1911.3 955.8L1913.8 955.2L1915.9 954.4L1917.4 953.6L1918.3 952.7Z" fill="#ebe2c4" fill-opacity="0.8"/>
<path d="M1987.1 1033.2L1986.7 1030.7L1985.5 1028.3L1983.6 1026.0L1980.9 1023.9L1977.7 1022.2L1973.9 1020.7L1969.8 1019.7L1965.4 1019.0L1960.8 1018.8L1956.3 1019.0L1951.9 1019.7L1947.8 1020.7L1944.0 1022.2L1940.8 1023.9L1938.2 1026.0L1936.2 1028.3L1935.1 1030.7L1934.7 1033.2L1935.1 1035.7L1936.2 1038.2L1938.2 1040.4L1940.8 1042.5L1944.0 1044.3L1947.7 1045.7L1951.9 1046.8L1956.3 1047.5L1960.8 1047.7L1965.3 1047.5L1969.8 1046.8L1973.9 1045.7L1977.7 1044.3L1980.9 1042.5L1983.5 1040.4L1985.5 1038.2L1986.7 1035.7Z" fill="#b4cca6" fill-opacity="1"/>
<path d="M1953.0 1028.0L1952.8 1026.1L1952.2 1024.4L1951.2 1022.7L1949.9 1021.2L1948.3 1019.9L1946.4 1018.9L1944.4 1018.1L1942.2 1017.6L1939.9 1017.5L1937.6 1017.6L1935.4 1018.1L1933.3 1018.9L1931.5 1019.9L1929.9 1021.2L1928.6 1022.7L1927.6 1024.4L1927.0 1026.1L1926.8 1028.0L1927.0 1029.8L1927.6 1031.6L1928.6 1033.2L1929.9 1034.7L1931.5 1036.0L1933.4 1037.1L1935.4 1037.8L1937.6 1038.3L1939.9 1038.5L1942.2 1038.3L1944.4 1037.8L1946.5 1037.1L1948.3 1036.0L1949.9 1034.7L1951.3 1033.2L1952.2 1031.6L1952.8 1029.8Z" fill="#b4cca6" fill-opacity="0.8"/>
<path d="M1903.2 1013.5L1903.0 1012.6L1902.3 1011.7L1901.1 1010.9L1899.6 1010.2L1897.6 1009.5L1895.4 1009.0L1892.9 1008.6L1890.3 1008.4L1887.6 1008.3L1884.8 1008.4L1882.2 1008.6L1879.7 1009.0L1877.5 1009.5L1875.5 1010.2L1874.0 1010.9L1872.8 1011.7L1872.1 1012.6L1871.8 1013.5L1872.1 1014.4L1872.8 1015.3L1873.9 1016.2L1875.5 1016.9L1877.4 1017.6L1879.7 1018.1L1882.1 1018.5L1884.8 1018.7L1887.5 1018.8L1890.2 1018.7L1892.9 1018.5L1895.4 1018.1L1897.6 1017.6L1899.6 1016.9L1901.1 1016.2L1902.3 1015.3L1903.0 1014.4Z" fill="#c3d6ae" fill-opacity="0.8"/>
<path d="M1937.3 1014.8L1937.1 1013.9L1936.6 1013.0L1935.8 1012.2L1934.8 1011.5L1933.5 1010.8L1932.0 1010.3L1930.3 1009.9L1928.6 1009.7L1926.8 1009.6L1925.0 1009.7L1923.2 1009.9L1921.5 1010.3L1920.0 1010.8L1918.8 1011.5L1917.7 1012.2L1916.9 1013.0L1916.5 1013.9L1916.3 1014.8L1916.5 1015.8L1917.0 1016.6L1917.7 1017.5L1918.8 1018.2L1920.1 1018.9L1921.6 1019.4L1923.2 1019.8L1925.0 1020.0L1926.8 1020.1L1928.6 1020.0L1930.4 1019.8L1932.0 1019.4L1933.5 1018.9L1934.8 1018.2L1935.9 1017.5L1936.6 1016.6L1937.1 1015.8Z" fill="#c3d6ae" fill-opacity="0.6"/>
<path d="M1992.1 1051.6L1991.8 1049.8L1990.9 1048.0L1989.4 1046.4L1987.3 1044.9L1984.8 1043.6L1981.8 1042.5L1978.5 1041.7L1975.0 1041.3L1971.3 1041.1L1967.7 1041.3L1964.1 1041.7L1960.8 1042.5L1957.8 1043.6L1955.2 1044.9L1953.1 1046.4L1951.6 1048.0L1950.6 1049.8L1950.3 1051.6L1950.6 1053.4L1951.5 1055.2L1953.1 1056.9L1955.1 1058.4L1957.7 1059.7L1960.6 1060.7L1963.9 1061.5L1967.4 1062.0L1971.1 1062.1L1974.7 1062.0L1978.2 1061.5L1981.5 1060.7L1984.5 1059.7L1987.1 1058.4L1989.2 1056.9L1990.8 1055.2L1991.8 1053.4Z" fill="#d0ddb0" fill-opacity="0.6"/>
<path d="M2015.6 1007.0L2015.5 1005.1L2015.1 1003.4L2014.4 1001.7L2013.6 1000.2L2012.6 998.9L2011.4 997.9L2010.2 997.1L2008.9 996.6L2007.5 996.5L2006.1 996.6L2004.8 997.1L2003.6 997.9L2002.5 998.9L2001.6 1000.2L2000.9 1001.7L2000.3 1003.4L2000.0 1005.1L1999.9 1007.0L2000.1 1008.8L2000.5 1010.6L2001.1 1012.2L2001.9 1013.7L2002.9 1015.0L2004.0 1016.1L2005.3 1016.8L2006.6 1017.3L2008.0 1017.5L2009.3 1017.3L2010.6 1016.8L2011.9 1016.1L2013.0 1015.0L2013.9 1013.7L2014.7 1012.2L2015.2 1010.6L2015.5 1008.8Z" fill="#cdd8b6" fill-opacity="0.9"/>
<path d="M2039.3 1014.8L2039.1 1012.6L2038.4 1010.4L2037.4 1008.3L2036.1 1006.4L2034.4 1004.8L2032.5 1003.5L2030.4 1002.5L2028.2 1001.9L2025.9 1001.7L2023.7 1001.9L2021.5 1002.5L2019.4 1003.5L2017.6 1004.8L2016.0 1006.4L2014.8 1008.3L2013.9 1010.4L2013.3 1012.6L2013.2 1014.8L2013.4 1017.1L2014.0 1019.3L2015.0 1021.4L2016.3 1023.3L2017.9 1024.9L2019.8 1026.2L2021.9 1027.2L2024.1 1027.8L2026.4 1028.0L2028.6 1027.8L2030.8 1027.2L2032.9 1026.2L2034.8 1024.9L2036.4 1023.3L2037.7 1021.4L2038.6 1019.3L2039.2 1017.1Z" fill="#efdcc8" fill-opacity="0.9"/>
<path d="M2017.2 1030.6L2017.1 1029.2L2016.7 1027.9L2016.1 1026.7L2015.3 1025.5L2014.4 1024.6L2013.2 1023.8L2012.0 1023.2L2010.7 1022.8L2009.3 1022.7L2007.9 1022.8L2006.6 1023.2L2005.4 1023.8L2004.3 1024.6L2003.3 1025.5L2002.5 1026.7L2002.0 1027.9L2001.6 1029.2L2001.5 1030.6L2001.6 1032.0L2002.0 1033.3L2002.5 1034.5L2003.3 1035.7L2004.3 1036.6L2005.4 1037.4L2006.6 1038.0L2007.9 1038.4L2009.3 1038.5L2010.7 1038.4L2012.0 1038.0L2013.2 1037.4L2014.4 1036.6L2015.3 1035.7L2016.1 1034.5L2016.7 1033.3L2017.1 1032.0Z" fill="#ecdfc4" fill-opacity="0.8"/>
<path d="M2007.3 991.2L2007.1 989.4L2006.7 987.6L2006.1 986.0L2005.2 984.5L2004.2 983.2L2003.1 982.1L2001.8 981.3L2000.5 980.9L1999.1 980.7L1997.8 980.9L1996.5 981.3L1995.3 982.1L1994.2 983.2L1993.3 984.5L1992.6 986.0L1992.1 987.6L1991.8 989.4L1991.7 991.2L1991.9 993.0L1992.3 994.8L1992.9 996.5L1993.7 998.0L1994.7 999.3L1995.9 1000.3L1997.1 1001.1L1998.5 1001.6L1999.8 1001.7L2001.2 1001.6L2002.5 1001.1L2003.7 1000.3L2004.8 999.3L2005.7 998.0L2006.4 996.5L2007.0 994.8L2007.3 993.0Z" fill="#ebdcc6" fill-opacity="0.7"/>
<path d="M1951.0 1088.4L1951.0 1085.2L1950.8 1082.1L1950.3 1079.2L1949.7 1076.6L1949.0 1074.3L1948.1 1072.5L1947.1 1071.1L1946.0 1070.3L1944.9 1070.0L1943.7 1070.3L1942.6 1071.1L1941.6 1072.5L1940.6 1074.3L1939.8 1076.6L1939.1 1079.2L1938.6 1082.1L1938.3 1085.2L1938.1 1088.4L1938.1 1091.6L1938.4 1094.7L1938.8 1097.6L1939.4 1100.2L1940.1 1102.5L1941.0 1104.3L1942.0 1105.6L1943.0 1106.5L1944.1 1106.8L1945.2 1106.5L1946.3 1105.6L1947.4 1104.3L1948.3 1102.5L1949.2 1100.2L1949.9 1097.6L1950.5 1094.7L1950.8 1091.6Z" fill="#efdcc8" fill-opacity="1"/>
<path d="M1975.1 1098.9L1974.9 1096.6L1974.3 1094.4L1973.3 1092.3L1971.8 1090.4L1970.0 1088.8L1967.8 1087.5L1965.4 1086.5L1962.8 1085.9L1960.1 1085.7L1957.4 1085.9L1954.8 1086.5L1952.3 1087.5L1950.1 1088.8L1948.1 1090.4L1946.5 1092.3L1945.4 1094.4L1944.6 1096.6L1944.3 1098.9L1944.5 1101.2L1945.1 1103.4L1946.2 1105.4L1947.7 1107.3L1949.5 1108.9L1951.6 1110.3L1954.0 1111.2L1956.5 1111.8L1959.2 1112.0L1961.8 1111.8L1964.4 1111.2L1966.9 1110.3L1969.1 1108.9L1971.1 1107.3L1972.7 1105.4L1973.9 1103.4L1974.7 1101.2Z" fill="#efe2c8" fill-opacity="0.9"/>
<path d="M1996.4 1083.1L1996.3 1080.8L1995.8 1078.6L1994.9 1076.6L1993.7 1074.7L1992.2 1073.1L1990.3 1071.8L1988.3 1070.8L1986.2 1070.2L1983.9 1070.0L1981.6 1070.2L1979.4 1070.8L1977.3 1071.8L1975.5 1073.1L1973.8 1074.7L1972.5 1076.6L1971.4 1078.6L1970.8 1080.8L1970.5 1083.1L1970.7 1085.4L1971.2 1087.6L1972.0 1089.7L1973.3 1091.6L1974.8 1093.2L1976.6 1094.5L1978.5 1095.5L1980.7 1096.1L1982.9 1096.3L1985.1 1096.1L1987.3 1095.5L1989.4 1094.5L1991.3 1093.2L1993.0 1091.6L1994.4 1089.7L1995.4 1087.6L1996.1 1085.4Z" fill="#e0e6b4" fill-opacity="0.5"/>
<path d="M1957.5 865.2L1956.9 862.4L1955.9 859.8L1954.4 857.3L1952.6 855.0L1950.4 853.1L1948.1 851.5L1945.5 850.3L1942.9 849.6L1940.3 849.4L1937.7 849.6L1935.2 850.3L1932.9 851.5L1930.9 853.1L1929.1 855.0L1927.7 857.3L1926.7 859.8L1926.2 862.4L1926.1 865.2L1926.4 867.9L1927.3 870.5L1928.6 873.0L1930.3 875.3L1932.4 877.2L1934.8 878.8L1937.4 880.0L1940.2 880.7L1943.0 880.9L1945.8 880.7L1948.5 880.0L1951.0 878.8L1953.1 877.2L1954.9 875.3L1956.3 873.0L1957.2 870.5L1957.6 867.9Z" fill="#b4cca6" fill-opacity="0.85"/>
<path d="M1935.4 870.4L1935.2 868.6L1934.8 866.8L1934.1 865.2L1933.4 863.7L1932.5 862.4L1931.4 861.3L1930.3 860.5L1929.2 860.1L1928.0 859.9L1926.9 860.1L1925.8 860.5L1924.8 861.3L1923.9 862.4L1923.1 863.7L1922.5 865.2L1922.0 866.8L1921.8 868.6L1921.8 870.4L1921.9 872.2L1922.3 874.0L1922.9 875.7L1923.6 877.2L1924.5 878.5L1925.5 879.5L1926.7 880.3L1927.9 880.8L1929.1 880.9L1930.3 880.8L1931.4 880.3L1932.5 879.5L1933.4 878.5L1934.2 877.2L1934.8 875.7L1935.2 874.0L1935.4 872.2Z" fill="#d5dccb" fill-opacity="0.8"/>
<path d="M1975.4 899.3L1974.7 897.5L1973.0 895.7L1970.4 894.0L1966.9 892.5L1962.7 891.2L1957.9 890.2L1952.6 889.4L1947.0 888.9L1941.2 888.8L1935.5 888.9L1930.0 889.4L1924.8 890.2L1920.1 891.2L1916.0 892.5L1912.7 894.0L1910.2 895.7L1908.8 897.5L1908.2 899.3L1908.8 901.1L1910.3 902.9L1912.8 904.5L1916.2 906.0L1920.4 907.3L1925.3 908.4L1930.7 909.2L1936.5 909.6L1942.4 909.8L1948.3 909.6L1954.0 909.2L1959.3 908.4L1964.1 907.3L1968.2 906.0L1971.4 904.5L1973.8 902.9L1975.1 901.1Z" fill="#d3dfb4" fill-opacity="0.7"/>
<path d="M1939.9 908.5L1939.7 907.9L1939.3 907.4L1938.5 906.9L1937.5 906.5L1936.3 906.1L1934.9 905.8L1933.4 905.5L1931.7 905.4L1930.1 905.3L1928.4 905.4L1926.8 905.5L1925.2 905.8L1923.9 906.1L1922.7 906.5L1921.7 906.9L1921.0 907.4L1920.6 907.9L1920.4 908.5L1920.6 909.0L1921.0 909.6L1921.8 910.1L1922.8 910.5L1924.0 910.9L1925.4 911.2L1926.9 911.4L1928.6 911.6L1930.3 911.6L1932.0 911.6L1933.6 911.4L1935.1 911.2L1936.5 910.9L1937.7 910.5L1938.7 910.1L1939.4 909.6L1939.8 909.0Z" fill="#cdd4c4" fill-opacity="0.9"/>
<path d="M1905.8 925.6L1905.7 924.2L1905.3 922.9L1904.5 921.6L1903.5 920.5L1902.3 919.5L1900.9 918.7L1899.4 918.2L1897.7 917.8L1896.0 917.7L1894.3 917.8L1892.6 918.2L1891.1 918.7L1889.6 919.5L1888.4 920.5L1887.4 921.6L1886.6 922.9L1886.2 924.2L1886.0 925.6L1886.1 926.9L1886.5 928.3L1887.2 929.5L1888.2 930.6L1889.4 931.6L1890.8 932.4L1892.4 933.0L1894.1 933.3L1895.8 933.4L1897.6 933.3L1899.3 933.0L1900.8 932.4L1902.3 931.6L1903.5 930.6L1904.5 929.5L1905.2 928.3L1905.7 926.9Z" fill="#e9e9bb" fill-opacity="0.6"/>
<path d="M2084.2 873.0L2082.1 870.3L2078.2 867.6L2072.6 865.2L2065.4 862.9L2057.0 861.0L2047.5 859.4L2037.3 858.2L2026.7 857.5L2015.9 857.3L2005.2 857.5L1995.0 858.2L1985.5 859.4L1977.0 861.0L1969.6 862.9L1963.7 865.2L1959.4 867.6L1956.8 870.3L1956.2 873.0L1957.4 875.8L1960.6 878.4L1965.7 880.9L1972.5 883.2L1980.8 885.1L1990.4 886.7L2001.0 887.8L2012.2 888.6L2023.8 888.8L2035.2 888.6L2046.1 887.8L2056.2 886.7L2065.1 885.1L2072.6 883.2L2078.4 880.9L2082.3 878.4L2084.3 875.8Z" fill="#b4cca6" fill-opacity="1"/>
<path d="M2203.1 873.0L2199.8 869.8L2194.1 866.7L2186.3 863.8L2176.7 861.2L2165.6 859.0L2153.3 857.1L2140.3 855.8L2126.8 854.9L2113.4 854.7L2100.3 854.9L2087.8 855.8L2076.3 857.1L2066.1 859.0L2057.5 861.2L2050.6 863.8L2045.9 866.7L2043.3 869.8L2043.0 873.0L2045.2 876.2L2049.7 879.3L2056.6 882.2L2065.5 884.8L2076.3 887.1L2088.6 889.0L2102.2 890.3L2116.4 891.1L2130.9 891.4L2145.2 891.1L2158.8 890.3L2171.2 889.0L2182.1 887.1L2191.0 884.8L2197.8 882.2L2202.1 879.3L2203.9 876.2Z" fill="#b4cca6" fill-opacity="1"/>
<path d="M2248.0 878.3L2245.1 875.1L2241.0 872.0L2235.8 869.1L2229.8 866.5L2223.0 864.2L2215.8 862.4L2208.5 861.0L2201.1 860.2L2193.9 859.9L2187.2 860.2L2181.1 861.0L2175.7 862.4L2171.2 864.2L2167.6 866.5L2165.2 869.1L2163.8 872.0L2163.7 875.1L2164.8 878.3L2167.0 881.5L2170.5 884.6L2175.0 887.5L2180.5 890.1L2186.8 892.4L2193.8 894.2L2201.2 895.6L2208.9 896.4L2216.5 896.7L2223.8 896.4L2230.6 895.6L2236.6 894.2L2241.7 892.4L2245.7 890.1L2248.3 887.5L2249.6 884.6L2249.5 881.5Z" fill="#c3d6ae" fill-opacity="0.9"/>
<path d="M2228.7 907.2L2227.4 904.9L2225.7 902.7L2223.7 900.6L2221.3 898.7L2218.7 897.1L2216.0 895.8L2213.3 894.8L2210.6 894.2L2208.0 894.0L2205.6 894.2L2203.5 894.8L2201.7 895.8L2200.3 897.1L2199.3 898.7L2198.7 900.6L2198.5 902.7L2198.8 904.9L2199.5 907.2L2200.7 909.5L2202.2 911.7L2204.1 913.7L2206.3 915.6L2208.7 917.2L2211.3 918.5L2214.0 919.5L2216.7 920.1L2219.4 920.3L2221.9 920.1L2224.1 919.5L2226.1 918.5L2227.7 917.2L2228.9 915.6L2229.6 913.7L2229.8 911.7L2229.5 909.5Z" fill="#c3d6ae" fill-opacity="0.8"/>
<path d="M2016.2 886.2L2015.4 884.3L2013.7 882.6L2011.3 880.9L2008.2 879.4L2004.6 878.1L2000.4 877.1L1995.9 876.3L1991.1 875.8L1986.3 875.7L1981.6 875.8L1977.0 876.3L1972.7 877.1L1968.9 878.1L1965.6 879.4L1963.0 880.9L1961.2 882.6L1960.1 884.3L1959.8 886.2L1960.4 888.0L1961.9 889.8L1964.1 891.4L1967.1 892.9L1970.8 894.2L1975.0 895.3L1979.6 896.0L1984.5 896.5L1989.5 896.7L1994.4 896.5L1999.2 896.0L2003.6 895.3L2007.5 894.2L2010.8 892.9L2013.4 891.4L2015.2 889.8L2016.1 888.0Z" fill="#c9dab0" fill-opacity="0.7"/>
<path d="M2263.8 842.8L2259.3 841.0L2250.5 839.2L2237.7 837.6L2221.4 836.1L2202.2 834.8L2180.6 833.7L2157.3 833.0L2132.9 832.5L2108.2 832.3L2083.7 832.5L2060.1 833.0L2038.1 833.7L2018.3 834.8L2001.1 836.1L1987.2 837.6L1977.0 839.2L1970.8 841.0L1969.0 842.8L1971.7 844.7L1978.8 846.4L1990.2 848.1L2005.7 849.6L2024.7 850.9L2046.7 851.9L2071.1 852.7L2097.0 853.2L2123.5 853.3L2149.8 853.2L2175.1 852.7L2198.5 851.9L2219.2 850.9L2236.5 849.6L2250.0 848.1L2259.1 846.4L2263.8 844.7Z" fill="#dfdfd3" fill-opacity="1"/>
<path d="M2299.1 854.7L2296.0 852.6L2291.2 850.6L2285.1 848.7L2277.7 847.1L2269.4 845.6L2260.4 844.4L2251.1 843.5L2241.6 843.0L2232.2 842.8L2223.3 843.0L2215.0 843.5L2207.5 844.4L2201.1 845.6L2195.9 847.1L2192.1 848.7L2189.8 850.6L2189.0 852.6L2189.9 854.7L2192.3 856.7L2196.4 858.7L2201.9 860.6L2208.7 862.2L2216.7 863.7L2225.6 864.9L2235.2 865.8L2245.1 866.3L2255.0 866.5L2264.6 866.3L2273.6 865.8L2281.7 864.9L2288.6 863.7L2294.1 862.2L2298.0 860.6L2300.1 858.7L2300.5 856.7Z" fill="#dfdfd3" fill-opacity="1"/>
<path d="M2090.1 852.0L2088.9 850.7L2086.7 849.3L2083.6 848.1L2079.8 847.0L2075.3 846.0L2070.3 845.2L2065.0 844.6L2059.5 844.3L2053.9 844.1L2048.5 844.3L2043.3 844.6L2038.5 845.2L2034.3 846.0L2030.7 847.0L2028.0 848.1L2026.1 849.3L2025.1 850.7L2025.1 852.0L2026.1 853.4L2028.0 854.7L2030.9 856.0L2034.5 857.1L2039.0 858.1L2044.0 858.8L2049.4 859.4L2055.2 859.8L2061.0 859.9L2066.7 859.8L2072.1 859.4L2077.1 858.8L2081.5 858.1L2085.1 857.1L2087.8 856.0L2089.6 854.7L2090.4 853.4Z" fill="#dfdfd3" fill-opacity="0.9"/>
<path d="M2049.7 836.3L2048.4 834.4L2046.4 832.7L2044.0 831.0L2041.1 829.5L2037.8 828.2L2034.3 827.2L2030.8 826.4L2027.2 825.9L2023.7 825.8L2020.3 825.9L2017.3 826.4L2014.6 827.2L2012.3 828.2L2010.4 829.5L2009.1 831.0L2008.4 832.7L2008.2 834.4L2008.6 836.3L2009.7 838.1L2011.3 839.9L2013.5 841.5L2016.1 843.0L2019.2 844.3L2022.7 845.4L2026.3 846.1L2030.1 846.6L2033.9 846.8L2037.5 846.6L2040.9 846.1L2043.9 845.4L2046.4 844.3L2048.4 843.0L2049.8 841.5L2050.4 839.9L2050.4 838.1Z" fill="#ebebea" fill-opacity="1"/>
<path d="M2253.8 867.8L2251.9 866.0L2249.0 864.2L2245.2 862.5L2240.8 861.0L2235.9 859.7L2230.6 858.7L2225.0 857.9L2219.4 857.4L2213.9 857.3L2208.7 857.4L2203.9 857.9L2199.6 858.7L2196.0 859.7L2193.2 861.0L2191.1 862.5L2190.0 864.2L2189.8 866.0L2190.6 867.8L2192.2 869.6L2194.8 871.4L2198.2 873.0L2202.4 874.5L2207.2 875.8L2212.4 876.9L2218.0 877.7L2223.8 878.1L2229.5 878.3L2235.0 878.1L2240.1 877.7L2244.7 876.9L2248.6 875.8L2251.6 874.5L2253.7 873.0L2254.8 871.4L2254.8 869.6Z" fill="#d5dcc8" fill-opacity="0.7"/>
<path d="M2092.0 904.5L2091.2 903.2L2089.6 901.9L2087.1 900.6L2083.9 899.5L2080.1 898.5L2075.8 897.7L2071.1 897.1L2066.2 896.8L2061.2 896.7L2056.2 896.8L2051.5 897.1L2047.1 897.7L2043.1 898.5L2039.8 899.5L2037.1 900.6L2035.2 901.9L2034.2 903.2L2034.0 904.5L2034.7 905.9L2036.3 907.2L2038.6 908.5L2041.8 909.6L2045.5 910.6L2049.9 911.4L2054.6 911.9L2059.6 912.3L2064.7 912.4L2069.8 912.3L2074.7 911.9L2079.2 911.4L2083.2 910.6L2086.5 909.6L2089.2 908.5L2091.0 907.2L2092.0 905.9Z" fill="#e8eab2" fill-opacity="0.8"/>
<path d="M2081.7 922.9L2080.9 921.1L2079.6 919.3L2077.6 917.7L2075.1 916.2L2072.1 914.9L2068.7 913.8L2065.1 913.1L2061.3 912.6L2057.4 912.4L2053.6 912.6L2050.0 913.1L2046.7 913.8L2043.7 914.9L2041.2 916.2L2039.2 917.7L2037.9 919.3L2037.1 921.1L2037.1 922.9L2037.7 924.8L2039.0 926.5L2040.9 928.2L2043.3 929.7L2046.3 931.0L2049.6 932.0L2053.3 932.8L2057.2 933.3L2061.1 933.4L2065.0 933.3L2068.7 932.8L2072.1 932.0L2075.2 931.0L2077.7 929.7L2079.7 928.2L2081.0 926.5L2081.7 924.8Z" fill="#efe6cf" fill-opacity="1"/>
<path d="M2072.7 943.9L2072.1 941.7L2070.9 939.4L2069.1 937.4L2066.8 935.5L2064.0 933.9L2061.0 932.6L2057.7 931.6L2054.2 931.0L2050.7 930.8L2047.3 931.0L2044.0 931.6L2041.0 932.6L2038.3 933.9L2036.0 935.5L2034.2 937.4L2033.0 939.4L2032.3 941.7L2032.3 943.9L2032.8 946.2L2034.0 948.4L2035.7 950.5L2037.9 952.4L2040.6 954.0L2043.6 955.3L2047.0 956.3L2050.5 956.9L2054.0 957.1L2057.6 956.9L2060.9 956.3L2064.1 955.3L2066.8 954.0L2069.1 952.4L2070.9 950.5L2072.2 948.4L2072.8 946.2Z" fill="#efdcc8" fill-opacity="1"/>
<path d="M2086.9 954.4L2086.5 953.1L2085.8 951.7L2084.7 950.5L2083.2 949.4L2081.5 948.4L2079.6 947.6L2077.5 947.0L2075.3 946.7L2073.1 946.6L2070.9 946.7L2068.9 947.0L2066.9 947.6L2065.2 948.4L2063.8 949.4L2062.6 950.5L2061.9 951.7L2061.4 953.1L2061.4 954.4L2061.8 955.8L2062.5 957.1L2063.6 958.4L2065.0 959.5L2066.6 960.5L2068.6 961.3L2070.6 961.8L2072.8 962.2L2075.1 962.3L2077.3 962.2L2079.4 961.8L2081.4 961.3L2083.1 960.5L2084.6 959.5L2085.7 958.4L2086.5 957.1L2086.9 955.8Z" fill="#efdcc8" fill-opacity="0.9"/>
<path d="M2047.3 967.6L2046.7 963.9L2045.3 960.4L2043.3 957.1L2040.7 954.1L2037.6 951.5L2034.1 949.4L2030.4 947.8L2026.4 946.9L2022.4 946.6L2018.5 946.9L2014.7 947.8L2011.3 949.4L2008.2 951.5L2005.5 954.1L2003.5 957.1L2002.0 960.4L2001.2 963.9L2001.0 967.6L2001.6 971.2L2002.8 974.8L2004.7 978.1L2007.2 981.1L2010.2 983.7L2013.6 985.8L2017.4 987.3L2021.3 988.3L2025.4 988.6L2029.5 988.3L2033.3 987.3L2037.0 985.8L2040.2 983.7L2042.9 981.1L2045.0 978.1L2046.5 974.8L2047.3 971.2Z" fill="#f2e5d3" fill-opacity="1"/>
<path d="M2022.2 943.9L2021.8 942.6L2021.1 941.2L2020.1 940.0L2018.7 938.9L2017.0 937.9L2015.2 937.1L2013.1 936.5L2011.0 936.2L2008.8 936.1L2006.6 936.2L2004.5 936.5L2002.6 937.1L2000.9 937.9L1999.4 938.9L1998.3 940.0L1997.4 941.2L1997.0 942.6L1996.9 943.9L1997.2 945.3L1997.9 946.6L1998.9 947.9L2000.2 949.0L2001.9 950.0L2003.8 950.8L2005.8 951.3L2008.0 951.7L2010.2 951.8L2012.4 951.7L2014.5 951.3L2016.5 950.8L2018.2 950.0L2019.7 949.0L2020.9 947.9L2021.7 946.6L2022.1 945.3Z" fill="#f2e5d3" fill-opacity="0.9"/>
<path d="M2008.0 928.2L2007.6 927.3L2006.7 926.4L2005.3 925.6L2003.5 924.8L2001.3 924.2L1998.8 923.6L1996.0 923.2L1993.1 923.0L1990.0 922.9L1987.0 923.0L1984.1 923.2L1981.4 923.6L1979.0 924.2L1976.9 924.8L1975.2 925.6L1974.0 926.4L1973.3 927.3L1973.1 928.2L1973.4 929.1L1974.3 930.0L1975.6 930.8L1977.4 931.6L1979.6 932.2L1982.2 932.7L1985.0 933.1L1987.9 933.4L1991.0 933.4L1994.0 933.4L1997.0 933.1L1999.7 932.7L2002.1 932.2L2004.2 931.6L2005.9 930.8L2007.1 930.0L2007.8 929.1Z" fill="#e3e2c4" fill-opacity="0.8"/>
<path d="M2030.0 925.6L2029.7 924.6L2029.0 923.8L2028.0 922.9L2026.7 922.2L2025.0 921.5L2023.2 921.0L2021.2 920.6L2019.1 920.4L2016.9 920.3L2014.8 920.4L2012.8 920.6L2010.9 921.0L2009.2 921.5L2007.7 922.2L2006.6 922.9L2005.7 923.8L2005.3 924.6L2005.2 925.6L2005.5 926.5L2006.1 927.4L2007.1 928.2L2008.5 928.9L2010.1 929.6L2011.9 930.1L2013.9 930.5L2016.1 930.7L2018.2 930.8L2020.4 930.7L2022.5 930.5L2024.4 930.1L2026.1 929.6L2027.6 928.9L2028.7 928.2L2029.5 927.4L2030.0 926.5Z" fill="#d8dcc4" fill-opacity="0.8"/>
<path d="M2163.5 942.6L2162.5 940.6L2160.6 938.6L2157.7 936.7L2154.1 935.0L2149.7 933.6L2144.7 932.4L2139.4 931.5L2133.8 931.0L2128.1 930.8L2122.5 931.0L2117.2 931.5L2112.2 932.4L2107.8 933.6L2104.1 935.0L2101.2 936.7L2099.1 938.6L2098.0 940.6L2097.8 942.6L2098.7 944.7L2100.5 946.7L2103.2 948.5L2106.8 950.2L2111.1 951.7L2116.0 952.9L2121.4 953.7L2127.0 954.3L2132.8 954.4L2138.5 954.3L2144.0 953.7L2149.1 952.9L2153.6 951.7L2157.4 950.2L2160.4 948.5L2162.4 946.7L2163.4 944.7Z" fill="#d6d7d2" fill-opacity="1"/>
<path d="M2106.7 936.1L2106.2 934.7L2105.4 933.4L2104.2 932.1L2102.8 931.0L2101.0 930.0L2099.1 929.2L2097.0 928.7L2094.8 928.3L2092.6 928.2L2090.5 928.3L2088.5 928.7L2086.6 929.2L2085.0 930.0L2083.6 931.0L2082.6 932.1L2081.9 933.4L2081.6 934.7L2081.6 936.1L2082.0 937.4L2082.8 938.8L2083.9 940.0L2085.4 941.1L2087.1 942.1L2089.0 942.9L2091.1 943.5L2093.3 943.8L2095.5 943.9L2097.7 943.8L2099.8 943.5L2101.6 942.9L2103.3 942.1L2104.7 941.1L2105.8 940.0L2106.5 938.8L2106.8 937.4Z" fill="#ccd0d3" fill-opacity="0.9"/>
<path d="M2165.4 951.8L2164.9 950.0L2164.1 948.2L2163.0 946.6L2161.7 945.1L2160.1 943.8L2158.5 942.7L2156.7 941.9L2154.9 941.5L2153.1 941.3L2151.4 941.5L2149.8 941.9L2148.4 942.7L2147.1 943.8L2146.2 945.1L2145.4 946.6L2145.0 948.2L2144.9 950.0L2145.1 951.8L2145.6 953.6L2146.3 955.4L2147.4 957.1L2148.7 958.6L2150.1 959.9L2151.8 960.9L2153.5 961.7L2155.3 962.2L2157.1 962.3L2158.9 962.2L2160.5 961.7L2162.0 960.9L2163.3 959.9L2164.3 958.6L2165.1 957.1L2165.5 955.4L2165.7 953.6Z" fill="#ccd3c2" fill-opacity="0.8"/>
<path d="M2132.5 928.2L2131.9 927.0L2130.7 925.9L2129.0 924.9L2126.8 924.0L2124.2 923.2L2121.2 922.5L2117.9 922.0L2114.5 921.7L2111.1 921.6L2107.6 921.7L2104.4 922.0L2101.4 922.5L2098.7 923.2L2096.4 924.0L2094.6 924.9L2093.4 925.9L2092.7 927.0L2092.6 928.2L2093.2 929.3L2094.3 930.4L2096.0 931.5L2098.2 932.4L2100.8 933.2L2103.8 933.9L2107.0 934.4L2110.5 934.6L2114.0 934.7L2117.4 934.6L2120.7 934.4L2123.8 933.9L2126.5 933.2L2128.8 932.4L2130.6 931.5L2131.8 930.4L2132.5 929.3Z" fill="#f2e5d3" fill-opacity="1"/>
<path d="M2184.8 920.3L2183.8 918.5L2182.1 916.7L2179.7 915.1L2176.8 913.6L2173.3 912.3L2169.4 911.2L2165.3 910.4L2161.0 910.0L2156.8 909.8L2152.6 910.0L2148.6 910.4L2145.0 911.2L2141.9 912.3L2139.2 913.6L2137.2 915.1L2135.9 916.7L2135.3 918.5L2135.4 920.3L2136.3 922.1L2137.9 923.9L2140.1 925.6L2143.0 927.1L2146.4 928.4L2150.2 929.4L2154.4 930.2L2158.7 930.6L2163.1 930.8L2167.4 930.6L2171.5 930.2L2175.2 929.4L2178.4 928.4L2181.1 927.1L2183.2 925.6L2184.5 923.9L2185.0 922.1Z" fill="#efe2cc" fill-opacity="1"/>
<path d="M2172.8 907.2L2172.0 905.8L2170.4 904.5L2168.1 903.2L2165.3 902.1L2161.9 901.1L2158.2 900.3L2154.2 899.8L2150.0 899.4L2145.8 899.3L2141.7 899.4L2137.7 899.8L2134.1 900.3L2131.0 901.1L2128.3 902.1L2126.3 903.2L2124.9 904.5L2124.2 905.8L2124.3 907.2L2125.1 908.5L2126.6 909.9L2128.7 911.1L2131.5 912.2L2134.8 913.2L2138.6 914.0L2142.6 914.6L2146.8 914.9L2151.1 915.1L2155.3 914.9L2159.4 914.6L2163.0 914.0L2166.3 913.2L2169.0 912.2L2171.0 911.1L2172.4 909.9L2173.0 908.5Z" fill="#e3e6bc" fill-opacity="0.8"/>
<path d="M2195.3 915.1L2194.5 913.7L2193.4 912.4L2191.8 911.1L2189.9 910.0L2187.8 909.0L2185.4 908.2L2182.9 907.6L2180.3 907.3L2177.7 907.2L2175.2 907.3L2172.9 907.6L2170.8 908.2L2169.0 909.0L2167.5 910.0L2166.5 911.1L2165.8 912.4L2165.6 913.7L2165.8 915.1L2166.5 916.4L2167.6 917.7L2169.1 919.0L2170.9 920.1L2173.1 921.1L2175.4 921.9L2178.0 922.5L2180.6 922.8L2183.2 922.9L2185.7 922.8L2188.1 922.5L2190.3 921.9L2192.1 921.1L2193.6 920.1L2194.7 919.0L2195.4 917.7L2195.6 916.4Z" fill="#ece3c4" fill-opacity="0.8"/>
<path d="M2208.4 962.3L2207.7 960.5L2206.5 958.7L2204.6 957.1L2202.2 955.6L2199.4 954.3L2196.3 953.2L2192.9 952.5L2189.4 952.0L2185.8 951.8L2182.3 952.0L2179.0 952.5L2175.9 953.2L2173.2 954.3L2171.0 955.6L2169.2 957.1L2168.0 958.7L2167.4 960.5L2167.4 962.3L2168.0 964.1L2169.2 965.9L2171.0 967.6L2173.3 969.1L2176.0 970.4L2179.1 971.4L2182.5 972.2L2186.1 972.7L2189.7 972.8L2193.2 972.7L2196.6 972.2L2199.8 971.4L2202.5 970.4L2204.9 969.1L2206.7 967.6L2207.9 965.9L2208.5 964.1Z" fill="#cfe0b0" fill-opacity="0.7"/>
<path d="M2095.3 959.7L2095.0 958.3L2094.4 957.0L2093.7 955.8L2092.8 954.6L2091.7 953.7L2090.5 952.9L2089.2 952.3L2087.9 951.9L2086.6 951.8L2085.2 951.9L2084.0 952.3L2082.9 952.9L2081.9 953.7L2081.1 954.6L2080.5 955.8L2080.0 957.0L2079.9 958.3L2079.9 959.7L2080.2 961.1L2080.7 962.4L2081.4 963.6L2082.3 964.8L2083.3 965.7L2084.5 966.5L2085.8 967.1L2087.1 967.5L2088.5 967.6L2089.8 967.5L2091.1 967.1L2092.2 966.5L2093.3 965.7L2094.1 964.8L2094.7 963.6L2095.1 962.4L2095.3 961.1Z" fill="#efdcc8" fill-opacity="0.8"/>
<path d="M2178.2 983.3L2177.6 980.1L2176.6 977.0L2175.2 974.1L2173.6 971.5L2171.6 969.2L2169.5 967.4L2167.3 966.1L2165.0 965.2L2162.7 964.9L2160.5 965.2L2158.5 966.1L2156.7 967.4L2155.1 969.2L2153.8 971.5L2152.9 974.1L2152.3 977.0L2152.1 980.1L2152.2 983.3L2152.8 986.5L2153.6 989.6L2154.9 992.5L2156.4 995.1L2158.2 997.4L2160.2 999.2L2162.3 1000.6L2164.6 1001.4L2166.9 1001.7L2169.1 1001.4L2171.3 1000.6L2173.2 999.2L2174.9 997.4L2176.3 995.1L2177.4 992.5L2178.1 989.6L2178.3 986.5Z" fill="#c3d6ae" fill-opacity="0.9"/>
<path d="M2189.7 993.8L2189.4 992.0L2188.7 990.2L2187.8 988.6L2186.6 987.1L2185.1 985.8L2183.5 984.7L2181.8 984.0L2180.0 983.5L2178.2 983.3L2176.4 983.5L2174.7 984.0L2173.1 984.7L2171.8 985.8L2170.6 987.1L2169.8 988.6L2169.2 990.2L2168.9 992.0L2168.9 993.8L2169.2 995.7L2169.8 997.4L2170.7 999.1L2171.8 1000.6L2173.2 1001.9L2174.8 1002.9L2176.5 1003.7L2178.3 1004.2L2180.1 1004.3L2181.9 1004.2L2183.6 1003.7L2185.2 1002.9L2186.6 1001.9L2187.8 1000.6L2188.8 999.1L2189.4 997.4L2189.7 995.7Z" fill="#c3d6ae" fill-opacity="0.7"/>
<path d="M2161.3 972.8L2160.9 970.5L2160.2 968.3L2159.3 966.3L2158.2 964.4L2157.0 962.8L2155.7 961.5L2154.3 960.5L2152.9 959.9L2151.6 959.7L2150.3 959.9L2149.1 960.5L2148.0 961.5L2147.1 962.8L2146.4 964.4L2145.9 966.3L2145.7 968.3L2145.6 970.5L2145.8 972.8L2146.2 975.1L2146.8 977.3L2147.7 979.4L2148.6 981.3L2149.8 982.9L2151.0 984.2L2152.4 985.2L2153.7 985.8L2155.1 986.0L2156.4 985.8L2157.7 985.2L2158.8 984.2L2159.8 982.9L2160.6 981.3L2161.1 979.4L2161.4 977.3L2161.5 975.1Z" fill="#c3d6ae" fill-opacity="0.9"/>
<path d="M2149.4 962.3L2149.2 961.4L2148.7 960.5L2148.0 959.7L2147.1 958.9L2146.0 958.3L2144.9 957.8L2143.6 957.4L2142.3 957.1L2140.9 957.1L2139.6 957.1L2138.3 957.4L2137.2 957.8L2136.2 958.3L2135.3 958.9L2134.7 959.7L2134.3 960.5L2134.0 961.4L2134.1 962.3L2134.3 963.2L2134.8 964.1L2135.5 964.9L2136.4 965.7L2137.4 966.3L2138.6 966.9L2139.8 967.3L2141.2 967.5L2142.5 967.6L2143.9 967.5L2145.1 967.3L2146.3 966.9L2147.3 966.3L2148.2 965.7L2148.8 964.9L2149.3 964.1L2149.5 963.2Z" fill="#c3d6ae" fill-opacity="0.7"/>
<path d="M2183.6 1030.6L2183.4 1028.3L2182.9 1026.1L2182.1 1024.0L2181.0 1022.2L2179.7 1020.5L2178.2 1019.2L2176.5 1018.3L2174.7 1017.7L2172.9 1017.5L2171.1 1017.7L2169.3 1018.3L2167.7 1019.2L2166.2 1020.5L2165.0 1022.2L2164.0 1024.0L2163.2 1026.1L2162.8 1028.3L2162.6 1030.6L2162.8 1032.9L2163.2 1035.1L2164.0 1037.2L2165.0 1039.0L2166.2 1040.7L2167.7 1042.0L2169.3 1042.9L2171.1 1043.5L2172.9 1043.7L2174.7 1043.5L2176.5 1042.9L2178.2 1042.0L2179.7 1040.7L2181.0 1039.0L2182.1 1037.2L2182.9 1035.1L2183.4 1032.9Z" fill="#b4cca6" fill-opacity="1"/>
<path d="M2217.6 1030.6L2217.4 1028.8L2216.8 1027.0L2215.8 1025.3L2214.5 1023.8L2212.9 1022.6L2211.0 1021.5L2208.9 1020.7L2206.7 1020.3L2204.4 1020.1L2202.1 1020.3L2199.9 1020.7L2197.9 1021.5L2196.0 1022.6L2194.4 1023.8L2193.1 1025.3L2192.2 1027.0L2191.6 1028.8L2191.4 1030.6L2191.6 1032.4L2192.2 1034.2L2193.1 1035.9L2194.4 1037.4L2196.0 1038.6L2197.9 1039.7L2199.9 1040.5L2202.1 1040.9L2204.4 1041.1L2206.7 1040.9L2208.9 1040.5L2211.0 1039.7L2212.9 1038.6L2214.5 1037.4L2215.8 1035.9L2216.8 1034.2L2217.4 1032.4Z" fill="#b4cca6" fill-opacity="1"/>
<path d="M2295.9 1043.7L2295.6 1042.4L2294.6 1041.0L2292.9 1039.8L2290.6 1038.7L2287.7 1037.7L2284.4 1036.9L2280.7 1036.3L2276.7 1036.0L2272.6 1035.9L2268.5 1036.0L2264.5 1036.3L2260.8 1036.9L2257.4 1037.7L2254.5 1038.7L2252.1 1039.8L2250.3 1041.0L2249.2 1042.4L2248.8 1043.7L2249.1 1045.1L2250.1 1046.4L2251.8 1047.7L2254.1 1048.8L2256.9 1049.8L2260.2 1050.6L2263.9 1051.1L2267.8 1051.5L2271.9 1051.6L2276.0 1051.5L2280.0 1051.1L2283.8 1050.6L2287.2 1049.8L2290.1 1048.8L2292.6 1047.7L2294.4 1046.4L2295.5 1045.1Z" fill="#b4cca6" fill-opacity="1"/>
<path d="M2230.7 1035.9L2230.6 1034.0L2230.3 1032.3L2229.7 1030.6L2228.9 1029.1L2227.9 1027.8L2226.8 1026.8L2225.5 1026.0L2224.2 1025.5L2222.8 1025.3L2221.5 1025.5L2220.2 1026.0L2218.9 1026.8L2217.8 1027.8L2216.8 1029.1L2216.1 1030.6L2215.5 1032.3L2215.1 1034.0L2215.0 1035.9L2215.1 1037.7L2215.4 1039.4L2215.9 1041.1L2216.6 1042.6L2217.6 1043.9L2218.7 1044.9L2219.9 1045.7L2221.2 1046.2L2222.5 1046.4L2223.9 1046.2L2225.2 1045.7L2226.5 1044.9L2227.7 1043.9L2228.7 1042.6L2229.5 1041.1L2230.1 1039.4L2230.5 1037.7Z" fill="#c3d6ae" fill-opacity="0.9"/>
<path d="M2231.9 999.1L2231.5 995.9L2230.8 992.8L2229.9 989.9L2228.8 987.3L2227.5 985.0L2226.1 983.2L2224.7 981.8L2223.3 981.0L2221.9 980.7L2220.6 981.0L2219.4 981.8L2218.3 983.2L2217.5 985.0L2216.8 987.3L2216.3 989.9L2216.1 992.8L2216.1 995.9L2216.2 999.1L2216.6 1002.3L2217.2 1005.4L2218.0 1008.3L2218.9 1010.9L2220.0 1013.2L2221.2 1015.0L2222.5 1016.4L2223.9 1017.2L2225.2 1017.5L2226.6 1017.2L2227.9 1016.4L2229.1 1015.0L2230.1 1013.2L2230.9 1010.9L2231.6 1008.3L2231.9 1005.4L2232.1 1002.3Z" fill="#c3d6ae" fill-opacity="0.7"/>
<path d="M2261.4 933.4L2260.6 931.6L2259.5 929.8L2258.2 928.2L2256.6 926.7L2254.9 925.4L2253.1 924.3L2251.2 923.6L2249.3 923.1L2247.6 922.9L2245.9 923.1L2244.4 923.6L2243.1 924.3L2242.1 925.4L2241.4 926.7L2240.9 928.2L2240.8 929.8L2240.9 931.6L2241.4 933.4L2242.2 935.3L2243.2 937.0L2244.5 938.7L2245.9 940.2L2247.6 941.5L2249.3 942.5L2251.2 943.3L2253.0 943.8L2254.8 943.9L2256.5 943.8L2258.1 943.3L2259.4 942.5L2260.6 941.5L2261.4 940.2L2261.9 938.7L2262.1 937.0L2261.9 935.3Z" fill="#c3d6ae" fill-opacity="0.6"/>
<path d="M2231.4 933.4L2230.9 932.1L2230.2 930.7L2229.4 929.5L2228.5 928.4L2227.6 927.4L2226.6 926.6L2225.6 926.0L2224.6 925.7L2223.7 925.6L2222.9 925.7L2222.2 926.0L2221.6 926.6L2221.2 927.4L2220.9 928.4L2220.8 929.5L2220.8 930.7L2221.0 932.1L2221.4 933.4L2221.9 934.8L2222.5 936.1L2223.3 937.4L2224.1 938.5L2225.0 939.5L2226.0 940.3L2226.9 940.8L2227.9 941.2L2228.8 941.3L2229.6 941.2L2230.4 940.8L2231.0 940.3L2231.5 939.5L2231.8 938.5L2232.0 937.4L2232.0 936.1L2231.8 934.8Z" fill="#c3d6ae" fill-opacity="0.5"/>
<path d="M2260.3 1096.3L2260.5 1093.1L2259.7 1090.0L2258.0 1087.1L2255.4 1084.4L2252.0 1082.2L2247.8 1080.3L2243.1 1079.0L2238.0 1078.1L2232.6 1077.9L2227.2 1078.1L2221.8 1079.0L2216.7 1080.3L2212.0 1082.2L2207.9 1084.4L2204.4 1087.1L2201.6 1090.0L2199.7 1093.1L2198.7 1096.3L2198.5 1099.4L2199.3 1102.5L2200.9 1105.4L2203.4 1108.1L2206.7 1110.3L2210.6 1112.2L2215.1 1113.5L2220.0 1114.4L2225.2 1114.6L2230.5 1114.4L2235.9 1113.5L2241.1 1112.2L2245.9 1110.3L2250.3 1108.1L2254.0 1105.4L2257.0 1102.5L2259.1 1099.4Z" fill="#efdcc8" fill-opacity="1"/>
<path d="M2272.5 1098.9L2272.9 1096.1L2272.5 1093.5L2271.5 1091.0L2269.9 1088.8L2267.8 1086.8L2265.1 1085.2L2262.0 1084.1L2258.7 1083.4L2255.1 1083.1L2251.5 1083.4L2247.9 1084.1L2244.4 1085.2L2241.2 1086.8L2238.3 1088.8L2235.8 1091.0L2233.8 1093.5L2232.4 1096.1L2231.5 1098.9L2231.2 1101.6L2231.5 1104.3L2232.4 1106.8L2233.9 1109.0L2235.9 1110.9L2238.4 1112.5L2241.3 1113.7L2244.5 1114.4L2248.0 1114.6L2251.6 1114.4L2255.2 1113.7L2258.7 1112.5L2262.1 1110.9L2265.1 1109.0L2267.8 1106.8L2269.9 1104.3L2271.5 1101.6Z" fill="#efd8bc" fill-opacity="0.9"/>
<path d="M2277.9 1070.0L2277.7 1068.6L2276.7 1067.3L2274.9 1066.1L2272.4 1064.9L2269.3 1064.0L2265.7 1063.2L2261.6 1062.6L2257.3 1062.2L2252.8 1062.1L2248.2 1062.2L2243.8 1062.6L2239.6 1063.2L2235.8 1064.0L2232.5 1064.9L2229.8 1066.1L2227.7 1067.3L2226.4 1068.6L2225.9 1070.0L2226.1 1071.4L2227.1 1072.7L2228.9 1073.9L2231.3 1075.1L2234.4 1076.0L2238.0 1076.8L2242.0 1077.4L2246.3 1077.8L2250.8 1077.9L2255.3 1077.8L2259.7 1077.4L2263.9 1076.8L2267.7 1076.0L2271.1 1075.1L2273.9 1073.9L2275.9 1072.7L2277.3 1071.4Z" fill="#e3e4b4" fill-opacity="0.7"/>
<path d="M2292.7 1109.4L2293.7 1105.7L2294.4 1102.2L2294.9 1098.9L2295.1 1095.9L2295.1 1093.3L2294.9 1091.2L2294.4 1089.6L2293.7 1088.7L2292.9 1088.4L2291.9 1088.7L2290.9 1089.6L2289.7 1091.2L2288.5 1093.3L2287.3 1095.9L2286.0 1098.9L2284.8 1102.2L2283.6 1105.7L2282.5 1109.4L2281.5 1113.0L2280.6 1116.6L2279.9 1119.9L2279.4 1122.9L2279.1 1125.5L2279.0 1127.6L2279.3 1129.1L2279.7 1130.1L2280.5 1130.4L2281.5 1130.1L2282.7 1129.1L2284.1 1127.6L2285.5 1125.5L2287.1 1122.9L2288.7 1119.9L2290.1 1116.6L2291.5 1113.0Z" fill="#d5e0b0" fill-opacity="0.8"/>
<path d="M2340.3 1140.9L2341.3 1138.6L2342.0 1136.4L2342.2 1134.3L2342.1 1132.5L2341.6 1130.8L2340.8 1129.5L2339.6 1128.6L2338.2 1128.0L2336.6 1127.8L2334.7 1128.0L2332.8 1128.6L2330.8 1129.5L2328.8 1130.8L2326.9 1132.5L2325.0 1134.3L2323.3 1136.4L2321.8 1138.6L2320.6 1140.9L2319.6 1143.2L2318.9 1145.4L2318.5 1147.5L2318.5 1149.3L2318.8 1151.0L2319.5 1152.3L2320.5 1153.2L2321.8 1153.8L2323.3 1154.0L2325.1 1153.8L2327.1 1153.2L2329.2 1152.3L2331.4 1151.0L2333.5 1149.3L2335.5 1147.5L2337.4 1145.4L2339.0 1143.2Z" fill="#d5dfb8" fill-opacity="0.7"/>
</g>
<g filter="url(#blur3)"><path d="M2165.2 944.5L2164.3 942.8L2162.5 941.2L2159.9 939.7L2156.4 938.4L2152.3 937.2L2147.5 936.3L2142.4 935.6L2137.1 935.2L2131.6 935.0L2126.2 935.2L2121.0 935.6L2116.2 936.3L2111.9 937.2L2108.2 938.4L2105.3 939.7L2103.3 941.2L2102.1 942.8L2101.9 944.5L2102.7 946.1L2104.4 947.7L2106.9 949.2L2110.3 950.5L2114.4 951.7L2119.1 952.7L2124.3 953.3L2129.7 953.8L2135.3 953.9L2140.8 953.8L2146.1 953.3L2151.0 952.7L2155.3 951.7L2159.0 950.5L2161.9 949.2L2164.0 947.7L2165.0 946.1Z" fill="#cdcfd0" fill-opacity="1"/><path d="M2120.0 940.0L2119.7 939.0L2118.9 938.0L2117.8 937.1L2116.4 936.3L2114.7 935.6L2112.8 935.0L2110.7 934.6L2108.5 934.3L2106.3 934.2L2104.2 934.3L2102.1 934.6L2100.2 935.0L2098.5 935.6L2097.1 936.3L2096.0 937.1L2095.3 938.0L2094.9 939.0L2094.8 940.0L2095.2 941.0L2095.9 942.0L2097.0 942.9L2098.4 943.7L2100.1 944.4L2102.0 945.0L2104.1 945.4L2106.3 945.7L2108.5 945.8L2110.7 945.7L2112.7 945.4L2114.7 945.0L2116.4 944.4L2117.8 943.7L2118.9 942.9L2119.7 942.0L2120.0 941.0Z" fill="#cfd1d1" fill-opacity="1"/><path d="M2098.4 932.1L2098.1 931.3L2097.6 930.5L2096.9 929.8L2096.1 929.1L2095.0 928.5L2093.9 928.0L2092.6 927.7L2091.3 927.5L2090.0 927.4L2088.7 927.5L2087.5 927.7L2086.4 928.0L2085.4 928.5L2084.6 929.1L2084.0 929.8L2083.6 930.5L2083.4 931.3L2083.4 932.1L2083.7 932.9L2084.2 933.7L2084.8 934.5L2085.7 935.2L2086.7 935.7L2087.9 936.2L2089.1 936.6L2090.5 936.8L2091.8 936.8L2093.1 936.8L2094.3 936.6L2095.4 936.2L2096.4 935.7L2097.2 935.2L2097.9 934.5L2098.3 933.7L2098.5 932.9Z" fill="#d3d5d3" fill-opacity="0.9"/><path d="M2159.8 949.2L2159.4 948.1L2158.5 946.9L2157.1 945.9L2155.4 945.0L2153.4 944.2L2151.0 943.5L2148.5 943.0L2145.9 942.7L2143.3 942.6L2140.7 942.7L2138.2 943.0L2135.9 943.5L2133.8 944.2L2132.1 945.0L2130.8 945.9L2129.9 946.9L2129.4 948.1L2129.4 949.2L2129.8 950.3L2130.7 951.4L2132.0 952.5L2133.7 953.4L2135.7 954.2L2138.0 954.9L2140.5 955.4L2143.1 955.7L2145.8 955.8L2148.4 955.7L2151.0 955.4L2153.3 954.9L2155.4 954.2L2157.1 953.4L2158.4 952.5L2159.4 951.4L2159.8 950.3Z" fill="#d2d4d4" fill-opacity="0.9"/></g>
</g>
<g clip-path="url(#iceclip)"><g filter="url(#blur6)">
<path d="M1810.6 859.9L1811.1 857.2L1811.3 854.5L1811.2 852.0L1810.7 849.8L1810.0 847.8L1808.9 846.3L1807.6 845.1L1806.1 844.4L1804.3 844.1L1802.4 844.4L1800.4 845.1L1798.3 846.3L1796.2 847.8L1794.2 849.8L1792.4 852.0L1790.8 854.5L1789.4 857.2L1788.4 859.9L1787.7 862.6L1787.5 865.3L1787.6 867.8L1788.1 870.0L1789.0 872.0L1790.3 873.5L1791.8 874.7L1793.5 875.4L1795.5 875.7L1797.5 875.4L1799.6 874.7L1801.7 873.5L1803.7 872.0L1805.5 870.0L1807.2 867.8L1808.6 865.3L1809.7 862.6Z" fill="#dcdfe7" fill-opacity="1"/>
<path d="M1850.9 825.8L1850.8 824.9L1850.0 824.0L1848.5 823.1L1846.4 822.4L1843.8 821.7L1840.6 821.2L1837.2 820.8L1833.4 820.6L1829.4 820.5L1825.4 820.6L1821.5 820.8L1817.6 821.2L1814.1 821.7L1810.9 822.4L1808.2 823.1L1806.1 824.0L1804.6 824.9L1803.7 825.8L1803.7 826.7L1804.3 827.6L1805.7 828.4L1807.7 829.1L1810.4 829.8L1813.6 830.3L1817.2 830.7L1821.2 830.9L1825.4 831.0L1829.6 830.9L1833.7 830.7L1837.7 830.3L1841.2 829.8L1844.4 829.1L1847.0 828.4L1849.0 827.6L1850.3 826.7Z" fill="#e6e8ee" fill-opacity="1"/>
<path d="M1715.1 1248.6L1710.8 1246.3L1704.2 1244.1L1695.4 1242.0L1684.5 1240.1L1671.8 1238.5L1657.7 1237.2L1642.6 1236.2L1626.9 1235.6L1611.3 1235.4L1596.3 1235.6L1582.4 1236.2L1570.1 1237.2L1560.0 1238.5L1552.4 1240.1L1547.6 1242.0L1545.8 1244.1L1547.2 1246.3L1551.6 1248.6L1558.9 1250.8L1568.9 1253.1L1581.0 1255.1L1594.8 1257.0L1609.8 1258.6L1625.2 1259.9L1640.5 1260.9L1655.0 1261.5L1668.2 1261.7L1679.8 1261.5L1689.9 1260.9L1698.4 1259.9L1705.5 1258.6L1711.1 1257.0L1715.0 1255.1L1717.1 1253.1L1717.2 1250.8Z" fill="#e6eff8" fill-opacity="1"/>
<path d="M2263.0 1240.7L2265.4 1239.3L2266.9 1238.0L2267.5 1236.7L2267.2 1235.6L2266.0 1234.7L2263.9 1233.9L2261.2 1233.3L2257.7 1232.9L2253.8 1232.8L2249.5 1232.9L2244.9 1233.3L2240.2 1233.9L2235.6 1234.7L2231.1 1235.6L2227.0 1236.7L2223.2 1238.0L2219.9 1239.3L2217.2 1240.7L2215.1 1242.1L2213.7 1243.4L2213.0 1244.6L2213.0 1245.8L2213.7 1246.7L2215.2 1247.5L2217.4 1248.1L2220.2 1248.4L2223.7 1248.6L2227.8 1248.4L2232.3 1248.1L2237.1 1247.5L2242.1 1246.7L2247.0 1245.8L2251.7 1244.6L2256.1 1243.4L2259.9 1242.1Z" fill="#e3edf7" fill-opacity="1"/>
<path d="M1839.0 1240.7L1837.6 1238.9L1834.8 1237.1L1830.5 1235.4L1825.1 1233.9L1818.4 1232.6L1810.9 1231.6L1802.6 1230.8L1794.0 1230.3L1785.1 1230.2L1776.5 1230.3L1768.3 1230.8L1760.9 1231.6L1754.5 1232.6L1749.3 1233.9L1745.5 1235.4L1743.3 1237.1L1742.6 1238.9L1743.5 1240.7L1745.9 1242.5L1749.7 1244.3L1754.8 1245.9L1760.9 1247.4L1767.8 1248.7L1775.3 1249.8L1783.2 1250.6L1791.2 1251.0L1799.0 1251.2L1806.6 1251.0L1813.8 1250.6L1820.3 1249.8L1826.1 1248.7L1831.0 1247.4L1834.9 1245.9L1837.6 1244.3L1839.0 1242.5Z" fill="#e8f0f8" fill-opacity="1"/>
<path d="M2211.0 1227.6L2212.4 1224.8L2209.9 1222.2L2203.4 1219.7L2193.1 1217.4L2179.2 1215.5L2162.3 1213.9L2142.9 1212.8L2121.7 1212.0L2099.4 1211.8L2076.9 1212.0L2054.9 1212.8L2034.1 1213.9L2015.2 1215.5L1998.9 1217.4L1985.6 1219.7L1975.7 1222.2L1969.4 1224.8L1966.9 1227.6L1968.0 1230.3L1972.6 1232.9L1980.5 1235.4L1991.3 1237.7L2004.7 1239.6L2020.1 1241.2L2037.3 1242.4L2055.8 1243.1L2075.1 1243.3L2095.0 1243.1L2114.9 1242.4L2134.4 1241.2L2152.9 1239.6L2169.8 1237.7L2184.6 1235.4L2196.7 1232.9L2205.6 1230.3Z" fill="#f4f5fa" fill-opacity="1"/>
</g></g>
<path d="M1975.1 921.6L1974.3 918.2L1976.5 915.1L1979.1 911.1L1981.2 908.5L1987.5 909.8L1985.2 911.1L1987.9 913.7L1992.7 913.0L1995.0 911.9L1991.2 910.6L1992.2 908.5L1996.9 907.2L2000.5 907.2L1995.7 911.6L1997.5 912.4L2001.5 915.1L2006.7 917.7L2008.5 921.6L2004.9 922.9L1997.4 922.4L1992.3 920.3L1988.5 920.3L1982.6 922.4L1977.6 922.4ZM2020.7 912.4L2025.0 908.5L2030.8 907.2L2034.7 908.5L2035.4 912.4L2030.7 913.7L2030.3 919.0L2035.5 920.3L2038.5 924.2L2037.9 928.2L2041.0 932.6L2033.7 934.2L2029.6 932.1L2027.9 928.2L2028.6 924.2L2024.3 920.3L2022.5 916.4Z" fill="#7bafd6"/>
</g>
<path d="M2141.7 1266.9L2191.1 1261.7L2211.2 1256.4L2226.3 1251.2L2238.8 1245.9L2249.7 1240.7L2259.3 1235.4L2268.0 1230.2L2275.9 1224.9L2283.1 1219.7L2289.9 1214.4L2296.1 1209.2L2302.0 1203.9L2307.4 1198.7L2312.6 1193.4L2317.4 1188.2L2322.0 1182.9L2326.2 1177.7L2330.3 1172.4L2334.1 1167.2L2337.7 1161.9L2341.1 1156.7L2344.3 1151.4L2347.3 1146.1L2350.2 1140.9L2352.9 1135.6L2355.4 1130.4L2357.8 1125.1L2360.0 1119.9L2362.0 1114.6L2364.0 1109.4L2365.7 1104.1L2367.4 1098.9L2368.9 1093.6L2370.3 1088.4L2371.6 1083.1L2372.7 1077.9L2373.7 1072.6L2374.6 1067.4L2375.3 1062.1L2376.0 1056.9L2376.5 1051.6L2376.9 1046.4L2377.2 1041.1L2377.4 1035.9L2377.4 1030.6L2377.4 1025.3L2377.2 1020.1L2376.9 1014.8L2376.5 1009.6L2376.0 1004.3L2375.3 999.1L2374.6 993.8L2373.7 988.6L2372.7 983.3L2371.6 978.1L2370.3 972.8L2368.9 967.6L2367.4 962.3L2365.7 957.1L2364.0 951.8L2362.0 946.6L2360.0 941.3L2357.8 936.1L2355.4 930.8L2352.9 925.6L2350.2 920.3L2347.3 915.1L2344.3 909.8L2341.1 904.5L2337.7 899.3L2334.1 894.0L2330.3 888.8L2326.2 883.5L2322.0 878.3L2317.4 873.0L2312.6 867.8L2307.4 862.5L2302.0 857.3L2296.1 852.0L2289.9 846.8L2283.1 841.5L2275.9 836.3L2268.0 831.0L2259.3 825.8L2249.7 820.5L2238.8 815.3L2226.3 810.0L2211.2 804.8L2191.1 799.5L2141.7 794.2L1670.0 794.2L1620.6 799.5L1600.5 804.8L1585.4 810.0L1572.9 815.3L1562.0 820.5L1552.4 825.8L1543.7 831.0L1535.8 836.3L1528.6 841.5L1521.8 846.8L1515.6 852.0L1509.7 857.3L1504.3 862.5L1499.1 867.8L1494.3 873.0L1489.7 878.3L1485.5 883.5L1481.4 888.8L1477.6 894.0L1474.0 899.3L1470.6 904.5L1467.4 909.8L1464.4 915.1L1461.5 920.3L1458.8 925.6L1456.3 930.8L1453.9 936.1L1451.7 941.3L1449.7 946.6L1447.7 951.8L1446.0 957.1L1444.3 962.3L1442.8 967.6L1441.4 972.8L1440.1 978.1L1439.0 983.3L1438.0 988.6L1437.1 993.8L1436.4 999.1L1435.7 1004.3L1435.2 1009.6L1434.8 1014.8L1434.5 1020.1L1434.3 1025.3L1434.2 1030.6L1434.3 1035.9L1434.5 1041.1L1434.8 1046.4L1435.2 1051.6L1435.7 1056.9L1436.4 1062.1L1437.1 1067.4L1438.0 1072.6L1439.0 1077.9L1440.1 1083.1L1441.4 1088.4L1442.8 1093.6L1444.3 1098.9L1446.0 1104.1L1447.7 1109.4L1449.7 1114.6L1451.7 1119.9L1453.9 1125.1L1456.3 1130.4L1458.8 1135.6L1461.5 1140.9L1464.4 1146.1L1467.4 1151.4L1470.6 1156.7L1474.0 1161.9L1477.6 1167.2L1481.4 1172.4L1485.5 1177.7L1489.7 1182.9L1494.3 1188.2L1499.1 1193.4L1504.3 1198.7L1509.7 1203.9L1515.6 1209.2L1521.8 1214.4L1528.6 1219.7L1535.8 1224.9L1543.7 1230.2L1552.4 1235.4L1562.0 1240.7L1572.9 1245.9L1585.4 1251.2L1600.5 1256.4L1620.6 1261.7L1670.0 1266.9Z" fill="none" stroke="#000" stroke-width="2.5" stroke-linejoin="round"/>
<rect x="1745.3" y="1308.1" width="548.2" height="26.5" fill="url(#cm2)"/>
<text x="1769.8" y="1371.2" font-size="23.44" textLength="42.4" lengthAdjust="spacingAndGlyphs">400</text>
<text x="1861.1" y="1371.2" font-size="23.44" textLength="42.4" lengthAdjust="spacingAndGlyphs">600</text>
<text x="1952.5" y="1371.2" font-size="23.44" textLength="42.4" lengthAdjust="spacingAndGlyphs">800</text>
<text x="2036.8" y="1371.2" font-size="23.44" textLength="56.5" lengthAdjust="spacingAndGlyphs">1000</text>
<text x="2128.2" y="1371.2" font-size="23.44" textLength="56.5" lengthAdjust="spacingAndGlyphs">1200</text>
<text x="2219.5" y="1371.2" font-size="23.44" textLength="56.5" lengthAdjust="spacingAndGlyphs">1400</text>
<path d="M1790.98 1334.6v9.7M1882.35 1334.6v9.7M1973.72 1334.6v9.7M2065.08 1334.6v9.7M2156.45 1334.6v9.7M2247.82 1334.6v9.7" stroke="#000" stroke-width="2.2" fill="none"/>
<rect x="1745.3" y="1308.1" width="548.2" height="26.5" fill="none" stroke="#000" stroke-width="2.2"/>
<text y="1407.0" font-size="23.44"><tspan x="1946.7" textLength="86.8" lengthAdjust="spacingAndGlyphs">Altitude</tspan><tspan x="2040.6" textLength="51.9" lengthAdjust="spacingAndGlyphs">(km)</tspan></text>
<text y="1403.7" font-size="23.44"><tspan x="1452.5" textLength="111.1" lengthAdjust="spacingAndGlyphs">Operating</tspan><tspan x="1570.7" textLength="70.5" lengthAdjust="spacingAndGlyphs">mode:</tspan><tspan x="1648.2" textLength="34.4" lengthAdjust="spacingAndGlyphs">AM</tspan></text>
<text x="1586.7" y="1451.1" font-size="23.44" textLength="44.9" lengthAdjust="spacingAndGlyphs">VSA</text>
<text x="1717.3" y="1451.1" font-size="23.44" textLength="43.3" lengthAdjust="spacingAndGlyphs">VES</text>
<text x="1844.0" y="1451.1" font-size="23.44" textLength="50.9" lengthAdjust="spacingAndGlyphs">VD+</text>
<text x="1979.8" y="1451.1" font-size="23.44" textLength="40.3" lengthAdjust="spacingAndGlyphs">VD-</text>
<text x="2092.6" y="1451.1" font-size="23.44" textLength="76.1" lengthAdjust="spacingAndGlyphs">VMCPF</text>
<text x="2222.7" y="1451.1" font-size="23.44" textLength="78.5" lengthAdjust="spacingAndGlyphs">VCMPB</text>
<text y="1480.3" font-size="23.44"><tspan x="1450.0" textLength="39.4" lengthAdjust="spacingAndGlyphs">Min</tspan><tspan x="1496.5" textLength="32.5" lengthAdjust="spacingAndGlyphs">(V)</tspan></text>
<text x="1602.9" y="1480.3" font-size="23.44">0</text>
<text x="1711.1" y="1480.3" font-size="23.44" textLength="57.5" lengthAdjust="spacingAndGlyphs">-1.39</text>
<text x="1841.6" y="1480.3" font-size="23.44" textLength="57.5" lengthAdjust="spacingAndGlyphs">-0.03</text>
<text x="1972.1" y="1480.3" font-size="23.44" textLength="57.5" lengthAdjust="spacingAndGlyphs">-0.00</text>
<text x="2120.3" y="1480.3" font-size="23.44" textLength="22.2" lengthAdjust="spacingAndGlyphs">-3</text>
<text x="2255.7" y="1480.3" font-size="23.44">0</text>
<text y="1509.4" font-size="23.44"><tspan x="1450.0" textLength="45.9" lengthAdjust="spacingAndGlyphs">Max</tspan><tspan x="1503.0" textLength="32.5" lengthAdjust="spacingAndGlyphs">(V)</tspan></text>
<text x="1602.9" y="1509.4" font-size="23.44">0</text>
<text x="1711.1" y="1509.4" font-size="23.44" textLength="57.5" lengthAdjust="spacingAndGlyphs">-1.20</text>
<text x="1845.6" y="1509.4" font-size="23.44" textLength="49.5" lengthAdjust="spacingAndGlyphs">0.49</text>
<text x="1976.1" y="1509.4" font-size="23.44" textLength="49.5" lengthAdjust="spacingAndGlyphs">0.49</text>
<text x="2120.3" y="1509.4" font-size="23.44" textLength="22.2" lengthAdjust="spacingAndGlyphs">-1</text>
<text x="2255.7" y="1509.4" font-size="23.44">0</text>
<text y="1538.3" font-size="23.44"><tspan x="1450.0" textLength="40.7" lengthAdjust="spacingAndGlyphs">Ave</tspan><tspan x="1497.8" textLength="32.5" lengthAdjust="spacingAndGlyphs">(V)</tspan></text>
<text x="1602.9" y="1538.3" font-size="23.44">0</text>
<text x="1711.1" y="1538.3" font-size="23.44" textLength="57.5" lengthAdjust="spacingAndGlyphs">-1.38</text>
<text x="1841.6" y="1538.3" font-size="23.44" textLength="57.5" lengthAdjust="spacingAndGlyphs">-0.02</text>
<text x="1976.1" y="1538.3" font-size="23.44" textLength="49.5" lengthAdjust="spacingAndGlyphs">0.02</text>
<text x="2120.3" y="1538.3" font-size="23.44" textLength="22.2" lengthAdjust="spacingAndGlyphs">-2</text>
<text x="2255.7" y="1538.3" font-size="23.44">0</text>
<text y="1579.5" font-size="29.31"><tspan x="1447.5" textLength="129.3" lengthAdjust="spacingAndGlyphs">Produced</tspan><tspan x="1585.6" textLength="34.1" lengthAdjust="spacingAndGlyphs">by</tspan><tspan x="1628.5" textLength="190.7" lengthAdjust="spacingAndGlyphs">irm_summary</tspan><tspan x="1828.1" textLength="101.7" lengthAdjust="spacingAndGlyphs">version</tspan><tspan x="1938.6">5</tspan></text>
<g filter="url(#lb0)">
<polygon points="182.9,72.2 224,0.8 307.3,0.8 348.9,72.2 307.3,144.4 224,144.4" fill="#fdfefe" stroke="#cfe7ea" stroke-width="1"/>
<g clip-path="url(#hexclip)">
<polygon points="192.2,72.7 228.3,9.1 303,9.1 338.8,72.7 305.8,131 226,130.6" fill="#04080d"/>
<path d="M196 94 C 230 78, 285 66.5, 340 64 L340 76 C 285 77, 230 88, 198 104Z" fill="#1c8a50" filter="url(#lb2)"/>
<path d="M262 78.5 C 285 72.5, 310 70, 338 69" stroke="#3bbf7c" stroke-width="2.4" fill="none" opacity="0.75" filter="url(#lb1)"/>
<path d="M196 99.5 C 230 83, 285 73, 340 72.5 L340 135 L196 135Z" fill="#0a1d2e"/>
<path d="M196 102.5 C 230 86, 285 76, 340 75.5 L340 135 L196 135Z" fill="url(#earthg)"/>
<path d="M198 103.5 C 231 87.5, 285 77.5, 340 77" stroke="#f2f8ff" stroke-width="3.2" fill="none" filter="url(#lb1)"/>
<g filter="url(#lb1)" fill="#f4f9ff" opacity="0.85">
<ellipse cx="255" cy="98" rx="34" ry="4" transform="rotate(-14 255 98)"/><ellipse cx="305" cy="88" rx="30" ry="4.5" transform="rotate(-8 305 88)"/><ellipse cx="240" cy="114" rx="20" ry="3" transform="rotate(-14 240 114)"/><ellipse cx="288" cy="103" rx="24" ry="3.5" transform="rotate(-12 288 103)"/><ellipse cx="226" cy="108" rx="12" ry="3" transform="rotate(-20 226 108)"/><ellipse cx="322" cy="98" rx="12" ry="3" transform="rotate(-12 322 98)"/><ellipse cx="268" cy="112" rx="16" ry="2.5" transform="rotate(-10 268 112)"/><ellipse cx="250" cy="124" rx="14" ry="2.2" transform="rotate(-12 250 124)"/>
</g>
<path d="M296 117 L318 106 L322 112 L306 131 L296 124Z" fill="#2c63b8" filter="url(#lb1)"/>
<path d="M232 131 Q250 118 272 118 Q292 120 306 131 Z" fill="#fcfdff" filter="url(#lb1)"/>
<line x1="276.2" y1="63.1" x2="305.8" y2="107.1" stroke="#f2f6fb" stroke-width="1.3" opacity="0.9"/>
<line x1="243.6" y1="14.3" x2="247.0" y2="28.7" stroke="#6b6b60" stroke-width="0.8"/>
<line x1="279.0" y1="28.7" x2="264.2" y2="36.8" stroke="#6b6b60" stroke-width="0.8"/>
<line x1="219.7" y1="59.8" x2="241.3" y2="49.7" stroke="#8a7a5a" stroke-width="0.8"/>
<line x1="254.2" y1="72.7" x2="244.1" y2="89.4" stroke="#c08a3a" stroke-width="0.8"/>
<line x1="221.6" y1="60.4" x2="237.0" y2="62.2" stroke="#d9d0c0" stroke-width="0.8"/>
<ellipse cx="223.1" cy="60.7" rx="2.2" ry="1.1" fill="#f5a63a"/>
<ellipse cx="244.1" cy="89.4" rx="1.2" ry="1.2" fill="#d98a2a"/>
<polygon points="267.6,54.0 281.9,55.0 278.6,62.6 269.5,73.2 256.1,73.2" fill="#e9c478"/>
<polygon points="269.5,57.4 280.0,57.4 277.1,62.2 270.4,68.9 261.8,70.8" fill="#f6ecd2"/>
<polygon points="268.5,55.5 275.2,56.0 272.8,61.2 269.5,58.3" fill="#4a3a20"/>
<polygon points="247.3,34.4 250.3,33.7 266.6,39.7 278.6,46.9 281.9,55.0 267.6,54.0 249.4,42.1" fill="#2d68ba"/>
<polygon points="249.4,42.1 267.6,54.0 256.1,72.9 238.7,61.2 241.3,49.7" fill="#3f83d6"/>
<polygon points="247.3,34.4 249.4,42.1 241.3,49.7 240.3,45.9" fill="#d9912f"/>
<polygon points="256.1,72.9 264.7,76.5 265.6,79.4 259.0,80.3" fill="#8a8f9a"/>
</g>
<circle cx="265.6" cy="116.2" r="6.8" fill="#1f5fb5"/>
<path d="M262.1 116.7 Q265.6 110.2 269.1 116.7" stroke="#e8f0fa" stroke-width="0.9" fill="none"/>
<rect x="262.0" y="118.4" width="7.2" height="1.6" fill="#e8f0fa"/>
<circle cx="265.6" cy="116.5" r="0.9" fill="#e03a3a"/>
<text x="265.4" y="133.6" font-size="7" font-weight="bold" fill="#2aa9e0" text-anchor="middle" textLength="59" lengthAdjust="spacingAndGlyphs">CASSIOPE</text>
<circle cx="232.2" cy="27.7" r="1.3" fill="#b9b4ff"/>
<circle cx="202.0" cy="66.8" r="1.1" fill="#a9a0f0"/>
<circle cx="286.2" cy="10.7" r="0.5" fill="#888"/>
<circle cx="276.6" cy="18.2" r="0.5" fill="#999"/>
<circle cx="304.9" cy="46.9" r="0.5" fill="#777"/>
<circle cx="294.3" cy="11.5" r="0.4" fill="#777"/>
<circle cx="271.4" cy="25.3" r="0.4" fill="#888"/>
</g>
<g filter="url(#lb0)">
<g clip-path="url(#esadisk)">
<g fill="none" stroke="#4a82c3" stroke-width="1.65">
<circle cx="2141" cy="3" r="20.00"/>
<circle cx="2141" cy="3" r="23.00"/>
<circle cx="2141" cy="3" r="26.00"/>
<circle cx="2141" cy="3" r="29.00"/>
<circle cx="2141" cy="3" r="32.00"/>
<circle cx="2141" cy="3" r="35.00"/>
<circle cx="2141" cy="3" r="38.00"/>
<circle cx="2141" cy="3" r="41.00"/>
<circle cx="2141" cy="3" r="44.00"/>
<circle cx="2141" cy="3" r="47.00"/>
<circle cx="2141" cy="3" r="50.00"/>
<circle cx="2141" cy="3" r="53.00"/>
<circle cx="2141" cy="3" r="56.00"/>
<circle cx="2141" cy="3" r="59.00"/>
<circle cx="2141" cy="3" r="62.00"/>
<circle cx="2141" cy="3" r="65.00"/>
<circle cx="2141" cy="3" r="68.00"/>
<circle cx="2141" cy="3" r="71.00"/>
<circle cx="2141" cy="3" r="74.00"/>
<circle cx="2141" cy="3" r="77.00"/>
<circle cx="2141" cy="3" r="80.00"/>
<circle cx="2141" cy="3" r="83.00"/>
<circle cx="2141" cy="3" r="86.00"/>
<circle cx="2141" cy="3" r="89.00"/>
<circle cx="2141" cy="3" r="92.00"/>
<circle cx="2141" cy="3" r="95.00"/>
<circle cx="2141" cy="3" r="98.00"/>
<circle cx="2141" cy="3" r="101.00"/>
<circle cx="2141" cy="3" r="104.00"/>
<circle cx="2141" cy="3" r="107.00"/>
<circle cx="2141" cy="3" r="110.00"/>
<circle cx="2141" cy="3" r="113.00"/>
<circle cx="2141" cy="3" r="116.00"/>
<circle cx="2141" cy="3" r="119.00"/>
<circle cx="2141" cy="3" r="122.00"/>
<circle cx="2141" cy="3" r="125.00"/>
<circle cx="2141" cy="3" r="128.00"/>
<circle cx="2141" cy="3" r="131.00"/>
<circle cx="2141" cy="3" r="134.00"/>
<circle cx="2141" cy="3" r="137.00"/>
<circle cx="2141" cy="3" r="140.00"/>
<circle cx="2141" cy="3" r="143.00"/>
<circle cx="2141" cy="3" r="146.00"/>
<circle cx="2141" cy="3" r="149.00"/>
<circle cx="2141" cy="3" r="152.00"/>
<circle cx="2141" cy="3" r="155.00"/>
<circle cx="2141" cy="3" r="158.00"/>
</g>
<circle cx="2109.2" cy="67" r="26.5" fill="#fff"/>
<path d="M2112 84 L2142 76 L2142 98 L2118 95.5 Z" fill="#fff"/>
</g>
<circle cx="2056.6" cy="65.2" r="6.2" fill="#fff"/>
<g clip-path="url(#esaglobe)" stroke="#4a82c3" stroke-width="1.9">
<path d="M2093.1 49.10 Q2114.1 46.90 2135.1 48.50" fill="none"/>
<path d="M2093.1 52.60 Q2114.1 50.40 2135.1 52.00" fill="none"/>
<path d="M2093.1 56.10 Q2114.1 53.90 2135.1 55.50" fill="none"/>
<path d="M2093.1 59.60 Q2114.1 57.40 2135.1 59.00" fill="none"/>
<path d="M2093.1 73.60 Q2114.1 71.40 2135.1 73.00" fill="none"/>
<path d="M2093.1 77.10 Q2114.1 74.90 2135.1 76.50" fill="none"/>
<path d="M2093.1 80.60 Q2114.1 78.40 2135.1 80.00" fill="none"/>
<path d="M2093.1 84.10 Q2114.1 81.90 2135.1 83.50" fill="none"/>
<path d="M2093.1 87.60 Q2114.1 85.40 2135.1 87.00" fill="none"/>
</g>
<rect x="2099.1" y="60.2" width="40" height="9.6" fill="#fff"/>
<path d="M2110 70.6 L2134.5 69.8" stroke="#4a82c3" stroke-width="1.2" fill="none"/>
<text x="2142.6" y="94.3" font-size="104.5" font-weight="bold" fill="#15257f" textLength="168.5" lengthAdjust="spacingAndGlyphs">esa</text>
</g>
</svg>
</body></html>
